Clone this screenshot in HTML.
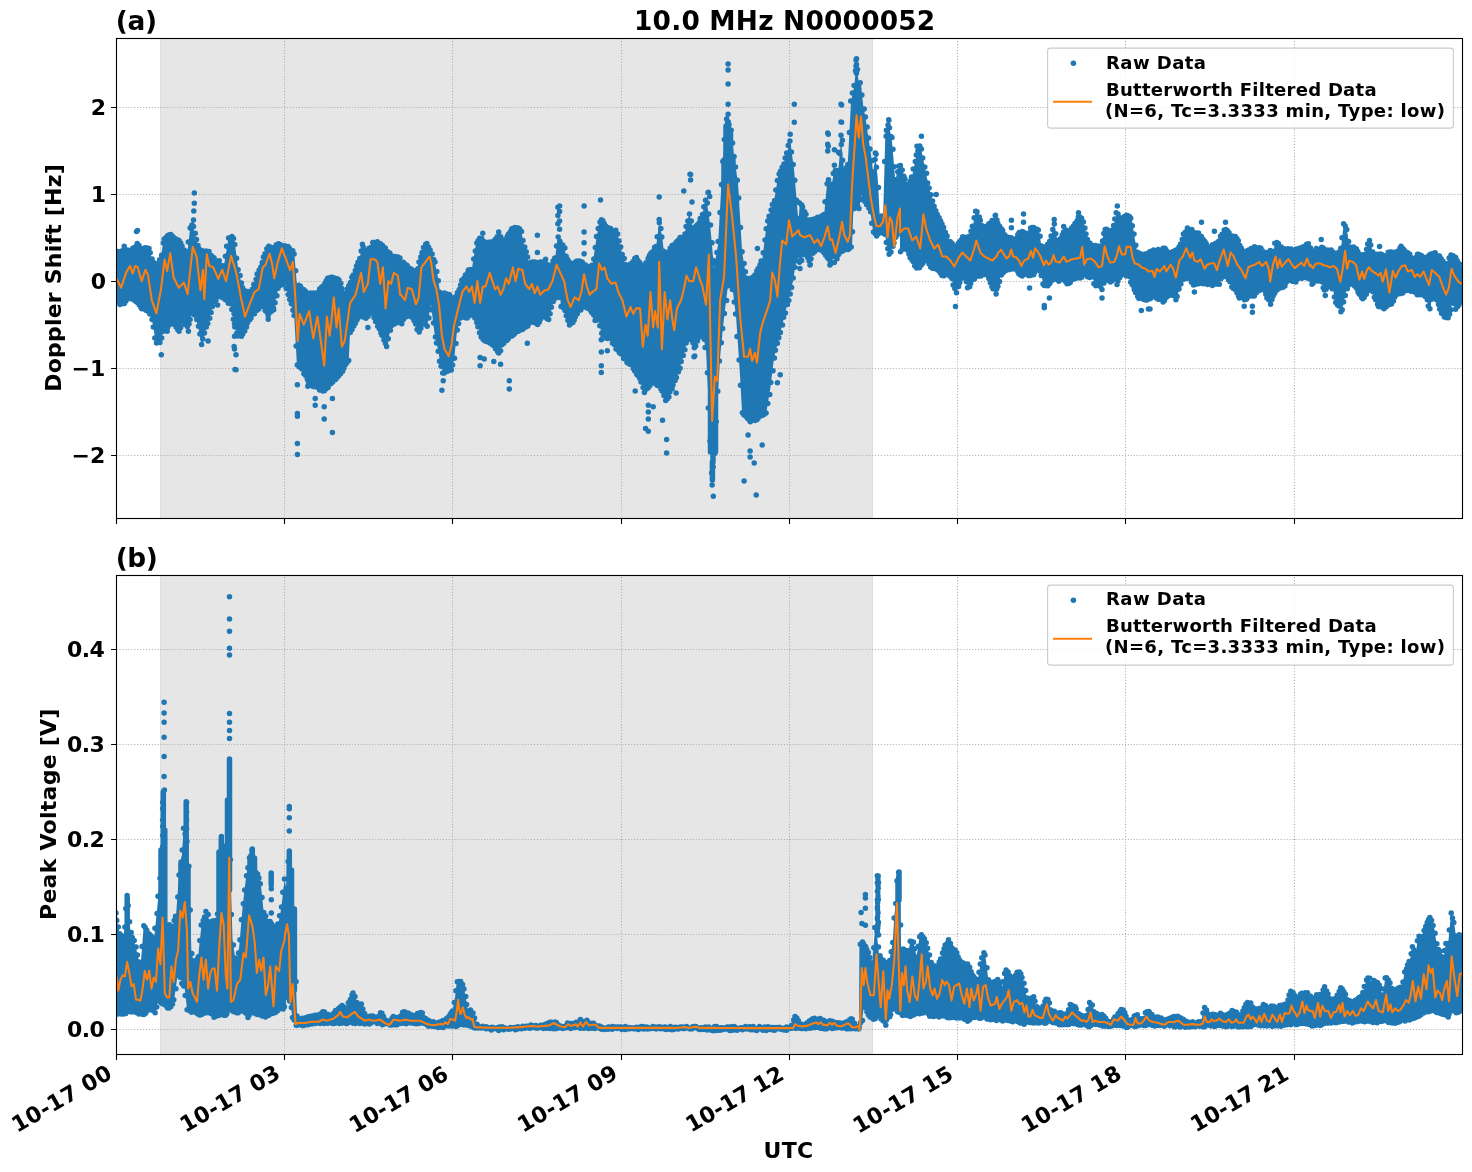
<!DOCTYPE html>
<html><head><meta charset="utf-8"><title>10.0 MHz N0000052</title>
<style>html,body{margin:0;padding:0;background:#fff;}svg{display:block;will-change:transform;}</style></head>
<body>
<svg width="1472" height="1172" viewBox="0 0 1472 1172">
<rect width="1472" height="1172" fill="#fff"/>
<defs><clipPath id="ca"><rect x="116.5" y="38.5" width="1346.0" height="480.0"/></clipPath><clipPath id="cb"><rect x="116.5" y="575.5" width="1346.0" height="479.0"/></clipPath></defs>
<rect x="160" y="38.5" width="713" height="480.0" fill="#e6e6e6"/>
<path d="M160.5 38.5V518.5M872.5 38.5V518.5" stroke="#dddddd" stroke-width="1"/>
<path d="M284.5 518.5V38.5M452.5 518.5V38.5M621.5 518.5V38.5M789.5 518.5V38.5M957.5 518.5V38.5M1125.5 518.5V38.5M1294.5 518.5V38.5M116.5 107.5H1462.5M116.5 194.5H1462.5M116.5 281.5H1462.5M116.5 368.5H1462.5M116.5 455.5H1462.5" stroke="#b0b0b0" stroke-width="1.11" stroke-dasharray="1.11 1.83" fill="none"/>
<g clip-path="url(#ca)"><polygon points="113.0,252.9 116.5,252.9 118.5,252.4 120.5,251.9 121.1,251.8 122.4,251.6 122.5,251.6 124.5,251.2 126.5,250.9 128.5,250.6 128.8,250.5 130.5,249.3 132.5,247.9 133.9,246.9 134.5,246.4 136.5,245.0 137.8,244.1 138.5,245.4 140.5,248.7 141.6,250.5 142.5,250.0 144.5,248.8 146.5,247.6 148.0,246.7 148.5,248.2 149.3,250.5 150.5,254.2 151.8,258.2 152.5,259.5 153.1,260.8 154.5,263.5 155.7,265.9 156.5,267.5 156.9,268.4 158.5,264.3 160.5,258.9 160.8,258.2 162.5,247.0 163.3,241.6 164.5,240.2 164.6,240.0 166.5,237.8 167.2,237.0 168.5,235.4 169.7,233.9 170.5,234.8 172.3,237.1 172.5,237.3 174.5,239.8 174.9,240.3 176.5,239.7 178.5,239.1 178.7,239.0 180.5,243.1 182.5,247.6 183.8,250.5 184.5,250.5 186.5,250.5 187.6,250.5 188.5,242.8 190.2,227.5 190.5,227.2 192.5,225.2 192.8,224.9 194.5,231.9 196.5,239.9 197.9,245.4 198.5,246.3 200.5,249.3 201.7,251.2 202.5,252.3 203.0,253.1 204.5,252.3 205.6,251.8 206.5,251.3 208.1,250.5 208.5,251.1 210.5,254.1 212.5,257.1 213.2,258.2 214.5,258.8 216.5,259.8 218.4,260.8 218.5,261.0 220.5,264.0 222.5,267.0 223.5,268.4 224.5,262.3 226.0,253.1 226.5,250.3 228.5,238.3 228.6,237.7 230.0,237.4 230.5,237.2 232.5,237.3 232.7,237.5 233.7,238.1 234.1,238.4 234.5,241.4 236.5,256.0 236.8,258.4 238.2,268.4 238.5,269.9 240.5,279.2 240.9,281.2 242.3,287.5 242.5,287.8 244.5,290.5 246.4,293.0 246.5,292.9 248.5,291.9 250.5,290.9 251.8,290.3 252.5,288.3 254.5,282.3 256.5,276.3 257.3,273.9 258.5,270.9 260.5,265.9 262.5,260.9 262.8,260.2 264.5,255.9 266.5,250.9 268.2,246.6 268.5,246.7 270.5,247.2 272.5,247.7 273.7,247.9 274.5,247.3 276.5,245.8 278.5,244.3 279.1,243.9 280.5,244.5 282.5,245.5 284.5,246.5 284.6,246.6 286.5,247.1 288.5,247.6 288.7,247.6 290.1,247.9 290.5,248.4 292.5,250.4 294.2,252.0 294.5,256.1 296.5,280.1 296.9,284.8 298.5,285.9 300.5,287.2 301.0,287.5 302.5,289.0 304.5,291.0 306.5,293.0 306.5,293.0 308.5,293.5 310.5,294.0 311.9,294.4 312.5,294.2 314.5,293.7 316.5,293.2 317.4,293.0 318.5,291.3 320.5,288.3 322.5,285.3 322.8,284.8 324.5,282.7 326.5,280.2 328.3,278.0 328.5,277.9 330.5,277.4 332.5,276.9 333.8,276.6 334.5,277.0 336.5,278.0 338.5,279.0 339.2,279.3 340.5,283.2 342.5,289.2 344.5,295.2 344.7,295.7 346.5,291.2 348.5,286.2 348.8,285.5 350.1,282.1 350.5,281.2 352.5,276.2 354.5,271.2 355.6,268.4 356.5,266.0 358.5,260.7 359.7,257.5 360.5,254.3 361.1,252.0 362.4,246.6 362.5,246.7 364.5,250.7 366.5,254.7 366.5,254.8 368.5,250.8 370.5,246.8 372.0,243.9 372.5,243.6 374.5,242.6 376.5,241.6 377.4,241.1 378.5,242.2 380.5,244.2 382.5,246.2 382.9,246.6 384.5,248.2 386.5,250.2 387.0,250.7 388.4,252.0 388.5,252.2 390.5,254.2 391.1,254.8 392.5,256.2 393.8,257.5 394.5,257.5 396.5,257.5 398.5,257.5 399.3,257.5 400.5,259.6 400.9,261.6 402.5,262.8 404.5,264.3 406.4,265.7 406.5,265.8 408.5,266.8 410.5,267.8 411.8,268.4 412.5,269.3 414.5,272.0 415.9,273.9 416.5,271.6 418.5,263.6 418.7,263.0 420.0,257.5 420.5,256.3 422.5,250.9 422.8,250.2 424.1,246.6 424.5,246.2 426.5,244.2 426.9,243.9 428.5,247.1 430.5,251.1 431.0,252.0 432.5,256.2 434.5,261.5 435.1,263.0 436.5,270.2 437.8,276.6 438.5,281.6 440.5,295.6 440.5,295.7 442.5,294.4 443.2,293.9 444.5,293.1 444.6,293.0 446.5,293.6 447.3,293.9 448.5,294.3 448.7,294.4 450.5,297.4 451.4,298.9 452.5,300.7 452.8,301.2 454.2,298.5 454.5,297.8 456.5,293.8 456.9,293.0 458.3,290.3 458.5,289.6 460.5,284.3 461.0,283.0 462.4,279.3 462.5,279.1 464.5,276.1 466.5,273.2 466.5,273.1 467.8,271.2 468.5,270.7 470.5,269.4 471.9,268.4 472.5,264.9 474.5,252.9 476.0,243.9 476.5,243.2 477.4,242.0 478.5,240.5 480.1,238.4 480.5,238.7 481.5,239.3 482.5,240.0 484.2,241.1 484.5,241.3 485.6,242.0 486.5,242.7 488.3,243.9 488.5,243.7 490.5,242.7 491.0,242.5 492.5,241.7 493.8,241.1 494.5,240.4 495.1,239.8 496.5,238.4 498.5,236.4 499.2,235.7 500.5,236.9 502.5,238.9 503.3,239.8 504.5,240.9 504.7,241.1 506.5,237.5 507.4,235.7 508.5,233.5 510.1,230.2 510.5,230.0 512.5,229.0 514.5,228.0 515.6,227.5 516.5,227.9 518.5,228.9 520.5,229.9 521.1,230.2 522.5,237.4 523.8,243.9 524.5,246.3 526.5,253.3 526.5,253.4 528.5,260.3 529.2,263.0 530.5,263.0 532.0,263.0 532.5,263.0 534.5,263.0 534.7,263.0 536.5,263.0 537.4,263.0 538.5,263.0 540.2,263.0 540.5,263.0 542.5,263.0 542.9,263.0 544.5,263.0 545.6,263.0 546.5,263.4 548.4,264.3 548.5,264.4 550.5,265.4 551.1,265.7 552.5,262.9 553.8,260.2 554.5,258.9 555.2,257.5 556.5,247.0 557.9,235.7 558.5,237.7 559.3,239.8 560.5,241.8 560.9,243.9 562.5,243.9 563.7,243.9 564.5,248.1 565.0,250.7 566.4,257.5 566.5,257.7 568.5,261.7 569.1,263.0 570.5,265.7 570.5,265.7 571.8,264.8 572.5,264.3 574.5,263.0 574.6,263.0 575.9,262.5 576.5,262.3 578.5,261.7 578.7,261.6 580.0,262.1 580.5,262.2 582.5,262.9 582.8,263.0 584.1,264.3 584.5,264.7 586.5,266.7 588.2,268.4 588.5,268.2 589.6,267.5 590.5,266.9 592.3,265.7 592.5,264.5 594.5,251.2 595.1,247.5 596.4,238.4 596.5,237.9 598.5,225.9 599.1,222.0 600.5,220.7 601.9,219.3 602.5,220.5 604.5,224.5 604.6,224.7 606.0,225.6 606.5,226.0 608.5,227.3 608.7,227.5 610.1,228.4 610.5,228.7 612.5,230.0 612.8,230.2 614.5,230.2 615.5,230.2 616.5,230.2 616.9,230.2 618.5,238.2 619.6,243.9 620.5,247.4 621.0,249.3 622.4,254.8 622.5,255.3 624.5,261.9 626.5,268.4 626.5,268.4 628.5,266.4 630.5,264.4 631.9,263.0 632.5,262.2 634.5,259.5 636.0,257.5 636.5,258.2 638.5,260.8 640.1,263.0 640.5,263.5 642.5,266.2 644.2,268.4 644.5,267.6 646.5,262.3 648.3,257.5 648.5,257.2 650.5,254.6 652.4,252.0 652.5,251.8 654.5,247.8 656.5,243.9 656.5,243.7 658.5,227.7 659.2,222.0 660.5,228.4 661.9,235.7 662.5,240.1 664.5,256.1 664.7,257.5 666.0,256.1 666.5,255.7 667.4,254.8 668.5,252.6 670.1,249.3 670.5,248.6 671.5,246.6 672.5,245.9 674.2,244.8 674.5,244.6 675.6,243.9 676.5,242.6 678.3,240.2 678.5,240.0 679.7,238.4 680.5,238.4 682.4,238.4 682.5,238.4 683.8,238.4 684.5,234.8 686.5,224.8 686.5,224.7 688.5,216.8 689.2,213.8 690.0,216.8 690.5,218.8 690.6,219.3 692.5,226.8 693.3,230.2 694.0,229.3 694.5,228.7 694.7,228.4 696.5,226.0 697.4,224.7 698.0,224.0 698.5,223.3 698.8,222.9 700.5,217.7 701.5,216.7 702.0,216.2 702.5,213.8 702.9,211.8 704.5,203.8 705.6,198.2 706.0,196.1 706.5,199.3 708.0,210.1 708.4,212.4 708.5,213.3 710.0,224.2 710.5,229.2 712.1,246.2 712.5,251.2 714.1,268.3 714.5,265.6 714.9,263.5 716.5,253.6 717.3,249.0 718.1,244.2 718.5,236.4 720.1,208.1 720.5,200.4 722.1,172.1 722.5,166.6 724.1,146.0 724.5,140.6 726.1,119.9 726.5,120.3 728.1,121.9 728.5,122.3 730.1,123.9 730.5,127.2 732.1,140.0 732.5,143.2 734.1,156.0 734.5,158.8 736.1,170.1 736.5,172.8 738.1,184.1 738.5,190.6 740.1,218.2 740.5,224.6 742.1,252.3 742.5,254.5 744.5,266.5 746.1,276.3 746.5,276.7 748.5,278.7 750.1,280.3 750.5,280.0 752.5,278.0 754.2,276.3 754.5,275.6 756.5,271.6 758.2,268.3 758.5,267.6 760.5,263.6 762.2,260.3 762.5,257.7 764.5,241.7 766.2,228.2 766.5,226.9 768.5,218.9 770.2,212.2 770.5,211.2 772.5,205.2 774.2,200.1 774.5,198.3 776.5,186.3 778.2,176.1 778.5,175.5 780.5,171.5 782.2,168.0 782.5,167.2 784.5,161.2 786.2,156.0 786.5,154.9 788.5,146.9 790.2,140.0 790.5,142.1 792.2,156.0 792.5,158.1 794.3,172.1 794.5,175.1 796.3,196.1 796.5,199.1 798.3,220.2 798.5,220.9 800.0,201.2 800.5,202.3 802.3,206.3 802.5,206.8 804.4,211.2 804.5,211.3 806.5,215.8 808.5,220.3 808.9,221.1 810.0,220.8 810.3,220.7 810.5,220.6 812.5,219.9 813.3,219.7 814.5,219.3 816.5,218.6 818.3,218.0 818.5,217.9 820.5,217.3 822.2,216.7 822.5,216.0 824.4,212.3 824.5,211.1 826.3,191.6 826.5,189.8 827.7,176.8 828.5,179.9 829.9,185.7 830.3,187.3 830.5,187.9 831.0,190.1 832.5,180.4 833.3,175.3 834.3,168.1 834.4,167.9 834.5,168.3 836.5,173.6 836.6,173.8 837.7,176.8 838.4,169.7 838.5,168.2 839.9,153.1 840.5,146.9 841.0,141.3 842.4,153.9 842.5,155.1 844.3,172.4 844.5,172.0 846.4,168.3 846.5,168.0 847.7,165.7 848.5,149.7 848.8,144.3 850.4,113.2 850.5,111.0 851.0,101.4 852.1,96.2 852.4,94.9 852.5,94.4 853.2,91.1 854.3,85.9 854.4,85.1 854.5,83.9 855.4,73.7 856.5,61.9 856.5,61.5 857.6,72.1 858.4,80.1 858.5,81.1 858.8,83.7 860.0,83.7 860.0,83.7 860.5,83.7 861.0,83.7 862.1,94.7 862.5,98.9 863.2,105.8 864.1,110.2 864.5,112.4 865.4,116.9 866.5,124.5 866.5,124.7 867.6,132.4 868.1,135.4 868.5,138.3 869.8,147.2 870.5,151.6 871.0,154.6 872.1,163.6 872.5,167.0 873.2,172.4 874.5,163.0 875.4,156.8 876.1,163.1 876.5,166.8 876.5,166.8 877.6,176.8 878.5,192.9 879.8,216.7 880.1,216.7 880.5,216.7 882.5,216.7 883.1,216.7 884.1,180.3 884.3,174.6 884.5,165.3 885.4,132.4 886.5,129.4 887.6,126.5 888.1,125.1 888.5,124.1 888.7,123.6 889.8,129.5 890.5,133.2 892.0,141.3 892.1,142.6 892.5,147.1 893.1,154.6 894.5,171.1 895.3,181.2 896.1,177.0 896.5,175.3 896.5,175.1 898.5,164.4 898.7,163.5 899.8,167.0 900.1,164.0 900.5,165.1 902.5,171.1 904.2,176.1 904.5,177.1 906.5,183.1 908.2,188.1 908.5,187.1 910.5,181.1 912.2,176.1 912.5,174.4 914.5,164.4 916.2,156.0 916.5,155.1 918.5,149.1 920.2,144.0 920.5,145.5 922.5,155.5 924.2,164.0 924.5,165.5 926.5,175.5 928.2,184.1 928.5,185.2 930.5,193.2 932.2,200.1 932.5,201.0 934.5,207.0 936.2,212.2 936.5,212.7 938.5,216.7 940.2,220.2 940.5,220.7 942.5,224.7 944.3,228.2 944.5,228.9 946.5,234.9 948.3,240.2 948.5,240.5 950.5,242.5 952.3,244.2 952.5,244.5 954.5,246.5 956.3,248.2 956.5,247.8 958.5,243.8 960.3,240.2 960.5,240.0 962.5,238.0 964.3,236.2 964.5,236.4 966.5,238.4 968.3,240.2 968.5,239.6 970.5,233.6 972.3,228.2 972.5,227.3 974.5,217.3 976.3,208.1 976.5,208.7 978.5,214.7 980.3,220.2 980.5,220.7 982.5,226.7 984.3,232.2 984.5,231.9 986.5,227.9 988.4,224.2 988.5,224.0 990.0,222.5 990.5,222.0 992.4,220.2 992.5,220.2 994.1,220.2 994.5,220.2 996.4,220.2 996.5,220.4 996.8,221.1 998.2,223.8 998.5,224.4 999.6,226.5 1000.4,228.2 1000.5,228.2 1002.3,228.8 1002.5,229.2 1003.7,231.5 1004.4,233.0 1004.5,233.2 1006.4,237.0 1006.5,237.0 1007.7,237.5 1008.5,237.7 1010.0,238.2 1010.5,238.4 1010.5,238.4 1011.8,239.3 1012.5,239.7 1014.5,241.0 1014.6,241.1 1015.9,238.4 1016.5,237.2 1018.5,233.2 1018.7,232.9 1020.0,232.4 1020.5,232.3 1022.5,231.6 1022.8,231.5 1024.5,233.3 1025.5,234.3 1026.5,235.3 1026.9,235.6 1028.5,232.4 1029.6,230.2 1030.5,228.4 1031.0,227.4 1032.5,228.0 1033.7,228.4 1034.5,228.6 1035.1,228.8 1036.5,229.8 1037.8,230.6 1038.5,231.1 1039.2,231.5 1040.5,240.3 1040.5,240.4 1041.9,249.3 1042.5,248.9 1043.2,248.4 1044.5,247.5 1046.0,246.6 1046.5,245.9 1047.3,244.7 1048.5,243.2 1050.1,241.1 1050.5,239.2 1051.4,235.0 1052.5,230.2 1052.8,228.8 1054.2,224.7 1054.5,226.3 1055.5,231.5 1056.5,236.3 1056.9,238.4 1058.5,240.0 1059.6,241.1 1060.5,239.4 1062.5,235.4 1063.7,232.9 1064.5,232.4 1066.5,231.1 1067.8,230.2 1068.5,229.9 1070.5,229.3 1071.9,228.8 1072.5,227.8 1074.5,224.5 1076.0,222.0 1076.5,221.0 1078.5,217.0 1078.7,216.5 1080.1,217.9 1080.5,218.3 1082.5,220.3 1082.8,220.6 1084.2,226.1 1084.5,227.2 1085.6,231.5 1086.5,234.3 1088.3,239.7 1088.5,240.2 1090.5,245.2 1091.0,246.6 1092.4,246.6 1092.5,246.6 1094.5,246.6 1095.1,246.6 1096.5,246.6 1096.5,246.6 1098.5,245.9 1099.2,245.6 1100.5,245.2 1100.6,245.2 1102.0,240.4 1102.5,238.5 1103.3,235.6 1104.5,232.7 1106.1,228.8 1106.5,229.4 1108.5,232.1 1110.2,234.3 1110.5,233.3 1112.5,228.0 1114.2,223.3 1114.5,222.2 1116.5,213.2 1117.0,211.1 1118.3,214.2 1118.5,214.6 1120.5,219.3 1121.1,220.6 1122.4,219.2 1122.5,219.2 1124.5,217.2 1125.2,216.5 1126.5,215.9 1127.9,215.2 1128.5,215.9 1129.3,217.0 1130.5,218.6 1132.0,220.6 1132.5,223.9 1133.4,229.5 1134.5,236.9 1134.7,238.4 1136.5,248.1 1137.5,253.4 1138.5,253.7 1140.5,254.4 1141.6,254.7 1142.5,254.7 1144.5,254.7 1146.5,254.7 1147.0,254.7 1148.5,253.6 1150.0,252.5 1150.5,252.1 1152.5,250.7 1152.5,250.7 1154.1,251.2 1154.5,251.3 1155.5,250.7 1156.5,250.4 1156.6,250.4 1158.2,250.0 1158.5,249.9 1160.0,249.5 1160.5,249.4 1160.9,249.3 1162.3,248.8 1162.5,248.8 1164.5,248.1 1165.0,247.9 1166.4,249.7 1166.5,249.9 1168.5,252.6 1169.1,253.4 1170.5,253.0 1170.5,253.0 1172.5,252.5 1174.5,252.0 1174.6,252.0 1176.5,250.1 1176.6,250.0 1178.5,248.1 1178.7,247.9 1179.4,246.2 1180.5,243.4 1181.4,241.1 1182.1,239.4 1182.5,238.4 1184.1,234.3 1184.5,233.5 1185.5,231.5 1186.5,229.5 1186.9,228.8 1188.5,229.4 1189.6,229.7 1190.5,230.0 1191.0,230.2 1192.5,230.7 1193.7,231.1 1194.5,231.4 1195.1,231.5 1196.5,232.5 1197.8,233.4 1198.5,233.8 1199.2,234.3 1200.5,235.6 1201.9,237.0 1202.5,237.6 1203.2,238.4 1204.5,240.9 1206.0,243.8 1206.5,244.9 1207.3,246.6 1208.5,247.7 1210.1,249.3 1210.5,248.7 1212.5,245.7 1212.8,245.2 1214.2,244.7 1214.5,244.6 1216.5,244.0 1216.9,243.8 1218.3,241.1 1218.5,240.6 1220.5,236.6 1221.0,235.6 1222.5,233.1 1224.5,229.8 1225.1,228.8 1226.5,230.7 1228.5,233.3 1229.2,234.3 1230.5,234.7 1231.9,235.2 1232.5,235.4 1233.3,235.6 1234.5,236.8 1234.7,237.0 1236.5,238.8 1237.4,239.7 1238.5,242.3 1240.5,247.0 1241.5,249.3 1242.5,250.3 1244.5,252.3 1245.6,253.4 1246.5,252.5 1248.5,250.5 1249.7,249.3 1250.5,249.0 1252.5,248.3 1253.8,247.9 1254.5,247.7 1256.5,247.0 1257.9,246.6 1258.5,247.2 1260.5,249.2 1262.0,250.7 1262.5,251.0 1264.5,252.3 1266.1,253.4 1266.5,253.1 1268.5,251.8 1270.2,250.7 1270.5,251.0 1272.5,253.0 1272.9,253.4 1274.2,247.2 1274.5,246.1 1275.6,241.1 1276.5,242.0 1278.3,243.8 1278.5,244.1 1280.5,247.1 1281.1,247.9 1282.4,247.9 1282.5,247.9 1284.5,247.9 1285.2,247.9 1286.5,248.4 1286.5,248.4 1288.5,249.0 1289.3,249.3 1290.5,249.7 1290.6,249.7 1292.5,250.4 1293.4,250.7 1294.5,250.3 1294.7,250.2 1296.5,249.6 1297.5,249.3 1298.5,248.9 1298.8,248.8 1300.0,248.4 1300.5,248.3 1301.6,247.9 1302.5,247.6 1302.9,247.5 1304.1,247.1 1304.5,246.9 1305.7,246.6 1306.5,245.7 1307.0,245.2 1308.2,244.0 1308.4,243.8 1308.5,244.2 1310.5,249.2 1311.1,250.6 1312.3,253.4 1312.5,253.2 1312.5,253.2 1314.5,251.2 1315.2,250.5 1316.4,249.3 1316.5,249.2 1316.6,249.2 1318.5,248.6 1320.0,248.1 1320.5,247.9 1320.5,247.9 1322.5,248.6 1324.5,249.3 1324.6,249.3 1326.5,249.3 1328.5,249.3 1328.7,249.3 1330.5,250.5 1332.5,251.8 1332.8,252.0 1334.5,253.2 1335.5,253.8 1336.5,254.5 1336.9,254.7 1338.2,252.5 1338.5,252.0 1340.5,248.7 1341.0,247.9 1342.5,234.8 1343.7,224.7 1344.5,225.1 1346.4,226.1 1346.5,226.6 1348.5,240.6 1349.2,245.2 1350.5,246.5 1350.5,246.6 1351.9,247.9 1352.5,247.9 1354.5,247.9 1354.6,247.9 1356.0,247.9 1356.5,249.0 1358.5,253.0 1358.7,253.4 1360.1,256.1 1360.5,256.0 1362.5,255.3 1362.8,255.2 1364.2,254.7 1364.5,253.9 1366.5,248.9 1366.9,247.9 1368.5,241.5 1369.0,239.7 1370.5,243.9 1371.0,245.2 1372.5,251.2 1373.7,256.1 1374.5,255.9 1376.5,255.2 1377.8,254.7 1378.5,254.7 1380.5,254.7 1381.9,254.7 1382.5,255.1 1384.5,256.5 1384.7,256.6 1386.0,257.5 1386.5,256.7 1388.5,253.3 1388.7,252.9 1390.1,250.7 1390.5,251.0 1392.5,253.0 1392.8,253.4 1394.2,254.7 1394.5,254.5 1395.6,253.4 1396.5,252.5 1398.3,250.7 1398.5,250.4 1399.7,248.6 1400.5,247.4 1401.0,246.6 1402.5,248.0 1403.8,249.3 1404.5,250.0 1405.1,250.7 1406.5,252.0 1407.9,253.4 1408.5,254.0 1409.2,254.7 1410.5,256.4 1412.0,258.4 1412.5,259.1 1413.3,260.2 1414.5,258.6 1416.1,256.6 1416.5,256.0 1417.4,254.7 1418.5,254.7 1420.2,254.7 1420.5,254.7 1421.5,254.7 1422.5,255.7 1424.2,257.5 1424.5,257.7 1425.6,258.8 1426.5,258.0 1428.3,256.1 1428.5,256.0 1429.7,254.7 1430.5,254.0 1432.4,252.0 1432.5,252.1 1434.5,253.4 1436.5,254.7 1436.5,254.7 1438.5,256.1 1440.5,257.4 1440.6,257.5 1442.5,259.3 1443.4,260.2 1444.5,264.8 1444.7,265.7 1446.1,271.1 1446.5,269.3 1447.5,265.0 1448.5,260.3 1448.8,258.8 1450.2,256.8 1450.5,256.3 1451.6,254.7 1452.5,255.4 1452.9,255.7 1454.5,256.7 1455.7,257.5 1456.5,259.2 1458.4,262.9 1458.5,263.2 1460.5,268.0 1461.8,271.1 1462.5,271.1 1466.0,271.1 1466.0,301.9 1462.5,301.9 1461.8,301.9 1460.5,302.9 1458.5,304.5 1458.4,304.6 1456.5,307.4 1455.7,308.7 1454.5,304.7 1452.9,299.1 1452.5,301.5 1451.6,306.6 1450.5,312.5 1450.2,314.2 1448.8,316.2 1448.5,316.7 1447.5,318.2 1446.5,317.8 1446.1,317.6 1444.7,316.9 1444.5,316.6 1443.4,315.1 1442.5,313.9 1440.6,311.4 1440.5,311.0 1438.5,305.0 1436.5,299.1 1436.5,299.1 1434.5,296.4 1432.5,293.8 1432.4,293.7 1430.5,307.3 1429.7,312.8 1428.5,305.5 1428.3,304.6 1426.5,299.1 1425.6,296.4 1424.5,293.1 1424.2,292.3 1422.5,294.1 1421.5,295.0 1420.5,296.1 1420.2,296.4 1418.5,295.3 1417.4,294.6 1416.5,294.0 1416.1,293.7 1414.5,292.6 1413.3,291.9 1412.5,291.3 1412.0,290.9 1410.5,290.0 1409.2,289.1 1408.5,288.6 1407.9,288.2 1406.5,289.6 1405.1,290.9 1404.5,291.6 1403.8,292.3 1402.5,292.7 1401.0,293.2 1400.5,293.4 1399.7,293.7 1398.5,294.5 1398.3,294.6 1396.5,295.8 1395.6,296.4 1394.5,299.1 1394.2,299.8 1392.8,303.2 1392.5,303.2 1390.5,303.2 1390.1,303.2 1388.7,303.2 1388.5,303.6 1386.5,306.2 1386.0,306.9 1384.7,308.7 1384.5,308.5 1382.5,306.5 1381.9,306.0 1380.5,306.0 1378.5,306.0 1377.8,306.0 1376.5,302.4 1374.5,297.1 1373.7,295.0 1372.5,290.7 1371.0,285.5 1370.5,286.5 1369.0,289.6 1368.5,290.5 1366.9,293.7 1366.5,294.2 1364.5,296.9 1364.2,297.3 1362.8,299.1 1362.5,298.6 1360.5,295.3 1360.1,294.6 1358.7,292.3 1358.5,292.0 1356.5,288.6 1356.0,287.8 1354.6,285.5 1354.5,285.3 1352.5,282.7 1351.9,281.8 1350.5,280.0 1350.5,280.1 1349.2,283.2 1348.5,284.7 1346.5,289.4 1346.4,289.6 1344.5,299.2 1343.7,303.2 1342.5,308.0 1341.0,314.2 1340.5,312.5 1338.5,305.5 1338.2,304.6 1336.9,303.9 1336.5,303.7 1335.5,303.2 1334.5,297.7 1332.8,288.2 1332.5,288.0 1330.5,286.7 1328.7,285.5 1328.5,285.7 1326.5,288.4 1324.6,290.9 1324.5,290.7 1322.5,285.4 1320.5,280.1 1320.5,280.0 1320.0,280.0 1318.5,280.0 1316.6,280.0 1316.5,280.0 1316.4,280.0 1315.2,281.2 1314.5,281.9 1312.5,283.9 1312.5,283.9 1312.3,284.1 1311.1,282.2 1310.5,281.1 1308.5,279.1 1308.4,279.0 1308.2,278.8 1307.0,277.3 1306.5,277.3 1305.7,277.3 1304.5,277.3 1304.1,277.3 1302.9,277.3 1302.5,277.3 1301.6,277.3 1300.5,277.3 1300.0,277.3 1298.8,277.3 1298.5,277.7 1297.5,279.1 1296.5,280.4 1294.7,282.7 1294.5,282.5 1293.4,281.4 1292.5,280.5 1290.6,278.7 1290.5,278.8 1289.3,280.0 1288.5,280.8 1286.5,282.7 1286.5,282.8 1285.2,285.0 1284.5,286.1 1282.5,289.5 1282.4,289.6 1281.1,288.2 1280.5,287.6 1278.5,285.6 1278.3,285.5 1276.5,289.2 1275.6,290.9 1274.5,293.2 1274.2,293.7 1272.9,297.3 1272.5,298.3 1270.5,303.7 1270.2,304.6 1268.5,300.7 1266.5,296.1 1266.1,295.0 1264.5,292.4 1262.5,289.1 1262.0,288.2 1260.5,289.2 1258.5,290.5 1257.9,290.9 1256.5,292.8 1254.5,295.4 1253.8,296.4 1252.5,296.4 1250.5,296.4 1249.7,296.4 1248.5,297.2 1246.5,298.5 1245.6,299.1 1244.5,298.8 1242.5,298.1 1241.5,297.8 1240.5,297.4 1238.5,296.8 1237.4,296.4 1236.5,293.8 1234.7,288.2 1234.5,288.1 1233.3,287.5 1232.5,287.1 1231.9,286.8 1230.5,283.3 1229.2,280.0 1228.5,279.3 1226.5,277.3 1225.1,275.9 1224.5,276.1 1222.5,276.8 1221.0,277.3 1220.5,278.8 1218.5,284.8 1218.3,285.5 1216.9,285.0 1216.5,284.9 1214.5,284.2 1214.2,284.1 1212.8,284.6 1212.5,284.7 1210.5,285.3 1210.1,285.5 1208.5,285.0 1207.3,284.6 1206.5,284.3 1206.0,284.1 1204.5,283.6 1203.2,283.2 1202.5,283.0 1201.9,282.7 1200.5,282.7 1199.2,282.7 1198.5,282.7 1197.8,282.7 1196.5,284.0 1195.1,285.5 1194.5,286.0 1193.7,286.8 1192.5,284.1 1191.0,280.5 1190.5,279.4 1189.6,277.3 1188.5,277.3 1186.9,277.3 1186.5,277.3 1185.5,277.3 1184.5,278.1 1184.1,278.4 1182.5,279.7 1182.1,280.0 1181.4,282.1 1180.5,284.8 1179.4,288.2 1178.7,291.3 1178.5,292.1 1176.6,300.5 1176.5,300.2 1174.6,296.4 1174.5,296.4 1172.5,295.7 1170.5,295.0 1170.5,295.0 1169.1,295.9 1168.5,296.4 1166.5,297.7 1166.4,297.8 1165.0,299.1 1164.5,299.7 1162.5,301.7 1162.3,301.9 1160.9,301.0 1160.5,300.7 1160.0,300.3 1158.5,299.3 1158.2,299.1 1156.6,299.1 1156.5,299.1 1155.5,299.1 1154.5,296.4 1154.1,296.4 1152.5,296.4 1152.5,296.4 1150.5,297.4 1150.0,297.6 1148.5,298.4 1147.0,299.1 1146.5,299.1 1144.5,299.1 1142.5,299.1 1141.6,299.1 1140.5,298.4 1138.5,297.1 1137.5,296.4 1136.5,294.2 1134.7,290.0 1134.5,289.5 1133.4,286.8 1132.5,284.8 1132.0,283.7 1130.5,280.2 1129.3,277.3 1128.5,277.0 1127.9,276.8 1126.5,276.4 1125.2,275.9 1124.5,274.9 1122.5,271.9 1122.4,271.8 1121.1,274.6 1120.5,275.7 1118.5,279.7 1118.3,280.0 1117.0,279.6 1116.5,279.4 1114.5,278.7 1114.2,278.7 1112.5,279.8 1110.5,281.2 1110.2,281.4 1108.5,279.7 1106.5,277.7 1106.1,277.3 1104.5,282.0 1103.3,285.5 1102.5,288.0 1102.0,289.6 1100.6,286.8 1100.5,286.7 1099.2,284.1 1098.5,284.4 1096.5,285.0 1096.5,285.0 1095.1,285.5 1094.5,283.6 1092.5,277.6 1092.4,277.3 1091.0,277.3 1090.5,277.3 1088.5,277.3 1088.3,277.3 1086.5,276.1 1085.6,275.5 1084.5,274.7 1084.2,274.6 1082.8,275.5 1082.5,275.7 1080.5,277.0 1080.1,277.3 1078.7,277.3 1078.5,277.3 1076.5,277.3 1076.0,277.3 1074.5,278.3 1072.5,279.6 1071.9,280.0 1070.5,281.9 1068.5,284.6 1067.8,285.5 1066.5,283.7 1064.5,281.0 1063.7,280.0 1062.5,280.4 1060.5,281.1 1059.6,281.4 1058.5,280.2 1056.9,278.7 1056.5,278.2 1055.5,277.3 1054.5,278.0 1054.2,278.2 1052.8,279.1 1052.5,279.3 1051.4,280.0 1050.5,281.3 1050.1,281.8 1048.5,283.9 1047.3,285.5 1046.5,285.2 1046.0,285.0 1044.5,284.5 1043.2,284.1 1042.5,280.7 1041.9,278.0 1040.5,271.8 1040.5,271.8 1039.2,269.8 1038.5,268.8 1037.8,267.7 1036.5,269.9 1035.1,272.3 1034.5,273.2 1033.7,274.6 1032.5,275.4 1031.0,276.4 1030.5,276.7 1029.6,277.3 1028.5,275.5 1026.9,272.7 1026.5,272.1 1025.5,270.5 1024.5,273.0 1022.8,277.3 1022.5,277.0 1020.5,275.0 1020.0,274.6 1018.7,272.7 1018.5,272.5 1016.5,269.8 1015.9,269.1 1014.6,268.6 1014.5,268.6 1012.5,267.9 1011.8,267.7 1010.5,268.2 1010.5,268.2 1010.0,268.3 1008.5,268.8 1007.7,269.1 1006.5,269.9 1006.4,270.0 1004.5,271.3 1004.4,271.3 1003.7,271.8 1002.5,273.4 1002.3,273.6 1000.5,276.0 1000.4,276.2 999.6,282.5 998.5,284.6 998.2,285.2 996.8,288.0 996.5,288.6 996.4,288.9 994.5,288.9 994.1,288.9 992.5,288.9 992.4,288.9 990.5,283.3 990.0,281.8 988.5,277.3 988.4,276.8 986.5,275.0 984.5,273.0 984.3,272.8 982.5,274.7 980.5,276.7 980.3,276.8 978.5,276.8 976.5,276.8 976.3,276.8 974.5,278.7 972.5,280.7 972.3,280.8 970.5,284.5 968.5,288.5 968.3,288.9 966.5,283.4 964.5,277.4 964.3,276.8 962.5,278.6 960.5,280.6 960.3,280.8 958.5,286.2 956.5,292.2 956.3,292.9 954.5,287.5 952.5,281.5 952.3,280.8 950.5,277.3 948.5,273.3 948.3,272.8 946.5,274.6 944.5,276.6 944.3,276.8 942.5,275.1 940.5,273.1 940.2,272.8 938.5,271.1 936.5,269.1 936.2,268.8 934.5,268.8 932.5,268.8 932.2,268.8 930.5,265.4 928.5,261.4 928.2,260.8 926.5,260.8 924.5,260.8 924.2,260.8 922.5,264.2 920.5,268.2 920.2,268.8 918.5,268.8 916.5,268.8 916.2,268.8 914.5,265.4 912.5,261.4 912.2,260.8 910.5,257.4 908.5,253.4 908.2,252.8 906.5,249.4 904.5,245.4 904.2,244.8 902.5,248.1 900.5,252.1 900.1,252.8 899.8,229.2 898.7,231.4 898.5,231.7 896.5,235.7 896.5,235.8 896.1,236.7 895.3,238.8 894.5,241.0 893.1,244.7 892.5,246.6 892.1,247.7 892.0,248.0 890.5,252.6 889.8,254.7 888.7,251.9 888.5,251.4 888.1,250.4 887.6,249.1 886.5,243.3 885.4,237.3 884.5,232.7 884.3,231.4 884.1,231.4 883.1,231.4 882.5,231.4 880.5,231.4 880.1,231.4 879.8,231.4 878.5,233.1 877.6,234.3 876.5,235.8 876.5,235.8 876.1,235.3 875.4,234.3 874.5,233.1 873.2,231.4 872.5,226.9 872.1,224.1 871.0,216.6 870.5,213.6 869.8,209.2 868.5,207.4 868.1,206.8 867.6,206.2 866.5,204.8 866.5,204.7 865.4,201.4 864.5,198.7 864.1,197.4 863.2,194.8 862.5,192.7 862.1,191.5 861.0,197.4 860.5,199.9 860.0,202.3 860.0,202.5 858.8,209.2 858.5,208.7 858.4,208.5 857.6,206.9 856.5,204.8 856.5,204.7 855.4,202.5 854.5,207.2 854.4,207.7 854.3,208.1 853.2,213.6 852.5,233.7 852.4,236.7 852.1,244.7 851.0,246.2 850.5,246.8 850.4,247.0 848.8,249.1 848.5,249.1 847.7,249.1 846.5,249.1 846.4,249.1 844.5,249.1 844.3,249.1 842.5,250.0 842.4,250.1 841.0,250.8 840.5,251.0 839.9,251.3 838.5,254.2 838.4,254.4 837.7,255.8 836.6,258.0 836.5,257.9 834.5,256.6 834.4,256.5 834.3,256.5 833.3,255.8 832.5,257.0 831.0,259.5 830.5,260.4 830.3,260.6 829.9,261.3 828.5,259.1 827.7,257.8 826.5,255.9 826.3,255.6 824.5,252.8 824.4,252.6 822.5,249.6 822.2,249.1 820.5,249.5 818.5,250.0 818.3,250.1 816.5,250.5 814.5,251.0 813.3,251.3 812.5,253.7 810.5,259.7 810.3,260.4 810.0,261.3 808.9,258.9 808.5,258.1 806.5,253.7 804.5,249.3 804.4,249.1 802.5,255.9 802.3,256.7 800.5,262.9 800.0,264.6 798.5,254.8 798.3,255.4 796.5,260.1 796.3,260.8 794.5,271.3 794.3,272.8 792.5,283.3 792.2,284.8 790.5,291.8 790.2,292.9 788.5,299.8 786.5,307.8 786.2,308.9 784.5,315.8 782.5,323.8 782.2,324.9 780.5,331.8 778.5,339.8 778.2,341.0 776.5,347.8 774.5,355.8 774.2,357.0 772.5,370.6 770.5,386.6 770.2,389.1 768.5,399.3 766.5,411.3 766.2,413.2 764.5,414.8 762.5,416.8 762.2,417.2 760.5,417.2 758.5,417.2 758.2,417.2 756.5,418.8 754.5,420.8 754.2,421.2 752.5,421.2 750.5,421.2 750.1,421.2 748.5,419.5 746.5,417.5 746.1,417.2 744.5,415.5 742.5,413.5 742.1,413.2 740.5,383.9 740.1,377.1 738.5,352.8 738.1,347.0 736.5,322.8 736.1,316.9 734.5,304.0 734.1,300.9 732.5,288.0 732.1,284.8 730.5,284.8 730.1,284.8 728.5,284.8 728.1,284.8 726.5,297.6 726.1,300.9 724.5,313.6 724.1,316.9 722.5,332.7 722.1,337.0 720.5,352.7 720.1,357.0 718.5,386.2 718.1,394.3 717.3,409.1 716.5,424.5 714.9,457.3 714.5,459.8 714.1,463.0 712.5,474.1 712.1,477.3 710.5,446.2 710.0,437.2 708.5,406.2 708.4,403.5 708.0,397.1 706.5,360.1 706.0,349.0 705.6,347.4 704.5,342.8 702.9,336.5 702.5,334.8 702.0,333.0 701.5,333.5 700.5,334.5 698.8,337.4 698.5,338.2 698.0,339.5 697.4,341.0 696.5,343.5 694.7,348.3 694.5,347.7 694.0,346.4 693.3,344.7 692.5,342.4 690.6,337.4 690.5,337.5 690.0,338.2 689.2,339.2 688.5,340.2 686.5,342.8 686.5,342.9 684.5,350.9 683.8,353.8 682.5,358.9 682.4,359.2 680.5,365.6 679.7,368.3 678.5,372.3 678.3,372.9 676.5,377.7 675.6,380.2 674.5,383.1 674.2,383.8 672.5,387.3 671.5,389.3 670.5,391.3 670.1,392.0 668.5,396.3 667.4,399.3 666.5,401.7 666.0,402.9 664.7,398.4 664.5,397.8 662.5,391.1 661.9,389.3 660.5,387.8 659.2,386.5 658.5,385.8 656.5,383.8 656.5,383.8 654.5,382.5 652.5,381.1 652.4,381.1 650.5,383.6 648.5,386.2 648.3,386.5 646.5,388.9 644.5,391.6 644.2,392.0 642.5,386.3 640.5,379.7 640.1,378.3 638.5,376.2 636.5,373.5 636.0,372.9 634.5,369.9 632.5,365.9 631.9,364.7 630.5,364.0 628.5,363.0 626.5,362.0 626.5,361.9 624.5,359.0 622.5,356.0 622.4,355.8 621.0,353.8 620.5,353.3 619.6,352.4 618.5,351.3 616.9,349.7 616.5,349.3 615.5,348.3 614.5,346.2 612.8,342.8 612.5,342.2 610.5,338.2 610.1,337.4 608.7,337.4 608.5,337.4 606.5,337.4 606.0,337.4 604.6,337.4 604.5,337.4 602.5,337.4 601.9,337.4 600.5,329.1 599.1,321.0 598.5,320.1 596.5,317.5 596.4,317.4 595.1,315.5 594.5,315.0 592.5,313.0 592.3,312.8 590.5,311.0 589.6,310.1 588.5,309.0 588.2,308.7 586.5,307.0 584.5,305.0 584.1,304.6 582.8,306.4 582.5,306.8 580.5,309.5 580.0,310.1 578.7,311.9 578.5,312.1 576.5,314.8 575.9,315.5 574.6,318.3 574.5,318.4 572.5,322.4 571.8,323.7 570.5,325.1 570.5,325.1 569.1,326.5 568.5,324.0 566.5,316.0 566.4,315.5 565.0,310.1 564.5,309.7 563.7,309.2 562.5,308.4 560.9,307.3 560.5,300.5 559.3,293.7 558.5,294.5 557.9,295.1 556.5,296.5 555.2,297.8 554.5,298.5 553.8,299.2 552.5,304.4 551.1,310.1 550.5,312.4 548.5,320.4 548.4,321.0 546.5,319.1 545.6,318.3 544.5,317.1 542.9,315.5 542.5,316.1 540.5,319.1 540.2,319.6 538.5,322.1 537.4,323.7 536.5,323.3 534.7,322.4 534.5,322.3 532.5,321.3 532.0,321.0 530.5,322.5 529.2,323.7 528.5,324.5 526.5,326.5 526.5,326.5 524.5,327.5 523.8,327.8 522.5,328.5 521.1,329.2 520.5,329.5 518.5,330.5 516.5,331.5 515.6,331.9 514.5,333.0 512.5,335.0 510.5,337.0 510.1,337.4 508.5,339.0 507.4,340.1 506.5,340.7 504.7,341.9 504.5,342.0 503.3,342.8 502.5,345.0 500.5,350.3 499.2,353.8 498.5,352.8 496.5,350.1 495.1,348.3 494.5,347.5 493.8,346.5 492.5,344.8 491.0,342.8 490.5,342.8 488.5,342.8 488.3,342.8 486.5,342.8 485.6,342.8 484.5,341.4 484.2,341.0 482.5,338.8 481.5,337.4 480.5,334.2 480.1,332.8 478.5,327.5 477.4,323.7 476.5,322.0 476.0,321.0 474.5,318.0 472.5,314.0 471.9,312.8 470.5,314.2 468.5,316.2 467.8,316.9 466.5,318.2 466.5,318.3 464.5,317.3 462.5,316.3 462.4,316.2 461.0,315.5 460.5,317.5 458.5,325.5 458.3,326.5 456.9,331.9 456.5,335.9 454.5,355.9 454.2,359.2 452.8,364.7 452.5,365.9 451.4,370.1 450.5,370.1 448.7,370.1 448.5,370.1 447.3,370.1 446.5,370.7 444.6,372.0 444.5,372.0 443.2,372.9 442.5,370.6 440.5,364.7 440.5,364.6 438.5,352.6 437.8,348.3 436.5,343.2 435.1,337.4 434.5,333.0 432.5,317.0 431.0,304.6 430.5,307.0 428.5,317.7 426.9,326.5 426.5,326.0 424.5,323.3 424.1,322.8 422.8,321.0 422.5,321.9 420.5,328.5 420.0,330.1 418.7,334.6 418.5,334.0 416.5,326.0 415.9,323.7 414.5,320.8 412.5,316.8 411.8,315.5 410.5,315.5 408.5,315.5 406.5,315.5 406.4,315.5 404.5,318.4 402.5,321.4 400.9,323.7 400.5,322.4 399.3,321.0 398.5,321.5 396.5,322.8 394.5,324.2 393.8,324.6 392.5,325.5 391.1,326.5 390.5,329.2 388.5,338.6 388.4,339.2 387.0,345.6 386.5,344.6 384.5,340.6 382.9,337.4 382.5,336.6 380.5,332.6 378.5,328.6 377.4,326.5 376.5,323.6 374.5,317.6 372.5,311.6 372.0,310.1 370.5,312.3 368.5,315.3 366.5,318.3 366.5,318.3 364.5,317.3 362.5,316.3 362.4,316.2 361.1,315.5 360.5,316.1 359.7,316.9 358.5,318.1 356.5,320.1 355.6,321.0 354.5,323.2 352.5,327.2 350.5,331.2 350.1,331.9 348.8,359.2 348.5,359.8 346.5,363.8 344.7,367.4 344.5,367.7 342.5,370.7 340.5,373.7 339.2,375.6 338.5,376.3 336.5,378.3 334.5,380.3 333.8,381.1 332.5,382.3 330.5,384.3 328.5,386.3 328.3,386.5 326.5,388.3 324.5,390.3 322.8,392.0 322.5,391.7 320.5,389.7 318.5,387.7 317.4,386.5 316.5,386.5 314.5,386.5 312.5,386.5 311.9,386.5 310.5,384.4 308.5,381.4 306.5,378.4 306.5,378.3 304.5,374.4 302.5,370.4 301.0,367.4 300.5,367.1 298.5,365.8 296.9,364.7 296.5,357.6 294.5,321.6 294.2,315.5 292.5,309.7 290.5,302.7 290.1,301.2 288.7,296.4 288.5,295.7 286.5,289.1 284.6,282.8 284.5,282.8 282.5,283.8 280.5,284.8 279.1,285.5 278.5,288.1 276.5,296.1 274.5,304.1 273.7,307.3 272.5,309.1 270.5,312.1 268.5,315.1 268.2,315.5 266.5,312.1 264.5,308.1 262.8,304.6 262.5,304.9 260.5,306.9 258.5,308.9 257.3,310.1 256.5,310.9 254.5,312.9 252.5,314.9 251.8,315.5 250.5,318.2 248.5,322.2 246.5,326.2 246.4,326.5 244.5,330.2 242.5,334.2 242.3,334.6 240.9,337.4 240.5,337.1 238.5,335.8 238.2,335.6 236.8,334.6 236.5,333.1 234.5,323.8 234.1,321.9 233.7,320.1 232.7,315.5 232.5,313.9 230.5,305.3 230.0,304.6 228.6,302.7 228.5,302.6 226.5,299.9 226.0,299.3 224.5,298.3 223.5,297.6 222.5,297.0 220.5,295.6 218.5,294.3 218.4,294.2 216.5,297.9 214.5,301.9 213.2,304.4 212.5,306.9 210.5,313.5 208.5,320.2 208.1,321.5 206.5,326.9 205.6,330.0 204.5,334.3 203.0,340.3 202.5,342.3 201.7,345.4 200.5,338.9 198.5,328.2 197.9,324.9 196.5,320.7 194.5,314.7 192.8,309.5 192.5,310.5 190.5,318.0 190.2,319.1 188.5,325.5 187.6,328.7 186.5,326.1 184.5,321.4 183.8,319.8 182.5,322.7 180.5,327.2 178.7,331.3 178.5,331.0 176.5,327.4 174.9,324.4 174.5,323.8 172.5,320.2 172.3,319.8 170.5,322.5 169.7,323.6 168.5,325.5 167.2,327.5 166.5,326.8 164.6,324.9 164.5,325.4 163.3,330.4 162.5,334.1 160.8,341.5 160.5,341.6 158.5,342.1 156.9,342.5 156.5,342.6 155.7,342.8 154.5,334.7 153.1,324.9 152.5,322.9 151.8,320.6 150.5,316.2 149.3,312.1 148.5,311.7 148.0,311.5 146.5,310.7 144.5,309.7 142.5,308.7 141.6,308.3 140.5,307.0 138.5,304.7 137.8,303.8 136.5,302.3 134.5,300.0 133.9,299.3 132.5,298.6 130.5,297.6 128.8,296.8 128.5,297.2 126.5,300.0 124.5,302.8 122.5,305.6 122.4,305.7 121.1,304.9 120.5,304.6 118.5,303.4 116.5,302.2 113.0,302.2" fill="#1f77b4"/>
<path d="M115.3 252.1h0M114.8 301.5h0M116.6 252.8h0M116.8 301.9h0M117.8 251.6h0M118.1 302.3h0M119.4 252.8h0M120.0 304.4h0M121.8 251.0h0M121.0 304.0h0M123.0 250.5h0M122.9 303.6h0M124.5 250.5h0M124.4 303.6h0M126.2 250.7h0M126.0 301.1h0M127.8 249.9h0M127.4 298.8h0M129.4 251.0h0M129.1 296.8h0M131.3 250.4h0M130.9 298.7h0M132.8 248.3h0M132.5 297.4h0M134.3 247.5h0M134.3 300.2h0M136.1 246.6h0M135.9 301.6h0M137.2 243.4h0M137.3 302.6h0M139.0 245.4h0M139.1 304.8h0M140.6 248.4h0M140.8 307.2h0M142.1 250.1h0M141.8 308.7h0M144.0 248.2h0M143.9 307.9h0M145.1 247.8h0M145.8 310.3h0M147.0 248.0h0M146.8 310.0h0M149.0 248.4h0M148.6 311.7h0M150.2 252.7h0M149.8 313.9h0M152.1 258.9h0M152.0 319.5h0M153.4 262.2h0M153.3 326.9h0M155.3 263.6h0M154.8 338.1h0M156.6 267.6h0M156.5 343.0h0M158.3 265.1h0M158.2 342.0h0M159.6 259.8h0M159.9 342.6h0M161.6 255.2h0M161.7 338.1h0M163.3 243.1h0M162.7 331.5h0M164.2 239.1h0M164.4 324.3h0M166.3 237.2h0M165.9 327.0h0M167.8 235.4h0M167.6 327.4h0M169.4 234.8h0M169.4 324.7h0M170.9 234.5h0M170.8 322.0h0M172.9 236.6h0M172.4 320.4h0M174.5 239.6h0M173.8 324.2h0M176.0 239.1h0M176.0 326.9h0M177.4 239.8h0M177.8 329.7h0M179.0 240.5h0M179.1 331.3h0M180.7 242.9h0M180.7 327.5h0M182.0 245.9h0M182.5 322.0h0M184.1 249.9h0M184.2 320.4h0M185.3 251.1h0M185.0 324.2h0M186.6 251.6h0M187.4 326.4h0M188.3 242.0h0M189.0 324.1h0M190.2 228.0h0M190.1 319.6h0M191.9 225.1h0M191.6 313.5h0M193.5 226.5h0M193.4 312.0h0M195.3 233.3h0M194.6 315.1h0M196.5 239.5h0M196.8 319.6h0M198.0 245.4h0M198.5 326.2h0M199.7 249.5h0M199.9 334.0h0M201.8 250.5h0M201.6 344.4h0M202.7 252.1h0M202.8 339.1h0M204.7 252.9h0M204.5 332.9h0M206.0 251.0h0M206.3 326.9h0M208.1 252.0h0M207.8 323.4h0M209.0 251.5h0M209.7 318.2h0M211.3 255.6h0M211.1 312.4h0M212.5 258.0h0M212.4 306.5h0M214.0 257.7h0M214.3 301.4h0M215.8 260.7h0M216.0 299.9h0M217.0 261.2h0M217.1 295.7h0M219.3 260.8h0M218.8 295.6h0M220.5 265.6h0M220.3 296.6h0M222.4 265.8h0M222.5 297.7h0M224.2 266.0h0M223.6 296.7h0M225.4 256.2h0M225.5 299.8h0M226.6 246.3h0M226.8 299.2h0M228.6 237.9h0M228.3 303.3h0M230.6 238.5h0M229.9 303.5h0M231.9 236.5h0M231.8 309.5h0M233.5 238.4h0M233.4 319.3h0M234.8 244.5h0M234.8 327.1h0M236.6 258.2h0M236.7 333.3h0M238.1 269.7h0M238.1 336.1h0M240.1 275.4h0M239.6 335.5h0M241.4 282.9h0M241.5 336.3h0M242.6 287.8h0M242.7 333.9h0M244.3 290.6h0M244.7 331.0h0M246.4 292.1h0M246.5 327.0h0M247.8 291.4h0M247.5 322.8h0M249.1 292.8h0M249.8 319.7h0M250.9 291.6h0M251.0 318.1h0M252.4 289.2h0M252.3 313.7h0M253.8 284.4h0M254.5 313.7h0M256.1 279.2h0M256.0 310.6h0M257.1 274.1h0M257.1 310.3h0M259.1 270.2h0M258.7 309.1h0M260.8 267.0h0M260.6 306.8h0M262.2 262.6h0M262.1 305.6h0M263.4 257.0h0M263.7 306.4h0M265.0 253.7h0M265.1 310.4h0M266.8 248.8h0M266.9 312.2h0M268.7 246.3h0M268.2 315.7h0M270.2 247.0h0M270.2 312.3h0M272.0 247.9h0M271.8 310.9h0M273.2 247.7h0M273.4 308.1h0M275.3 248.1h0M275.1 302.7h0M276.3 244.8h0M276.9 295.8h0M278.4 243.7h0M278.0 288.2h0M280.1 244.6h0M280.0 285.6h0M281.5 245.6h0M281.7 283.4h0M283.1 247.1h0M282.8 284.4h0M284.7 245.8h0M284.2 282.1h0M286.4 247.4h0M286.2 288.6h0M288.0 246.5h0M288.2 294.4h0M289.5 248.6h0M289.7 299.5h0M290.7 250.2h0M291.3 303.8h0M292.8 250.8h0M292.9 310.3h0M294.1 253.9h0M294.1 315.4h0M295.7 270.8h0M296.1 345.9h0M297.1 286.5h0M297.3 364.9h0M298.8 285.3h0M299.2 366.8h0M300.4 286.3h0M300.2 367.4h0M302.3 289.0h0M302.0 368.9h0M303.8 289.7h0M303.9 373.7h0M305.5 291.3h0M305.6 375.5h0M307.0 294.5h0M307.3 379.3h0M308.7 294.2h0M308.4 382.0h0M310.4 293.0h0M310.4 384.9h0M312.2 294.3h0M312.2 385.7h0M313.4 293.1h0M313.2 386.4h0M314.9 293.5h0M314.6 386.6h0M316.6 292.9h0M316.5 387.1h0M318.3 292.5h0M318.3 387.5h0M319.6 288.9h0M319.6 390.0h0M321.7 287.1h0M321.4 389.7h0M323.0 286.1h0M322.9 390.9h0M325.0 283.2h0M324.3 390.8h0M326.2 280.8h0M325.8 389.1h0M327.7 278.2h0M328.1 387.4h0M329.6 277.8h0M329.6 384.3h0M331.2 277.2h0M331.1 383.5h0M332.5 277.2h0M332.7 382.0h0M334.4 278.1h0M334.4 379.7h0M335.9 278.5h0M335.6 379.5h0M337.7 278.9h0M337.1 377.4h0M339.0 280.1h0M338.6 376.0h0M340.8 283.4h0M340.5 373.8h0M341.8 288.6h0M342.6 371.2h0M343.7 293.5h0M343.9 368.3h0M345.2 293.2h0M345.2 364.9h0M347.3 289.0h0M346.9 362.8h0M348.8 285.8h0M348.7 360.4h0M350.5 282.4h0M350.3 332.4h0M351.8 277.2h0M352.0 329.4h0M353.3 274.9h0M353.8 326.1h0M355.3 270.4h0M355.3 323.2h0M356.5 266.0h0M356.8 320.3h0M358.0 262.2h0M357.9 318.2h0M359.8 258.5h0M360.0 315.6h0M361.2 250.9h0M361.1 315.7h0M363.2 246.9h0M363.2 317.0h0M364.8 250.2h0M364.4 316.8h0M366.1 253.2h0M365.9 318.2h0M367.4 251.4h0M368.1 316.2h0M369.0 248.3h0M369.7 313.5h0M371.1 247.2h0M371.3 312.0h0M372.8 242.6h0M372.5 312.9h0M374.1 242.6h0M374.0 317.6h0M375.8 242.8h0M375.6 321.4h0M377.3 241.7h0M377.7 326.2h0M378.6 244.2h0M379.3 328.8h0M380.5 243.7h0M380.9 332.7h0M382.5 245.5h0M381.9 335.3h0M383.4 248.7h0M383.9 340.0h0M385.3 248.1h0M385.4 343.3h0M387.3 251.6h0M386.6 346.5h0M388.2 253.2h0M388.3 338.7h0M389.8 253.0h0M390.4 330.3h0M392.1 255.9h0M391.7 325.6h0M393.8 257.3h0M393.2 324.6h0M395.3 256.5h0M394.9 323.7h0M396.6 257.7h0M396.2 322.8h0M398.1 257.0h0M398.5 322.5h0M399.9 258.1h0M400.0 321.1h0M401.6 262.5h0M401.8 323.7h0M403.3 262.3h0M403.3 319.6h0M404.3 263.4h0M404.6 317.4h0M406.6 265.1h0M406.2 316.8h0M407.5 266.1h0M408.0 315.9h0M409.0 268.3h0M409.1 315.6h0M410.7 268.8h0M410.9 316.5h0M412.5 270.0h0M412.8 317.9h0M414.5 272.4h0M414.1 320.8h0M415.8 273.0h0M415.7 324.0h0M417.8 268.8h0M417.1 329.5h0M419.0 262.0h0M419.2 332.1h0M420.8 256.9h0M420.9 328.2h0M422.0 252.6h0M422.1 323.7h0M423.5 247.4h0M423.9 322.9h0M425.7 244.3h0M425.3 324.2h0M426.9 243.5h0M427.2 326.2h0M428.6 247.2h0M428.9 318.0h0M430.1 250.0h0M430.6 309.6h0M432.1 254.1h0M432.2 310.1h0M433.7 259.4h0M433.6 323.0h0M435.0 262.0h0M435.4 336.9h0M436.8 271.4h0M436.5 343.0h0M438.3 280.8h0M438.2 351.2h0M439.8 292.2h0M439.5 361.2h0M441.5 295.6h0M441.1 366.2h0M443.2 293.7h0M442.7 373.1h0M444.4 293.0h0M444.4 372.9h0M446.2 293.8h0M445.9 371.8h0M447.9 295.0h0M448.1 371.0h0M449.3 294.5h0M449.6 369.2h0M451.3 297.6h0M451.3 370.0h0M452.5 302.0h0M452.6 365.1h0M454.4 299.7h0M454.5 358.3h0M455.6 296.7h0M456.0 343.6h0M457.4 292.7h0M457.3 330.0h0M459.2 289.4h0M458.6 323.4h0M460.6 285.0h0M460.4 317.9h0M461.8 280.2h0M462.0 317.0h0M464.0 278.3h0M463.8 315.5h0M465.4 274.9h0M465.4 317.8h0M467.4 273.2h0M467.1 318.1h0M468.4 270.1h0M468.7 316.2h0M470.6 269.6h0M470.3 315.3h0M472.0 270.0h0M471.7 312.8h0M473.7 259.1h0M473.5 314.7h0M475.3 251.0h0M474.9 318.0h0M476.8 242.9h0M476.8 322.6h0M478.1 240.8h0M477.9 326.7h0M479.7 238.3h0M479.5 332.8h0M481.7 238.6h0M481.2 337.0h0M482.8 241.8h0M483.2 339.5h0M484.5 241.8h0M484.6 340.8h0M486.2 243.0h0M486.4 341.4h0M487.5 242.6h0M487.6 341.5h0M489.2 242.3h0M489.8 343.0h0M491.2 242.1h0M490.7 341.9h0M493.0 241.9h0M492.6 344.9h0M494.6 240.2h0M493.9 345.7h0M495.7 239.1h0M495.5 348.8h0M497.2 236.8h0M497.6 351.5h0M499.2 236.9h0M498.7 353.1h0M500.7 236.7h0M500.6 350.7h0M501.9 239.8h0M501.9 344.8h0M504.1 239.8h0M503.8 343.3h0M505.7 239.3h0M505.2 340.0h0M507.3 236.3h0M506.8 340.4h0M508.5 233.9h0M508.2 339.1h0M510.3 231.6h0M510.6 336.1h0M511.8 228.7h0M512.0 336.0h0M513.2 229.5h0M513.6 334.8h0M514.7 227.4h0M515.0 333.3h0M517.0 228.1h0M516.7 331.4h0M518.1 227.9h0M518.4 331.2h0M519.6 228.9h0M519.8 330.3h0M521.5 231.4h0M521.7 329.8h0M523.0 240.4h0M522.9 329.2h0M524.7 247.1h0M524.9 326.6h0M526.2 251.7h0M525.9 327.1h0M527.6 257.0h0M527.8 326.1h0M529.5 263.4h0M529.2 323.2h0M531.1 262.2h0M530.9 320.9h0M532.2 262.0h0M532.7 321.9h0M534.0 262.0h0M534.6 321.7h0M535.9 262.5h0M535.4 323.0h0M537.1 262.4h0M537.6 324.4h0M538.6 263.4h0M539.2 322.3h0M540.5 262.0h0M540.2 319.6h0M541.9 262.0h0M542.5 317.0h0M543.6 263.2h0M543.6 316.0h0M545.3 262.9h0M545.3 316.7h0M547.1 264.5h0M547.1 318.7h0M548.5 265.5h0M548.7 319.6h0M550.3 265.2h0M550.1 313.7h0M551.9 265.4h0M551.4 307.2h0M553.1 261.0h0M553.3 301.6h0M554.8 257.9h0M555.0 298.6h0M556.5 246.0h0M556.5 297.3h0M558.2 237.0h0M558.5 294.8h0M559.9 241.2h0M559.6 297.6h0M561.1 244.3h0M561.1 306.5h0M562.8 244.9h0M563.3 307.8h0M564.9 248.1h0M564.9 310.6h0M566.2 256.2h0M566.3 315.7h0M567.9 259.7h0M567.9 320.4h0M569.8 262.5h0M569.5 325.0h0M571.0 264.9h0M571.0 323.5h0M572.7 265.0h0M572.9 322.5h0M574.3 262.9h0M574.2 320.0h0M576.0 261.6h0M575.4 316.8h0M577.1 261.1h0M577.3 313.7h0M579.4 261.1h0M579.1 310.3h0M580.9 263.0h0M580.8 310.0h0M582.2 262.1h0M581.9 307.6h0M584.1 264.7h0M584.1 305.6h0M585.5 265.1h0M585.6 304.4h0M586.9 266.2h0M586.8 307.9h0M588.6 269.0h0M588.7 308.6h0M589.8 267.0h0M590.5 310.3h0M591.9 265.2h0M591.7 312.4h0M593.8 259.0h0M593.7 314.9h0M595.3 247.4h0M595.2 316.3h0M596.5 236.4h0M596.7 316.2h0M598.2 228.4h0M598.2 319.9h0M600.0 222.1h0M599.8 325.7h0M601.5 219.8h0M601.7 333.3h0M602.9 220.7h0M602.6 338.3h0M604.3 223.8h0M604.7 336.7h0M606.0 226.6h0M606.6 338.2h0M608.2 227.7h0M607.7 338.4h0M609.6 228.2h0M609.4 336.2h0M610.6 228.6h0M611.4 338.4h0M612.7 231.2h0M612.4 342.9h0M614.5 230.9h0M613.9 344.3h0M615.8 230.3h0M616.0 348.9h0M617.6 234.0h0M617.6 349.7h0M619.0 241.1h0M619.2 352.5h0M620.7 246.9h0M620.6 353.8h0M622.2 254.4h0M622.0 354.2h0M624.2 258.6h0M623.6 358.5h0M625.5 264.6h0M625.6 358.9h0M627.0 267.3h0M627.0 362.5h0M628.3 266.0h0M628.5 363.4h0M630.5 263.9h0M629.9 364.3h0M632.1 263.1h0M631.9 363.9h0M633.3 261.5h0M633.2 368.5h0M634.8 258.4h0M634.7 371.1h0M636.4 257.4h0M636.8 374.4h0M638.0 260.4h0M638.5 376.1h0M639.8 262.7h0M639.6 378.3h0M641.1 264.9h0M641.0 381.9h0M642.9 267.4h0M643.1 387.6h0M644.6 266.5h0M644.4 392.4h0M646.0 262.7h0M646.6 389.0h0M648.1 258.4h0M648.0 387.9h0M649.4 255.5h0M649.7 386.0h0M651.0 253.1h0M651.2 383.5h0M652.7 251.8h0M652.4 380.6h0M654.5 247.5h0M654.4 382.8h0M655.9 246.6h0M656.1 384.3h0M657.2 236.8h0M657.4 385.5h0M659.3 222.8h0M659.3 385.8h0M660.9 228.5h0M660.8 388.8h0M661.8 237.0h0M662.0 391.0h0M663.7 251.2h0M663.9 395.6h0M665.5 256.1h0M665.7 400.4h0M667.3 255.1h0M667.2 399.0h0M668.4 252.1h0M668.9 397.0h0M670.2 248.3h0M669.8 392.1h0M672.1 245.6h0M672.1 388.7h0M673.1 246.5h0M673.0 385.1h0M675.0 243.9h0M675.1 380.4h0M676.6 241.7h0M676.4 377.5h0M678.5 239.9h0M678.4 371.8h0M680.1 237.4h0M680.1 368.2h0M681.1 237.6h0M681.2 361.5h0M683.0 237.4h0M683.3 355.4h0M685.0 234.0h0M684.9 349.7h0M686.1 226.6h0M686.2 343.0h0M687.8 220.9h0M687.8 340.0h0M689.5 214.1h0M689.1 339.5h0M691.3 221.0h0M691.3 339.0h0M692.8 228.0h0M693.0 343.0h0M694.3 229.8h0M694.3 347.8h0M696.1 225.9h0M695.7 345.9h0M697.5 224.8h0M697.4 341.0h0M699.3 222.6h0M699.0 337.3h0M700.2 218.4h0M700.5 335.2h0M702.5 214.6h0M701.9 334.5h0M703.8 206.8h0M704.2 339.2h0M705.5 200.3h0M705.1 347.4h0M707.3 203.1h0M707.4 372.7h0M708.7 214.1h0M708.3 408.0h0M710.5 225.0h0M709.9 440.9h0M712.0 242.8h0M711.6 472.9h0M713.4 260.4h0M713.2 467.1h0M715.4 263.7h0M714.7 453.6h0M716.9 252.5h0M716.3 421.5h0M718.1 241.6h0M717.8 391.2h0M720.0 212.5h0M719.4 361.0h0M721.5 184.4h0M721.3 342.7h0M722.8 161.5h0M722.7 328.6h0M724.3 139.4h0M724.4 313.4h0M726.6 119.1h0M726.6 300.5h0M727.6 122.2h0M727.4 285.9h0M729.0 124.7h0M729.4 285.5h0M731.2 130.2h0M731.3 285.8h0M732.6 143.0h0M732.4 289.6h0M734.1 156.5h0M734.3 302.0h0M735.5 167.1h0M735.6 314.0h0M737.3 180.3h0M737.0 336.4h0M738.7 198.1h0M739.1 360.0h0M740.5 227.6h0M740.5 385.2h0M742.1 251.8h0M742.4 412.8h0M744.1 263.6h0M743.8 414.8h0M745.4 271.8h0M745.5 416.0h0M747.0 278.2h0M747.3 418.2h0M748.6 279.2h0M748.8 419.6h0M750.0 280.4h0M750.3 421.7h0M751.8 277.7h0M751.6 420.1h0M753.6 276.8h0M753.6 419.9h0M754.9 274.9h0M755.1 420.6h0M756.8 270.9h0M756.8 419.7h0M758.0 268.8h0M758.1 418.2h0M760.0 265.1h0M759.6 416.1h0M761.1 260.9h0M761.5 415.7h0M763.2 252.8h0M763.1 415.0h0M765.0 240.1h0M764.3 414.3h0M766.2 228.8h0M766.1 413.0h0M767.7 221.1h0M767.8 403.5h0M769.1 216.3h0M769.8 394.6h0M771.1 209.9h0M770.8 382.4h0M772.4 204.6h0M773.0 370.7h0M774.5 200.7h0M774.4 358.0h0M775.8 190.0h0M775.4 350.2h0M777.4 180.5h0M777.4 343.2h0M779.1 173.9h0M778.8 337.7h0M780.4 171.3h0M780.4 332.4h0M782.2 167.2h0M782.5 325.1h0M784.0 163.9h0M783.6 317.2h0M785.2 158.1h0M785.4 313.1h0M786.7 152.9h0M787.4 304.6h0M788.2 145.6h0M788.8 300.4h0M789.9 141.1h0M790.2 294.0h0M791.4 151.9h0M791.6 287.6h0M793.2 164.5h0M793.2 277.9h0M794.8 180.3h0M794.8 267.2h0M796.6 200.3h0M796.5 260.4h0M797.9 218.5h0M798.4 255.3h0M799.5 203.1h0M799.5 262.2h0M801.7 205.1h0M801.7 260.6h0M802.6 207.1h0M802.9 254.7h0M804.6 211.7h0M804.7 248.7h0M806.0 214.2h0M805.9 252.4h0M808.0 220.1h0M807.6 257.3h0M809.3 220.3h0M809.0 260.7h0M810.8 219.7h0M811.0 258.7h0M812.7 220.9h0M812.9 253.2h0M814.1 219.0h0M814.5 251.8h0M816.1 219.9h0M815.5 250.5h0M817.6 217.3h0M817.4 249.2h0M819.3 219.0h0M818.9 249.3h0M820.5 217.0h0M820.6 249.9h0M821.9 215.7h0M822.3 250.0h0M824.0 214.5h0M823.8 252.5h0M825.1 201.7h0M825.5 255.1h0M827.1 183.7h0M827.3 257.5h0M828.5 179.8h0M828.9 259.2h0M830.5 187.9h0M829.9 260.4h0M831.8 184.2h0M832.0 256.8h0M833.3 173.6h0M833.4 254.5h0M835.3 170.6h0M835.1 256.2h0M836.5 174.2h0M837.0 258.8h0M838.0 170.4h0M838.6 254.5h0M839.6 153.6h0M839.7 250.6h0M841.3 144.5h0M841.8 251.6h0M842.6 160.2h0M842.7 250.7h0M844.9 171.4h0M844.4 250.0h0M846.2 168.1h0M846.2 248.0h0M847.8 164.4h0M848.1 249.4h0M849.4 132.4h0M849.3 248.4h0M850.7 101.1h0M851.2 246.9h0M852.4 93.0h0M852.5 231.7h0M854.1 85.5h0M854.3 208.5h0M855.5 70.7h0M855.6 203.0h0M857.5 69.6h0M857.5 205.6h0M858.6 85.1h0M859.0 208.5h0M860.2 82.7h0M860.6 199.8h0M861.9 95.0h0M862.4 192.4h0M864.2 108.9h0M864.1 196.4h0M865.4 117.0h0M865.1 201.7h0M867.1 127.1h0M866.6 204.4h0M868.5 138.1h0M868.9 208.1h0M870.0 148.9h0M870.6 211.7h0M871.9 160.8h0M871.7 223.2h0M873.2 172.0h0M873.5 232.1h0M875.1 159.6h0M875.1 233.6h0M876.5 167.2h0M876.6 236.0h0M878.5 187.6h0M878.2 233.9h0M880.2 217.2h0M880.0 232.1h0M881.6 216.0h0M881.4 232.4h0M883.2 216.8h0M883.2 230.2h0M884.6 161.6h0M884.6 234.2h0M886.4 130.3h0M886.3 242.6h0M888.0 125.0h0M887.8 248.8h0M889.5 127.8h0M889.1 254.2h0M890.9 136.5h0M891.0 251.9h0M893.0 149.2h0M893.0 246.2h0M894.2 166.7h0M894.0 242.8h0M895.4 179.8h0M895.8 237.2h0M897.8 171.7h0M897.2 234.8h0M898.9 166.0h0M899.3 231.5h0M900.4 165.6h0M900.5 251.8h0M902.2 170.0h0M902.3 249.5h0M903.9 176.3h0M903.6 244.7h0M905.0 179.0h0M905.1 245.8h0M907.1 184.2h0M907.1 249.9h0M908.9 186.5h0M908.9 253.9h0M910.4 181.0h0M910.1 257.8h0M911.5 176.9h0M912.1 260.3h0M913.2 169.0h0M913.4 261.8h0M915.3 161.5h0M914.7 265.7h0M916.3 154.9h0M916.6 268.1h0M917.9 150.8h0M918.0 267.6h0M919.8 146.1h0M919.5 267.7h0M921.4 149.1h0M921.4 265.1h0M922.7 157.9h0M922.9 263.2h0M924.8 167.1h0M924.3 261.0h0M926.6 173.2h0M926.0 260.6h0M927.6 182.9h0M928.1 261.0h0M929.1 187.9h0M929.1 264.1h0M930.9 194.8h0M930.6 267.0h0M932.6 201.1h0M932.4 268.2h0M934.1 206.2h0M933.9 268.2h0M935.8 210.7h0M935.8 269.0h0M937.3 214.5h0M937.8 269.1h0M939.1 217.7h0M938.9 271.0h0M940.6 221.0h0M940.5 273.3h0M942.0 224.1h0M942.0 275.5h0M943.6 227.4h0M944.1 275.7h0M945.3 232.3h0M945.3 274.4h0M947.1 236.0h0M946.9 273.7h0M948.9 241.3h0M948.4 274.1h0M950.4 241.8h0M949.9 276.3h0M952.1 243.4h0M951.9 278.5h0M953.7 246.1h0M953.1 285.0h0M954.9 247.2h0M954.8 288.5h0M956.8 247.3h0M956.5 292.8h0M958.2 243.5h0M958.6 286.5h0M959.5 241.8h0M959.8 282.6h0M961.6 239.4h0M961.8 278.3h0M962.7 236.7h0M962.7 276.7h0M964.3 237.9h0M964.3 277.6h0M966.1 237.2h0M966.4 281.8h0M967.5 239.2h0M967.5 287.8h0M969.4 236.2h0M969.7 286.8h0M971.0 231.2h0M970.7 283.4h0M972.3 226.3h0M972.5 279.4h0M974.2 217.8h0M974.5 279.0h0M975.6 211.3h0M975.4 276.2h0M977.0 211.8h0M977.2 276.0h0M979.3 216.9h0M978.7 276.1h0M980.3 220.6h0M981.0 276.0h0M982.3 225.7h0M981.9 274.6h0M983.7 230.1h0M983.7 272.7h0M985.4 229.7h0M985.1 274.6h0M986.6 226.2h0M987.0 275.1h0M988.7 224.1h0M988.9 278.5h0M989.8 223.2h0M990.4 282.7h0M992.1 220.4h0M991.9 286.7h0M993.6 221.3h0M993.0 288.7h0M995.2 219.9h0M995.1 288.9h0M996.9 220.1h0M996.7 289.1h0M997.9 223.5h0M997.9 286.2h0M999.8 226.4h0M999.5 281.6h0M1001.8 229.3h0M1001.4 275.1h0M1002.7 230.4h0M1003.1 272.7h0M1004.7 234.7h0M1004.5 271.2h0M1006.2 237.8h0M1006.4 270.3h0M1007.5 237.2h0M1008.1 268.9h0M1009.1 237.6h0M1009.7 269.5h0M1011.1 237.8h0M1011.0 268.9h0M1012.4 241.0h0M1012.7 268.6h0M1014.2 240.9h0M1013.8 268.9h0M1015.6 238.8h0M1015.8 268.8h0M1017.8 234.8h0M1017.8 271.6h0M1019.0 232.6h0M1018.7 273.8h0M1020.6 232.7h0M1020.3 275.0h0M1022.3 231.6h0M1022.3 276.1h0M1023.9 232.2h0M1023.8 274.6h0M1025.2 234.4h0M1025.1 271.7h0M1027.3 236.8h0M1026.8 272.1h0M1028.8 233.1h0M1028.4 275.6h0M1030.6 228.1h0M1030.5 275.4h0M1032.0 227.5h0M1031.8 274.6h0M1033.8 227.4h0M1033.6 274.8h0M1034.7 229.0h0M1034.6 272.6h0M1037.0 229.2h0M1036.7 269.3h0M1038.3 230.0h0M1038.3 268.2h0M1040.1 236.2h0M1039.9 271.0h0M1041.5 246.1h0M1041.2 275.4h0M1042.7 247.6h0M1043.0 284.0h0M1044.8 246.9h0M1044.3 285.4h0M1045.9 247.3h0M1046.4 285.6h0M1047.6 244.2h0M1047.9 285.8h0M1049.7 241.3h0M1049.7 283.4h0M1051.1 235.9h0M1051.0 281.2h0M1052.8 229.5h0M1052.8 280.0h0M1054.3 223.9h0M1054.1 277.3h0M1055.7 233.8h0M1056.1 278.0h0M1057.6 240.3h0M1057.8 279.9h0M1059.3 240.0h0M1058.8 281.3h0M1060.8 238.5h0M1060.6 279.6h0M1062.3 235.1h0M1062.4 279.4h0M1063.6 231.9h0M1064.0 279.4h0M1065.7 233.3h0M1065.6 281.5h0M1066.6 230.3h0M1067.0 283.7h0M1068.3 230.9h0M1068.7 283.5h0M1070.4 230.5h0M1070.2 282.6h0M1071.6 227.9h0M1071.5 280.1h0M1073.5 225.9h0M1073.7 278.9h0M1075.0 223.4h0M1075.2 278.3h0M1077.0 221.1h0M1076.3 278.2h0M1078.3 217.0h0M1078.0 277.0h0M1079.9 216.9h0M1080.1 277.9h0M1081.6 218.3h0M1081.6 277.3h0M1083.4 222.0h0M1082.6 274.2h0M1084.9 228.0h0M1084.6 274.1h0M1086.0 234.0h0M1086.1 275.1h0M1087.4 239.6h0M1087.5 276.8h0M1089.8 243.1h0M1089.7 277.4h0M1090.6 245.7h0M1090.9 276.5h0M1092.7 245.6h0M1092.3 276.7h0M1094.1 246.8h0M1093.9 283.7h0M1095.6 245.6h0M1095.8 285.8h0M1097.7 246.5h0M1097.1 283.7h0M1099.3 246.0h0M1099.1 284.9h0M1100.7 246.6h0M1100.4 286.4h0M1102.5 241.0h0M1102.0 289.4h0M1103.8 233.5h0M1104.0 283.0h0M1105.2 229.6h0M1105.2 280.1h0M1106.7 229.3h0M1107.3 278.2h0M1108.7 233.2h0M1108.9 280.4h0M1109.8 233.4h0M1110.4 282.1h0M1111.6 230.3h0M1111.9 281.0h0M1113.6 225.5h0M1113.1 279.5h0M1114.8 219.0h0M1115.2 279.0h0M1116.2 212.8h0M1116.6 278.1h0M1118.0 213.9h0M1118.0 280.7h0M1120.1 217.8h0M1119.7 277.8h0M1121.0 219.7h0M1121.6 274.9h0M1122.6 220.1h0M1123.0 273.6h0M1124.4 216.5h0M1124.4 274.0h0M1126.5 215.2h0M1126.3 276.0h0M1127.4 215.6h0M1127.4 275.4h0M1129.4 216.4h0M1129.8 276.7h0M1130.7 218.3h0M1130.7 282.3h0M1132.3 225.7h0M1132.4 285.1h0M1134.0 233.9h0M1134.2 289.5h0M1135.8 245.3h0M1135.6 292.6h0M1137.4 252.2h0M1137.7 296.6h0M1138.6 253.1h0M1138.9 298.4h0M1140.5 253.7h0M1140.8 297.4h0M1142.5 254.9h0M1141.9 298.1h0M1143.5 255.2h0M1143.7 299.5h0M1145.0 254.1h0M1145.6 299.9h0M1147.3 256.1h0M1147.1 300.1h0M1148.6 252.8h0M1148.3 298.4h0M1150.2 251.4h0M1150.5 298.5h0M1151.4 252.3h0M1152.1 296.0h0M1153.5 250.0h0M1153.1 296.6h0M1155.1 251.8h0M1155.3 297.0h0M1156.7 251.8h0M1156.3 298.1h0M1158.2 249.5h0M1158.1 299.2h0M1159.9 250.4h0M1159.8 299.3h0M1161.3 250.4h0M1161.5 299.8h0M1163.1 248.2h0M1163.1 302.1h0M1164.8 248.2h0M1164.5 300.5h0M1165.8 249.6h0M1166.5 297.3h0M1168.0 251.9h0M1167.8 295.5h0M1169.7 253.2h0M1169.2 295.4h0M1171.2 253.0h0M1170.7 294.3h0M1172.7 251.7h0M1172.8 295.2h0M1174.1 252.0h0M1174.0 294.9h0M1175.4 250.2h0M1175.9 299.8h0M1177.2 249.5h0M1177.1 296.4h0M1179.1 246.7h0M1179.0 289.1h0M1180.6 243.9h0M1180.9 284.1h0M1182.3 239.2h0M1181.8 278.7h0M1183.4 234.1h0M1183.8 279.2h0M1185.5 232.0h0M1185.7 278.4h0M1187.4 228.1h0M1187.3 277.8h0M1188.2 229.9h0M1188.5 277.4h0M1190.0 231.4h0M1189.9 279.1h0M1191.8 229.5h0M1191.5 282.2h0M1193.2 231.9h0M1193.5 284.9h0M1195.0 232.9h0M1195.1 284.6h0M1196.5 233.1h0M1196.4 284.0h0M1198.5 233.1h0M1198.5 283.7h0M1199.5 235.5h0M1200.1 283.0h0M1201.4 236.4h0M1201.1 282.9h0M1203.2 239.6h0M1202.9 283.7h0M1204.9 241.6h0M1204.4 283.6h0M1206.2 243.8h0M1206.4 283.1h0M1207.4 246.3h0M1207.6 284.4h0M1209.1 249.7h0M1209.6 283.8h0M1210.6 247.2h0M1210.7 284.3h0M1212.5 244.7h0M1212.3 285.5h0M1214.3 244.7h0M1213.8 283.4h0M1215.8 243.2h0M1215.6 284.1h0M1217.1 243.0h0M1217.7 284.1h0M1218.9 240.9h0M1219.3 284.2h0M1220.5 236.2h0M1220.8 278.8h0M1222.1 234.2h0M1221.9 277.5h0M1224.2 230.0h0M1223.5 275.0h0M1225.8 229.4h0M1225.8 276.1h0M1227.2 230.5h0M1226.7 276.9h0M1229.0 232.7h0M1228.7 280.1h0M1230.4 235.8h0M1230.0 281.8h0M1231.5 236.1h0M1231.8 286.9h0M1233.0 236.2h0M1233.3 288.5h0M1235.3 236.5h0M1235.1 289.5h0M1236.9 238.6h0M1236.9 292.8h0M1238.3 240.7h0M1238.5 296.0h0M1239.8 245.4h0M1239.4 298.0h0M1241.2 248.1h0M1241.3 297.2h0M1242.8 250.8h0M1243.3 296.9h0M1244.5 251.7h0M1244.5 299.7h0M1246.4 252.1h0M1246.3 299.3h0M1248.0 250.2h0M1247.6 297.4h0M1249.7 250.3h0M1249.6 295.4h0M1251.1 248.6h0M1250.9 295.7h0M1252.8 249.4h0M1252.8 296.0h0M1254.5 246.8h0M1254.3 296.1h0M1255.7 247.6h0M1256.1 293.1h0M1257.0 248.2h0M1257.6 290.4h0M1259.2 247.8h0M1258.9 290.7h0M1260.9 248.3h0M1260.6 288.3h0M1262.5 251.0h0M1262.3 289.4h0M1263.9 252.4h0M1263.6 289.9h0M1265.6 253.3h0M1265.8 294.3h0M1266.7 252.4h0M1266.9 298.1h0M1268.9 253.1h0M1268.7 299.8h0M1270.3 250.6h0M1270.6 304.3h0M1271.7 251.9h0M1272.0 299.6h0M1273.1 251.6h0M1273.2 295.7h0M1274.8 243.2h0M1274.7 293.2h0M1276.8 242.5h0M1277.0 289.9h0M1278.4 243.5h0M1277.9 286.7h0M1279.5 246.8h0M1279.9 287.9h0M1281.3 246.9h0M1281.1 287.7h0M1283.3 248.9h0M1283.1 287.2h0M1284.3 248.8h0M1284.9 285.9h0M1285.9 249.3h0M1286.1 282.4h0M1288.0 248.7h0M1287.7 281.1h0M1289.7 250.3h0M1289.0 279.1h0M1291.1 248.9h0M1290.7 279.9h0M1292.2 251.4h0M1292.4 281.2h0M1294.6 251.6h0M1294.2 281.5h0M1296.2 248.9h0M1295.9 282.1h0M1297.4 250.0h0M1297.8 278.1h0M1299.2 248.3h0M1298.9 278.2h0M1300.4 248.6h0M1300.8 277.7h0M1302.5 247.0h0M1302.0 278.2h0M1303.6 247.4h0M1303.7 276.4h0M1305.5 245.8h0M1305.5 277.6h0M1306.6 244.3h0M1307.0 277.9h0M1308.4 243.7h0M1308.4 278.3h0M1310.5 248.0h0M1310.4 279.3h0M1312.0 251.4h0M1312.0 284.2h0M1313.2 251.6h0M1313.1 283.3h0M1315.3 251.0h0M1315.2 281.0h0M1316.4 248.4h0M1316.5 279.1h0M1318.3 249.3h0M1318.0 280.9h0M1320.1 249.4h0M1319.4 279.9h0M1321.8 247.2h0M1321.6 281.7h0M1323.3 248.1h0M1323.2 287.7h0M1324.5 249.7h0M1324.4 290.1h0M1326.5 250.6h0M1326.1 289.3h0M1327.7 250.1h0M1328.0 286.5h0M1329.6 251.1h0M1329.3 286.6h0M1331.2 249.9h0M1330.8 286.1h0M1332.5 251.7h0M1332.2 288.7h0M1334.6 253.1h0M1334.4 296.9h0M1335.8 254.7h0M1335.7 302.4h0M1337.1 254.1h0M1337.5 305.0h0M1339.0 252.1h0M1339.0 306.0h0M1340.8 248.2h0M1340.9 311.7h0M1342.0 237.7h0M1342.2 309.8h0M1343.6 223.8h0M1343.6 301.9h0M1345.2 225.9h0M1345.3 295.6h0M1346.8 229.6h0M1347.3 288.8h0M1348.6 241.4h0M1348.4 285.2h0M1350.1 247.0h0M1350.1 281.6h0M1352.2 248.2h0M1351.8 280.8h0M1353.7 247.1h0M1353.5 284.8h0M1354.9 249.3h0M1354.8 286.2h0M1356.3 248.8h0M1356.8 288.6h0M1357.8 251.5h0M1358.1 292.2h0M1360.0 255.3h0M1359.4 294.2h0M1361.4 254.7h0M1361.6 297.6h0M1363.2 255.8h0M1362.8 298.7h0M1364.4 254.4h0M1364.2 297.6h0M1366.6 249.3h0M1366.3 294.2h0M1367.7 243.9h0M1368.2 290.7h0M1369.5 240.4h0M1369.2 288.8h0M1370.7 245.1h0M1370.9 284.7h0M1372.8 251.9h0M1373.0 291.8h0M1374.2 257.4h0M1374.3 297.2h0M1375.6 255.8h0M1375.6 299.8h0M1377.1 254.2h0M1377.6 304.6h0M1378.8 255.2h0M1378.6 306.6h0M1380.4 253.9h0M1380.2 306.7h0M1381.8 254.6h0M1381.8 306.3h0M1383.5 255.6h0M1384.0 308.7h0M1385.6 256.1h0M1385.5 307.3h0M1387.2 255.8h0M1386.9 306.3h0M1388.2 252.2h0M1388.7 303.8h0M1390.5 252.1h0M1390.5 304.2h0M1391.7 252.0h0M1391.5 304.1h0M1393.4 253.7h0M1393.5 300.9h0M1395.1 253.2h0M1394.8 297.0h0M1396.4 251.8h0M1396.3 294.3h0M1398.1 251.0h0M1398.2 294.1h0M1400.1 247.7h0M1399.4 293.6h0M1401.1 246.2h0M1401.1 293.6h0M1403.1 248.8h0M1402.8 293.0h0M1404.5 250.4h0M1404.9 290.8h0M1406.6 252.2h0M1406.5 290.5h0M1408.1 253.0h0M1407.6 288.1h0M1409.7 254.3h0M1409.1 289.4h0M1410.7 257.2h0M1410.8 291.3h0M1412.4 259.9h0M1412.2 290.4h0M1413.8 258.5h0M1414.3 292.0h0M1416.1 257.6h0M1415.7 292.3h0M1417.5 254.3h0M1417.2 294.7h0M1418.9 254.5h0M1418.7 294.5h0M1420.8 255.3h0M1420.7 294.8h0M1421.9 255.9h0M1421.8 293.3h0M1423.5 257.2h0M1424.0 293.5h0M1425.5 258.2h0M1425.1 296.5h0M1427.0 257.0h0M1427.3 299.7h0M1429.0 255.4h0M1428.3 306.1h0M1430.3 254.2h0M1429.9 308.7h0M1431.8 254.1h0M1431.6 299.2h0M1433.0 253.6h0M1433.5 295.5h0M1435.2 252.8h0M1434.8 297.0h0M1436.3 255.6h0M1436.8 300.1h0M1438.0 256.0h0M1438.5 304.5h0M1439.5 256.1h0M1439.6 309.0h0M1441.2 258.7h0M1441.5 313.2h0M1443.0 261.2h0M1443.4 313.2h0M1444.7 265.8h0M1444.3 317.1h0M1445.9 270.6h0M1446.1 317.6h0M1447.9 263.5h0M1448.1 317.7h0M1449.1 258.0h0M1449.6 314.3h0M1451.0 255.1h0M1450.9 309.7h0M1453.0 255.8h0M1452.9 301.9h0M1454.5 258.0h0M1454.3 303.8h0M1455.7 257.6h0M1455.6 309.3h0M1457.2 260.8h0M1457.5 306.8h0M1459.3 263.8h0M1458.8 305.0h0M1460.4 268.0h0M1460.6 301.9h0M1462.0 270.2h0M1462.0 301.4h0M1463.6 270.5h0M1464.0 302.9h0M124.2 246.3h0M136.5 231.4h0M137.5 230.4h0M194.3 193.0h0M194.3 203.3h0M193.8 210.9h0M193.5 219.9h0M161.3 354.7h0M208.1 340.9h0M217.6 305.1h0M234.5 313.3h0M234.5 323.5h0M234.5 336.3h0M234.5 349.1h0M235.0 369.6h0M167.2 331.2h0M188.4 331.2h0M234.1 313.8h0M234.1 346.6h0M236.0 354.8h0M236.0 369.8h0M268.2 311.1h0M268.2 319.3h0M273.7 309.7h0M297.4 384.8h0M297.4 413.5h0M297.4 416.2h0M297.4 443.5h0M297.4 454.4h0M307.8 386.2h0M315.2 398.5h0M315.2 405.3h0M324.2 406.7h0M324.2 418.9h0M332.4 432.6h0M332.4 398.5h0M367.9 327.5h0M362.4 244.2h0M441.9 390.3h0M443.2 380.7h0M480.1 357.5h0M480.1 365.7h0M484.2 358.9h0M493.8 361.6h0M500.6 364.3h0M509.3 380.7h0M509.3 388.9h0M527.3 343.3h0M537.4 235.2h0M537.4 252.4h0M545.6 259.2h0M557.9 207.3h0M557.9 215.5h0M557.9 223.7h0M482.8 233.3h0M498.7 231.9h0M559.6 206.0h0M559.6 211.4h0M559.6 221.0h0M559.6 229.2h0M584.1 206.0h0M584.1 231.9h0M584.1 242.8h0M584.1 253.8h0M600.5 200.0h0M601.3 339.8h0M601.3 352.0h0M601.3 365.7h0M601.3 372.5h0M595.1 320.6h0M607.3 350.7h0M635.2 391.1h0M648.3 405.3h0M648.3 412.1h0M648.3 418.9h0M645.6 428.5h0M648.3 431.2h0M653.2 406.7h0M662.5 420.3h0M666.6 439.4h0M666.6 453.1h0M659.2 197.0h0M659.2 219.6h0M690.6 174.6h0M690.6 180.0h0M683.8 191.0h0M692.0 201.9h0M708.4 192.3h0M709.7 196.4h0M694.7 356.1h0M676.1 393.0h0M728.1 64.1h0M728.1 70.1h0M728.1 84.1h0M728.1 104.2h0M728.1 114.2h0M713.3 496.3h0M712.1 485.1h0M744.1 481.1h0M756.2 495.1h0M750.1 457.0h0M754.2 463.0h0M750.1 451.0h0M762.2 445.0h0M748.1 434.9h0M777.4 382.8h0M780.2 374.8h0M810.3 264.5h0M830.3 264.5h0M834.3 262.5h0M794.3 104.2h0M794.3 122.2h0M790.2 134.2h0M828.3 134.2h0M841.6 105.0h0M841.6 122.2h0M842.4 140.2h0M828.3 146.3h0M838.4 152.3h0M708.0 192.4h0M690.0 174.3h0M757.4 248.5h0M694.0 356.8h0M856.0 60.0h0M856.0 66.1h0M856.0 72.1h0M888.9 120.2h0M886.1 136.2h0M921.4 136.2h0M917.0 146.3h0M955.5 306.6h0M876.1 154.3h0M995.2 215.6h0M936.2 194.4h0M827.7 133.1h0M827.7 144.2h0M827.7 150.9h0M841.0 104.3h0M841.0 122.0h0M841.0 135.3h0M856.5 58.8h0M856.5 64.4h0M856.5 73.3h0M875.4 153.1h0M834.4 149.8h0M834.4 165.3h0M888.7 119.8h0M892.0 137.6h0M810.0 265.1h0M829.9 265.1h0M800.0 268.4h0M995.5 215.2h0M995.5 221.0h0M1011.4 220.3h0M1011.4 227.8h0M1023.5 214.1h0M1023.5 222.3h0M1054.2 219.6h0M1063.7 226.4h0M1078.5 212.8h0M1117.3 205.9h0M996.1 294.0h0M1029.6 287.9h0M1044.3 307.7h0M1044.3 305.6h0M1049.4 298.1h0M1102.0 298.1h0M1141.3 310.4h0M1148.4 309.0h0M1117.0 284.5h0M1201.5 222.3h0M1214.4 231.2h0M1225.5 222.3h0M1194.4 292.0h0M1244.2 306.3h0M1252.4 306.3h0M1252.4 312.2h0M1150.0 309.0h0M1321.2 239.4h0M1379.6 246.6h0M1325.3 295.4h0M713.0 395.0V462.0M710.5 395.0V452.0M715.5 388.0V452.0M712.4 462.0V480.0M728.3 122.0V172.0M726.0 126.0V175.0M730.5 130.0V175.0M724.0 160.0V190.0M733.0 160.0V190.0" stroke="#1f77b4" stroke-width="5.5" stroke-linecap="round" fill="none"/>
<polyline points="113.0,278.5 116.5,278.5 118.5,282.5 120.5,286.5 121.1,287.7 122.5,283.6 124.5,277.6 126.2,272.4 126.5,271.9 128.5,268.6 130.1,266.0 130.5,267.2 132.5,273.2 132.6,273.6 134.5,268.0 135.2,266.0 136.5,266.6 137.8,267.2 138.5,270.0 140.5,277.3 141.6,281.3 142.5,278.6 144.5,272.6 145.4,269.8 146.5,271.9 148.0,274.9 148.5,278.3 150.5,291.7 151.8,300.5 152.5,302.4 154.5,307.9 156.4,313.3 156.5,312.9 158.5,302.3 160.5,291.7 160.8,290.3 162.5,276.5 164.5,260.5 164.6,259.6 166.5,268.0 167.2,271.1 168.5,263.4 170.2,253.2 170.5,255.0 172.5,269.6 173.6,277.5 174.5,279.3 176.5,283.3 178.5,287.3 178.7,287.7 180.5,285.9 182.5,283.9 183.8,282.6 184.5,284.7 186.5,290.7 187.6,294.1 188.5,286.2 190.5,267.7 192.5,249.2 192.8,246.8 194.5,251.4 196.5,256.7 196.6,257.0 198.5,273.4 200.4,290.3 200.5,289.8 202.5,273.8 203.0,269.8 204.3,299.2 204.5,295.4 206.5,260.4 206.8,254.4 208.5,261.9 209.4,266.0 210.5,266.3 212.5,267.0 213.2,267.2 214.5,270.1 216.5,274.6 218.4,278.8 218.5,278.4 220.5,273.7 222.2,269.8 222.5,270.7 224.5,276.7 226.0,281.3 226.5,279.0 228.5,269.0 230.0,261.5 230.5,259.0 231.1,255.7 232.5,260.3 232.7,261.1 234.5,266.3 236.0,272.3 236.5,274.3 236.8,275.6 238.5,284.5 240.5,295.2 240.9,297.4 242.5,304.8 244.5,314.1 245.0,316.6 246.5,312.6 248.5,307.3 249.1,305.6 250.5,302.2 252.5,297.2 254.5,292.2 254.6,292.0 256.5,290.7 258.5,289.4 258.7,289.2 260.5,279.5 262.5,268.8 262.8,267.4 264.5,265.7 265.5,264.7 266.5,262.0 268.5,256.7 269.6,253.8 270.5,257.4 272.3,264.7 272.5,266.0 274.2,278.3 274.5,277.1 276.5,267.9 277.8,261.9 278.5,259.6 280.5,252.9 281.9,248.3 282.5,250.0 284.5,255.3 286.0,259.2 286.5,260.6 288.5,266.0 290.1,270.1 290.5,268.8 292.5,262.8 292.8,261.9 294.5,285.3 295.0,292.0 296.5,319.3 297.7,341.1 298.5,329.9 299.6,313.8 300.5,316.2 302.5,321.5 303.7,324.7 304.5,322.8 306.5,317.8 308.5,312.8 309.2,311.1 310.5,319.9 312.5,333.2 313.3,338.4 314.5,331.9 316.5,321.2 317.4,316.6 318.5,324.4 320.1,335.7 320.5,338.6 322.5,353.2 324.2,365.7 324.5,360.3 326.5,324.3 326.9,316.6 328.5,327.6 329.7,335.7 330.5,328.5 331.6,319.3 332.5,310.0 333.8,297.4 334.5,305.6 336.5,327.5 336.5,327.3 338.5,309.8 338.7,308.4 340.5,329.7 341.9,346.6 342.5,345.5 344.5,341.5 344.7,341.1 346.5,328.4 348.5,314.4 350.1,302.9 350.5,302.4 352.5,299.4 354.5,296.4 355.6,294.7 356.5,291.1 358.5,283.1 360.5,275.1 361.1,272.9 362.5,283.0 363.8,292.0 364.5,290.6 366.5,286.6 367.9,283.8 368.5,278.2 370.5,260.2 370.6,259.2 372.5,259.2 374.5,259.2 374.7,259.2 376.5,261.0 377.4,261.9 378.5,270.4 380.2,283.8 380.5,281.8 382.5,269.8 382.9,267.4 384.5,291.4 385.6,308.4 386.5,299.7 388.4,281.1 388.5,281.2 390.5,283.2 391.1,283.8 392.5,278.2 393.8,272.9 394.5,273.3 396.5,274.7 397.9,275.6 398.5,280.7 400.1,294.7 400.5,294.7 400.9,294.7 402.5,296.8 404.5,299.5 405.0,300.2 406.5,293.5 407.7,287.9 408.5,288.1 410.5,288.8 411.8,289.2 412.5,291.7 414.5,299.0 415.9,304.3 416.5,302.9 418.5,297.9 418.7,297.4 420.5,277.3 421.4,267.4 422.5,265.9 424.5,263.3 425.5,261.9 426.5,260.6 428.5,257.9 429.6,256.5 430.5,260.1 431.0,261.9 432.5,272.8 433.7,281.1 434.5,283.5 436.4,289.2 436.5,289.8 438.5,301.8 439.1,305.6 440.5,320.5 441.9,335.7 442.5,338.8 444.5,348.8 444.6,349.3 446.5,352.5 448.5,355.8 448.7,356.1 450.5,349.0 451.4,345.2 452.5,337.2 454.2,324.7 454.5,323.4 456.5,315.4 456.9,313.8 458.5,307.4 459.6,302.9 460.5,299.4 462.4,292.0 462.5,291.8 464.5,289.1 466.5,286.5 466.5,286.6 468.5,290.6 469.2,292.0 470.5,289.3 471.9,286.5 472.5,290.1 474.5,302.1 474.6,302.9 476.5,288.0 477.4,281.1 478.5,290.1 480.1,302.9 480.5,300.5 482.5,288.5 482.8,286.5 484.5,286.5 485.6,286.5 486.5,283.4 488.5,276.7 489.7,272.9 490.5,275.4 492.4,281.1 492.5,281.4 494.5,287.4 495.1,289.2 496.5,287.9 497.8,286.5 498.5,288.5 500.5,294.5 500.6,294.7 502.5,290.9 503.3,289.2 504.5,284.5 506.0,278.3 506.5,279.2 508.5,283.2 508.8,283.8 510.5,276.9 512.5,268.9 512.9,267.4 514.5,275.6 515.6,281.1 516.5,277.0 518.3,268.8 518.5,268.8 520.5,269.5 522.4,270.1 522.5,270.5 524.5,280.5 525.2,283.8 526.5,285.6 528.5,288.3 529.2,289.2 530.5,286.7 532.0,283.8 532.5,285.6 534.5,292.6 534.7,293.3 536.5,288.9 537.4,286.5 538.5,289.7 540.2,294.7 540.5,294.4 542.5,292.4 544.3,290.6 544.5,290.5 546.5,289.9 548.4,289.2 548.5,289.0 550.5,285.0 552.5,281.1 552.5,280.9 554.5,272.9 556.5,264.9 556.6,264.7 558.5,269.0 560.5,273.4 562.5,277.8 564.5,282.2 565.0,286.5 566.5,293.9 567.7,300.2 568.5,302.1 570.5,307.0 570.5,306.9 572.5,302.3 574.5,297.6 574.6,297.4 576.5,298.7 578.5,300.1 578.7,300.2 580.5,294.7 581.4,292.0 582.5,284.8 584.1,274.2 584.5,275.9 586.5,284.9 586.9,286.5 588.5,291.4 589.6,294.7 590.5,293.8 592.3,292.0 592.5,291.9 594.5,290.5 596.4,289.2 596.5,288.5 598.5,269.5 599.1,263.3 600.5,266.7 601.9,270.1 602.5,269.5 604.5,267.5 604.6,267.4 606.5,275.0 607.3,278.3 608.5,279.9 610.5,282.5 611.4,283.8 612.5,283.4 614.5,282.8 615.5,282.4 616.5,285.8 618.3,292.0 618.5,292.5 620.5,296.5 622.4,300.2 622.5,300.8 624.5,308.8 626.5,316.6 626.5,316.4 628.5,311.8 630.5,307.1 630.5,307.0 632.5,311.9 633.3,313.8 634.5,311.4 636.0,308.4 636.5,308.4 638.5,308.4 640.1,308.4 640.5,313.9 642.5,341.9 642.8,346.6 644.5,333.2 645.6,324.7 646.5,329.4 647.7,335.7 648.5,323.6 650.5,292.0 650.5,292.3 652.5,318.3 653.2,327.5 654.5,316.4 655.1,311.1 656.5,319.4 657.8,327.5 658.5,296.3 659.2,261.9 660.5,303.1 661.9,349.3 662.5,337.7 664.5,295.7 664.7,292.0 666.5,310.2 667.4,319.3 668.5,311.6 670.1,300.2 670.5,303.4 672.3,319.3 672.5,320.3 674.2,330.2 674.5,328.1 676.5,312.1 677.0,308.4 678.5,305.3 680.5,301.3 681.1,300.2 682.5,294.4 683.8,289.2 684.5,285.7 686.5,275.7 686.5,275.6 688.5,279.6 689.2,281.1 690.0,281.1 690.5,281.1 692.5,281.1 693.3,281.1 694.0,277.7 694.5,275.3 696.1,267.4 696.5,268.7 698.0,273.2 698.5,274.7 698.8,275.6 700.5,281.5 701.5,283.6 702.0,284.6 702.5,286.9 704.3,295.8 704.5,296.9 706.0,304.6 706.5,296.4 707.0,287.5 708.5,260.7 708.8,254.5 708.9,257.8 710.5,340.4 712.1,420.9 712.5,413.9 714.5,382.5 714.9,376.8 716.5,379.5 717.3,380.8 718.5,345.5 720.1,300.6 720.5,298.1 722.5,286.1 724.1,276.6 724.5,266.9 726.5,220.9 728.1,184.3 728.5,187.6 730.5,203.6 732.1,216.4 732.5,220.4 734.5,240.4 736.1,256.5 736.5,262.4 738.5,292.4 740.1,316.7 740.5,320.5 742.5,340.5 744.1,356.8 744.5,356.8 746.5,356.8 748.1,356.8 748.5,355.3 750.1,348.7 750.5,350.9 752.1,360.8 752.5,359.8 754.5,354.1 755.0,352.8 756.5,360.5 757.0,362.8 758.5,348.3 760.2,332.7 760.5,331.4 762.2,324.7 762.5,323.7 764.5,317.7 766.2,312.7 766.5,311.7 768.5,305.7 770.2,300.6 770.5,296.3 772.2,272.6 772.5,273.4 774.5,279.1 775.0,280.6 776.5,290.6 777.4,296.6 778.5,282.6 780.2,260.5 780.5,257.7 782.2,240.5 782.5,240.8 784.5,242.8 786.2,244.5 786.5,242.2 788.5,225.0 789.0,220.4 790.5,227.7 792.2,236.5 792.5,236.2 794.5,234.2 796.3,232.5 796.5,232.2 798.5,230.2 800.0,235.1 800.3,235.3 800.5,235.4 802.5,236.4 804.3,237.3 804.4,237.3 804.5,237.3 806.5,236.5 808.5,235.7 810.0,235.1 810.3,235.7 810.5,236.0 812.5,239.5 814.4,242.9 814.5,242.8 816.3,241.0 816.5,240.8 817.7,239.6 818.5,241.1 820.5,245.1 821.1,246.2 822.3,242.9 822.5,242.4 824.4,237.3 824.5,237.0 826.5,230.3 827.7,226.3 828.3,229.9 828.5,231.0 829.9,239.6 830.5,239.6 832.2,239.6 832.3,240.3 832.5,241.0 834.5,249.0 835.5,252.9 836.4,249.4 836.5,248.8 838.5,240.8 838.8,239.6 840.4,231.2 840.5,230.5 842.1,221.8 842.4,223.2 842.5,224.0 844.3,235.1 844.5,235.4 846.4,239.2 846.5,239.4 847.7,241.8 848.5,239.3 849.9,235.1 850.4,223.7 850.5,221.1 852.1,184.1 852.4,179.9 852.5,178.2 854.3,150.9 854.4,149.7 854.5,148.0 856.5,116.0 856.5,115.4 856.8,118.0 858.5,135.0 858.8,137.6 860.0,125.7 860.5,121.0 861.0,116.5 862.1,130.0 862.5,135.6 863.2,144.2 864.1,148.5 864.5,150.7 865.4,155.3 866.1,160.5 866.5,164.0 867.6,173.0 868.1,176.6 868.5,180.0 870.1,192.6 870.5,196.0 871.0,199.6 872.5,207.9 874.1,216.3 874.3,217.4 874.5,218.3 876.5,226.3 876.5,226.3 878.1,226.3 878.5,226.3 879.8,226.3 880.5,225.3 882.1,223.2 882.5,222.7 883.1,221.8 884.5,211.7 884.9,208.6 885.4,205.2 886.5,221.6 887.3,233.4 887.6,237.3 888.5,229.1 889.8,217.4 890.1,218.0 890.5,218.8 892.0,221.8 892.1,223.0 892.5,227.1 894.1,245.1 894.2,246.2 894.5,243.9 896.5,226.6 897.6,217.4 898.1,215.3 898.5,214.0 900.0,208.5 900.1,232.5 900.5,232.1 902.5,230.1 904.2,228.5 904.5,228.5 906.5,228.5 908.2,228.5 908.5,229.5 910.5,235.5 912.2,240.5 912.5,240.2 914.5,238.2 916.2,236.5 916.5,237.4 918.5,243.4 920.2,248.5 920.5,245.2 922.5,224.0 923.4,214.4 924.5,219.9 926.2,228.5 926.5,229.3 928.5,235.3 930.2,240.5 930.5,241.0 932.5,245.0 934.2,248.5 934.5,248.2 936.5,246.2 938.2,244.5 938.5,245.3 940.5,251.3 942.2,256.5 942.5,256.5 944.5,256.5 946.3,256.5 946.5,256.8 948.5,258.8 950.3,260.5 950.5,260.9 952.5,263.9 954.3,266.5 954.5,266.1 956.5,262.1 958.3,258.5 958.5,258.2 960.5,255.2 962.3,252.5 962.5,252.7 964.5,254.7 966.3,256.5 966.5,256.7 968.5,258.7 970.3,260.5 970.5,260.0 972.5,254.0 974.3,248.5 974.5,247.8 976.3,240.5 976.5,241.0 978.5,247.0 980.3,252.5 980.5,252.7 982.5,254.7 984.3,256.5 984.5,256.6 986.5,257.6 988.4,258.5 988.5,258.6 990.0,259.3 990.5,259.6 992.4,260.5 992.5,260.4 994.1,258.8 994.5,258.4 996.4,256.5 996.5,256.3 997.5,254.3 998.5,252.3 1000.4,250.7 1000.5,250.5 1000.9,249.6 1002.5,252.0 1003.7,253.7 1004.4,255.0 1004.5,255.2 1006.4,258.5 1006.5,258.4 1008.5,256.9 1009.1,256.5 1010.0,253.5 1010.5,251.8 1011.2,249.6 1012.5,254.1 1013.2,256.5 1014.5,256.8 1015.9,257.1 1016.5,257.7 1018.5,259.7 1018.7,259.9 1020.5,264.0 1021.4,266.0 1022.5,263.8 1024.1,260.6 1024.5,260.4 1026.5,259.4 1028.2,258.5 1028.5,257.8 1030.5,252.3 1031.0,251.0 1032.5,256.1 1033.0,257.8 1034.5,250.9 1035.1,248.3 1036.5,250.1 1037.8,251.7 1038.5,252.9 1040.5,256.4 1040.5,256.5 1042.5,261.6 1043.9,265.3 1044.5,264.0 1046.0,260.6 1046.5,261.3 1048.5,264.3 1048.7,264.7 1050.5,262.9 1051.4,261.9 1052.5,258.4 1053.5,255.1 1054.5,258.1 1055.5,261.2 1056.5,261.6 1058.5,262.2 1059.6,262.6 1060.5,261.3 1062.5,258.3 1063.7,256.5 1064.5,258.0 1066.5,261.9 1066.5,261.9 1068.5,260.9 1069.2,260.6 1070.5,259.9 1071.9,259.2 1072.5,259.1 1074.5,258.8 1076.0,258.5 1076.5,258.4 1078.5,258.1 1080.1,257.8 1080.5,255.8 1082.2,246.9 1082.5,249.8 1084.2,264.7 1084.5,264.1 1086.5,260.1 1086.9,259.2 1088.5,258.9 1090.5,258.6 1091.0,258.5 1092.5,259.7 1094.5,261.4 1095.1,261.9 1096.5,264.1 1098.5,267.3 1098.5,267.4 1100.5,266.6 1102.0,266.0 1102.5,262.1 1104.5,247.6 1104.7,246.2 1106.5,253.0 1107.4,256.5 1108.5,258.9 1110.2,262.6 1110.5,262.5 1112.5,262.2 1114.2,261.9 1114.5,261.3 1116.5,256.3 1117.0,255.1 1118.5,248.5 1119.0,246.2 1120.5,250.6 1121.8,254.4 1122.5,254.4 1124.5,254.4 1125.2,254.4 1126.5,247.1 1126.5,246.9 1128.5,246.9 1130.5,246.9 1130.6,246.9 1132.5,256.9 1132.7,257.8 1134.5,262.7 1134.7,263.3 1136.5,263.9 1138.5,264.5 1138.8,264.7 1140.5,266.3 1141.6,267.4 1142.5,267.7 1144.5,268.4 1145.7,268.7 1146.5,269.6 1148.4,271.5 1148.5,271.5 1150.0,271.2 1150.5,271.1 1152.5,270.8 1152.5,270.9 1154.1,275.6 1154.5,276.9 1154.5,276.9 1156.5,269.7 1156.6,269.5 1156.8,268.7 1158.5,270.4 1159.6,271.5 1160.0,271.0 1160.5,270.5 1162.3,268.7 1162.5,268.5 1164.3,266.0 1164.5,266.5 1166.4,271.5 1166.5,271.3 1168.5,268.0 1170.5,264.7 1170.5,264.7 1172.5,267.7 1173.2,268.7 1174.5,272.9 1175.9,277.6 1176.5,274.8 1178.5,264.8 1179.4,260.6 1180.5,259.2 1182.5,256.8 1182.8,256.5 1184.5,252.3 1186.2,248.3 1186.5,249.0 1188.5,253.7 1190.3,257.8 1190.5,257.2 1192.3,252.4 1192.5,253.1 1194.4,260.6 1194.5,260.6 1196.5,261.4 1197.8,261.9 1198.5,261.2 1200.5,259.2 1200.5,259.2 1202.5,263.8 1204.5,268.5 1204.6,268.7 1206.5,265.9 1207.3,264.7 1208.5,264.3 1210.5,263.6 1211.4,263.3 1212.5,263.3 1214.2,263.3 1214.5,264.1 1216.5,269.1 1216.9,270.1 1218.5,264.5 1219.6,260.6 1220.5,258.2 1222.5,252.9 1223.7,249.6 1224.5,252.7 1226.5,260.7 1227.8,266.0 1228.5,262.7 1230.5,252.7 1230.6,252.4 1232.5,254.8 1233.3,255.8 1234.5,258.4 1236.5,262.7 1237.4,264.7 1238.5,266.1 1240.5,268.8 1241.5,270.1 1242.5,272.2 1244.5,276.2 1245.6,278.3 1246.5,274.6 1248.3,267.4 1248.5,267.3 1250.5,266.3 1251.0,266.0 1252.5,265.5 1254.5,264.9 1255.1,264.7 1256.5,263.7 1258.5,262.4 1259.2,261.9 1260.5,263.8 1262.0,266.0 1262.5,265.5 1264.5,263.5 1266.1,261.9 1266.5,263.0 1268.5,268.0 1268.8,268.7 1270.2,281.7 1270.5,279.6 1272.5,267.1 1272.9,264.7 1274.5,259.8 1275.6,256.5 1276.5,261.5 1277.7,268.1 1278.5,264.4 1279.7,259.2 1280.5,262.1 1281.8,266.7 1282.5,265.8 1284.5,263.4 1285.2,262.6 1286.5,261.3 1288.5,259.3 1288.6,259.2 1290.5,262.3 1292.0,264.7 1292.5,265.3 1294.5,267.8 1294.7,268.1 1296.5,266.6 1298.5,264.9 1298.8,264.7 1300.0,263.8 1300.5,263.4 1301.6,262.6 1302.5,263.8 1304.1,265.8 1304.3,266.0 1304.5,265.4 1306.5,259.9 1307.0,258.5 1307.5,259.9 1308.5,262.6 1309.7,266.0 1310.2,264.7 1310.5,265.0 1312.5,267.5 1313.0,268.1 1313.2,267.8 1314.5,265.8 1315.7,264.0 1316.5,263.8 1316.6,263.8 1318.5,263.5 1319.8,263.3 1320.0,263.4 1320.5,263.6 1322.5,264.6 1323.9,265.3 1324.5,265.5 1326.5,265.9 1327.3,266.0 1328.5,266.6 1330.0,267.4 1330.5,267.2 1332.5,266.4 1333.5,266.0 1334.5,266.9 1336.5,268.5 1336.9,268.7 1338.5,275.0 1340.3,281.7 1340.5,280.6 1342.5,270.1 1343.0,267.4 1344.5,255.5 1345.1,251.0 1346.5,263.5 1347.1,268.7 1348.5,263.2 1349.2,260.6 1350.5,261.1 1352.5,261.9 1352.6,261.9 1354.5,263.5 1356.0,264.7 1356.5,266.9 1358.5,275.7 1359.4,279.7 1360.5,276.4 1362.1,271.5 1362.5,272.9 1364.2,279.0 1364.5,277.9 1366.5,271.4 1366.9,270.1 1368.5,268.0 1369.0,267.4 1370.5,269.3 1371.7,270.8 1372.5,271.3 1374.5,272.5 1375.1,272.8 1376.5,274.0 1378.5,275.6 1378.5,275.6 1380.5,272.9 1380.6,272.8 1382.5,281.3 1382.6,281.7 1384.5,274.9 1386.0,269.4 1386.5,272.7 1388.5,286.3 1389.4,292.6 1390.5,285.8 1392.5,273.0 1392.8,270.8 1394.5,274.9 1395.6,277.6 1396.5,275.5 1398.3,271.5 1398.5,271.2 1400.5,268.0 1401.7,266.0 1402.5,265.9 1404.5,265.5 1405.1,265.3 1406.5,268.4 1407.9,271.5 1408.5,271.3 1410.5,270.6 1412.0,270.1 1412.5,271.5 1414.5,276.5 1414.7,276.9 1416.5,275.1 1417.4,274.2 1418.5,275.3 1420.2,276.9 1420.5,276.4 1422.5,273.2 1423.6,271.5 1424.5,273.8 1426.3,278.3 1426.5,278.8 1428.5,283.8 1429.0,285.1 1430.5,277.0 1431.8,270.1 1432.5,270.7 1434.5,272.3 1435.2,272.8 1436.5,274.2 1438.5,276.2 1439.3,276.9 1440.5,280.4 1442.5,286.0 1442.7,286.5 1444.5,290.9 1446.1,294.7 1446.5,293.7 1448.5,288.7 1448.8,287.9 1450.5,276.1 1451.6,268.7 1452.5,271.1 1454.3,275.6 1454.5,275.9 1456.5,278.9 1458.4,281.7 1458.5,281.8 1460.5,283.0 1461.8,283.8 1462.5,283.8 1466.0,283.8" fill="none" stroke="#ff7f0e" stroke-width="2.08" stroke-linejoin="round" stroke-linecap="square"/></g>
<rect x="116.5" y="38.5" width="1346.0" height="480.0" fill="none" stroke="#000" stroke-width="1.11"/>
<path d="M116.5 519.05v4.31M284.5 519.05v4.31M452.5 519.05v4.31M621.5 519.05v4.31M789.5 519.05v4.31M957.5 519.05v4.31M1125.5 519.05v4.31M1294.5 519.05v4.31M115.95 107.5h-4.31M115.95 194.5h-4.31M115.95 281.5h-4.31M115.95 368.5h-4.31M115.95 455.5h-4.31" stroke="#000" stroke-width="1.11" stroke-linecap="square" fill="none"/>
<text x="90.75" y="114.80" style="font-family:'DejaVu Sans',sans-serif;font-weight:bold;font-size:22px">2</text>
<text x="90.75" y="201.80" style="font-family:'DejaVu Sans',sans-serif;font-weight:bold;font-size:22px">1</text>
<text x="90.75" y="288.80" style="font-family:'DejaVu Sans',sans-serif;font-weight:bold;font-size:22px">0</text>
<text x="71.50" y="375.80" textLength="33.90" lengthAdjust="spacing" style="font-family:'DejaVu Sans',sans-serif;font-weight:bold;font-size:22px">−1</text>
<text x="71.50" y="462.80" textLength="33.90" lengthAdjust="spacing" style="font-family:'DejaVu Sans',sans-serif;font-weight:bold;font-size:22px">−2</text>
<rect x="1047.6" y="48.1" width="405.8" height="80" rx="2.8" fill="#fff" fill-opacity="0.8" stroke="#cccccc" stroke-width="1.11"/>
<circle cx="1073.4" cy="63.2" r="2.78" fill="#1f77b4"/>
<path d="M1053 101.7H1092" stroke="#ff7f0e" stroke-width="2.08"/>
<text x="115.75" y="29.50" textLength="41.24" lengthAdjust="spacing" style="font-family:'DejaVu Sans',sans-serif;font-weight:bold;font-size:26.4px">(a)</text>
<text transform="translate(61.20,278.00) rotate(-90)" text-anchor="middle" textLength="227.57" lengthAdjust="spacing" style="font-family:'DejaVu Sans',sans-serif;font-weight:bold;font-size:22px">Doppler Shift [Hz]</text>
<text x="1106.00" y="68.50" textLength="100.00" lengthAdjust="spacing" style="font-family:'DejaVu Sans',sans-serif;font-weight:bold;font-size:18.06px">Raw Data</text>
<text x="1106.00" y="95.50" textLength="270.61" lengthAdjust="spacing" style="font-family:'DejaVu Sans',sans-serif;font-weight:bold;font-size:18.06px">Butterworth Filtered Data</text>
<text x="1105.00" y="116.70" textLength="339.91" lengthAdjust="spacing" style="font-family:'DejaVu Sans',sans-serif;font-weight:bold;font-size:18.06px">(N=6, Tc=3.3333 min, Type: low)</text>
<rect x="160" y="575.5" width="713" height="479.0" fill="#e6e6e6"/>
<path d="M160.5 575.5V1054.5M872.5 575.5V1054.5" stroke="#dddddd" stroke-width="1"/>
<path d="M284.5 1054.5V575.5M452.5 1054.5V575.5M621.5 1054.5V575.5M789.5 1054.5V575.5M957.5 1054.5V575.5M1125.5 1054.5V575.5M1294.5 1054.5V575.5M116.5 649.5H1462.5M116.5 744.5H1462.5M116.5 839.5H1462.5M116.5 934.5H1462.5M116.5 1029.5H1462.5" stroke="#b0b0b0" stroke-width="1.11" stroke-dasharray="1.11 1.83" fill="none"/>
<g clip-path="url(#cb)"><polygon points="113.0,919.1 116.5,919.1 118.5,928.1 120.4,936.8 120.5,936.8 122.5,936.8 123.8,936.8 124.5,928.5 124.9,924.3 126.5,905.9 127.1,899.1 128.5,912.3 129.3,919.8 130.4,930.2 130.5,930.4 132.5,935.7 133.8,939.1 134.5,942.1 136.5,950.1 137.1,952.4 138.2,957.6 138.5,959.0 140.4,967.9 140.5,966.7 142.5,941.4 142.6,939.8 143.7,925.8 144.5,926.8 146.5,929.4 147.1,930.2 148.5,932.1 150.4,934.6 150.5,934.8 151.5,936.8 152.5,938.8 153.7,941.3 154.5,934.0 154.8,930.9 156.5,915.3 157.0,910.2 158.2,897.6 158.5,893.8 160.4,872.5 160.5,873.0 162.5,881.0 162.6,881.4 163.7,885.8 164.5,900.1 165.9,925.8 166.5,925.8 168.5,925.8 169.3,925.8 170.5,925.8 172.5,925.8 172.6,925.8 173.7,922.8 174.5,920.6 175.9,916.9 176.5,909.0 178.1,887.3 178.5,882.3 179.2,872.5 180.5,866.2 181.5,861.4 182.5,845.7 183.7,828.1 184.5,831.4 184.8,832.6 186.5,839.4 187.0,841.4 188.5,865.4 189.2,876.9 190.5,920.5 191.4,952.4 192.5,956.6 194.5,964.6 194.8,965.7 195.9,962.7 196.5,961.1 198.1,956.8 198.5,953.0 200.3,936.1 200.5,934.4 201.4,925.8 202.5,922.9 204.5,917.5 204.8,916.9 206.5,911.6 207.0,910.2 208.5,917.4 209.2,920.6 210.3,925.8 210.5,925.3 212.5,921.3 213.6,919.1 214.5,919.7 216.5,921.0 217.0,921.3 218.1,900.2 218.5,891.9 219.2,879.2 220.5,855.3 221.4,839.2 222.5,848.8 222.5,848.8 224.5,866.2 224.7,868.1 225.8,888.0 226.5,900.1 226.9,908.0 228.5,866.4 229.2,848.8 229.6,837.0 230.5,868.8 232.5,939.1 232.5,939.2 233.6,947.2 234.5,953.8 235.8,963.5 236.5,960.3 236.9,958.3 238.5,950.9 239.1,947.9 240.3,934.6 240.5,931.6 242.5,908.0 242.5,907.7 244.5,890.4 244.7,888.8 245.8,879.2 246.5,874.9 248.0,865.8 248.5,862.9 249.1,859.2 250.5,856.4 251.3,854.8 252.5,852.5 252.5,852.8 254.5,864.8 255.8,872.5 256.5,873.6 258.5,876.6 260.2,879.2 260.5,881.8 262.5,900.4 263.5,910.2 264.5,913.4 266.5,920.1 266.9,921.3 268.5,921.3 270.2,921.3 270.5,921.8 271.3,923.0 272.5,924.8 274.5,927.8 274.6,928.0 275.8,927.2 276.5,926.7 278.0,925.8 278.5,922.9 280.2,913.9 280.5,912.3 281.3,908.0 282.5,897.6 284.5,880.3 284.6,879.2 286.0,886.9 286.0,894.7 286.5,878.2 287.1,859.2 288.2,863.6 288.5,864.8 289.3,868.1 290.4,888.0 290.5,889.4 291.5,908.0 292.5,931.2 292.6,934.6 293.8,961.3 294.5,968.8 296.0,983.4 296.5,999.4 297.1,1016.7 298.5,1017.7 300.4,1018.9 300.5,1018.9 302.5,1018.9 302.6,1018.9 304.5,1018.9 304.8,1018.9 306.5,1018.1 308.5,1017.1 309.3,1016.7 310.5,1016.4 312.5,1015.9 313.7,1015.6 314.5,1015.5 316.5,1015.1 318.5,1014.8 320.4,1014.5 320.5,1014.4 322.5,1013.1 323.7,1012.3 324.5,1012.9 326.5,1014.5 328.5,1016.1 329.3,1016.7 330.5,1016.1 331.5,1015.6 332.5,1015.1 333.7,1014.5 334.5,1013.3 336.5,1010.3 338.1,1007.8 338.5,1007.7 340.5,1006.7 342.5,1005.7 342.6,1005.6 344.5,1006.6 346.5,1007.6 347.0,1007.8 348.5,1003.8 350.3,999.0 350.5,998.6 352.5,994.6 353.7,992.3 354.5,994.8 356.5,1000.8 358.1,1005.6 358.5,1005.4 360.5,1004.0 361.4,1003.4 362.5,1007.0 364.5,1013.7 364.8,1014.5 366.5,1015.4 368.5,1016.4 369.2,1016.7 370.5,1016.7 372.5,1016.7 373.6,1016.7 374.5,1017.2 375.8,1017.8 376.5,1018.2 378.1,1018.9 378.5,1017.9 380.5,1013.3 381.4,1011.2 382.5,1013.8 384.5,1018.4 384.7,1018.9 386.5,1020.7 386.9,1021.2 388.5,1022.7 389.2,1023.4 390.5,1021.4 392.5,1018.4 393.6,1016.7 394.5,1017.2 396.5,1018.2 398.0,1018.9 398.5,1018.4 400.5,1016.0 402.5,1013.6 403.6,1012.3 404.5,1012.7 406.5,1013.5 408.5,1014.3 409.1,1014.5 410.5,1015.2 412.5,1016.2 413.6,1016.7 414.5,1016.2 416.5,1015.0 418.5,1013.9 420.2,1012.9 420.5,1012.8 421.3,1012.3 422.5,1014.6 424.5,1018.6 424.7,1018.9 426.5,1019.9 428.5,1020.9 430.5,1021.9 431.3,1022.3 432.5,1022.5 434.5,1022.8 436.0,1023.0 436.5,1023.1 438.0,1023.4 438.5,1023.2 440.2,1022.8 440.5,1022.7 440.8,1022.6 442.0,1021.4 442.5,1021.2 444.5,1020.2 445.6,1019.6 446.0,1019.2 446.5,1018.7 447.9,1017.2 448.5,1016.7 449.1,1016.0 450.5,1013.8 452.5,1010.4 452.7,1010.1 454.5,1000.3 455.1,996.9 456.5,984.0 456.9,980.2 458.5,980.8 459.9,981.4 460.5,982.2 462.5,984.9 463.5,986.2 464.5,991.3 465.9,998.1 466.5,1001.9 467.7,1008.9 468.5,1009.5 470.5,1011.1 470.6,1011.3 471.8,1012.5 472.5,1013.1 474.2,1014.8 474.5,1015.8 475.4,1019.0 476.5,1022.8 476.6,1023.2 477.8,1027.8 478.5,1027.9 480.5,1028.0 482.5,1028.1 483.8,1028.1 484.5,1028.1 486.5,1028.1 488.5,1028.1 489.8,1028.1 490.5,1028.2 492.5,1028.3 494.5,1028.4 495.7,1028.4 496.5,1028.4 498.5,1028.4 500.5,1028.4 501.7,1028.4 502.5,1028.4 504.5,1028.3 506.5,1028.2 507.7,1028.1 508.5,1028.1 510.5,1028.1 512.5,1028.1 513.6,1028.1 514.5,1028.0 516.5,1027.8 518.5,1027.6 519.6,1027.4 520.5,1027.4 522.5,1027.4 524.5,1027.4 525.6,1027.4 526.5,1027.1 528.5,1026.3 530.4,1025.6 530.5,1025.6 531.6,1025.8 532.5,1026.0 534.5,1026.3 536.5,1026.6 537.5,1026.8 538.5,1026.6 540.5,1026.1 542.5,1025.6 543.5,1025.3 544.5,1025.1 544.7,1025.0 546.5,1024.3 548.5,1023.6 549.5,1023.2 550.5,1023.0 552.5,1022.5 554.3,1022.0 554.5,1022.1 555.5,1022.6 556.5,1023.1 558.5,1024.1 559.0,1024.4 560.5,1025.4 562.5,1026.7 562.6,1026.8 564.5,1025.6 566.5,1024.4 567.4,1023.8 568.5,1023.7 570.5,1023.5 572.5,1023.3 573.4,1023.2 574.5,1022.7 576.5,1021.9 578.5,1021.1 579.4,1020.7 580.5,1020.2 580.5,1020.2 582.5,1021.2 584.1,1022.0 584.5,1021.8 586.5,1020.8 586.5,1020.8 588.5,1022.3 590.5,1023.8 591.3,1024.4 592.5,1024.3 594.5,1024.0 596.0,1023.8 596.1,1023.8 596.5,1024.2 598.5,1025.9 599.5,1026.8 600.5,1027.7 600.9,1027.8 601.8,1028.1 602.5,1028.1 604.5,1028.1 606.0,1028.0 606.5,1028.0 607.5,1028.0 608.5,1028.0 610.5,1028.0 612.5,1027.9 614.5,1027.9 616.5,1027.9 618.5,1027.8 619.1,1027.8 620.5,1027.9 622.5,1027.9 624.5,1028.0 626.5,1028.0 628.5,1028.1 630.5,1028.1 630.6,1028.1 632.5,1028.1 634.5,1028.1 636.5,1028.1 638.5,1028.1 640.5,1028.0 642.2,1028.0 642.5,1028.0 644.5,1028.0 646.5,1028.0 648.5,1028.0 650.5,1028.0 652.5,1028.0 653.7,1028.0 654.5,1028.0 656.5,1028.1 658.5,1028.2 660.5,1028.3 662.5,1028.3 664.5,1028.4 665.3,1028.4 666.5,1028.4 668.5,1028.3 670.5,1028.3 672.5,1028.2 674.5,1028.2 676.5,1028.1 676.8,1028.1 678.5,1028.0 680.5,1027.9 682.5,1027.7 684.5,1027.4 685.5,1027.3 686.5,1027.9 688.4,1028.4 688.5,1028.4 690.5,1028.1 692.5,1027.6 694.5,1027.0 695.3,1026.7 696.5,1027.1 698.5,1027.9 699.9,1028.1 700.5,1028.2 702.5,1028.3 704.5,1028.5 705.7,1028.6 706.5,1028.6 708.5,1028.6 710.5,1028.6 711.5,1028.6 712.5,1028.6 714.5,1028.6 716.5,1028.6 718.5,1028.6 720.5,1028.6 722.5,1028.6 724.5,1028.6 726.5,1028.6 728.5,1028.6 730.5,1028.6 732.5,1028.6 734.5,1028.6 736.5,1028.6 738.5,1028.6 740.5,1028.6 742.5,1028.6 744.5,1028.6 746.5,1028.6 748.5,1028.6 750.5,1028.6 752.5,1028.6 754.5,1028.6 756.0,1028.6 756.5,1028.6 758.5,1028.6 760.5,1028.6 762.5,1028.6 764.5,1028.6 766.0,1028.6 766.5,1028.6 768.5,1028.6 770.5,1028.6 772.5,1028.6 774.5,1028.6 776.5,1028.6 778.5,1028.6 780.5,1028.6 782.5,1028.6 784.5,1028.6 786.5,1028.6 788.5,1028.6 790.5,1028.6 790.6,1028.6 792.5,1022.1 793.0,1020.3 794.5,1018.0 795.3,1016.9 796.5,1018.7 797.6,1020.3 798.5,1022.2 799.9,1025.0 800.5,1025.0 802.5,1025.0 804.5,1025.0 804.5,1025.0 806.5,1023.5 808.5,1022.0 809.1,1021.5 810.5,1020.1 812.5,1018.1 812.6,1018.0 814.5,1018.7 816.0,1019.2 816.5,1019.2 818.5,1019.2 820.5,1019.2 820.7,1019.2 822.5,1020.4 824.1,1021.5 824.5,1021.6 826.5,1022.3 827.6,1022.6 828.5,1022.2 830.5,1021.2 831.1,1020.9 832.5,1021.6 834.5,1022.6 834.5,1022.6 836.5,1023.1 838.5,1023.6 839.1,1023.8 840.5,1023.8 842.5,1023.8 843.8,1023.8 844.5,1023.4 846.5,1022.4 848.4,1021.5 848.5,1021.4 850.5,1019.4 850.7,1019.2 852.5,1020.1 853.0,1020.3 854.5,1025.3 854.7,1026.1 856.5,1027.5 857.6,1028.1 858.5,1028.1 859.0,1028.1 859.4,944.4 860.5,943.7 861.9,942.7 862.5,943.3 863.7,944.4 864.5,945.3 865.4,946.1 866.5,948.4 867.1,949.6 868.5,952.4 868.8,953.0 870.5,958.1 870.5,958.2 872.2,963.2 872.5,959.3 873.9,941.9 874.5,934.3 875.6,920.5 876.5,929.6 877.3,937.6 878.5,949.6 879.0,954.7 880.5,956.9 880.7,957.2 882.4,959.8 882.5,959.9 884.1,961.5 884.5,961.9 885.8,963.2 886.5,962.9 887.5,962.4 888.5,961.9 889.2,961.5 890.5,954.6 891.0,952.1 892.5,943.6 892.7,942.7 894.4,915.4 894.5,914.2 896.1,900.1 896.5,894.1 897.8,876.2 898.5,876.9 899.5,877.9 900.5,920.4 901.2,949.6 902.5,949.6 904.5,949.6 904.6,949.6 906.5,952.4 908.0,954.7 908.5,951.8 910.5,939.8 910.6,939.3 911.4,939.9 912.5,940.6 913.1,941.0 914.5,947.1 914.8,948.7 916.5,956.1 916.6,956.4 918.3,945.3 918.5,943.7 920.0,934.2 920.5,934.5 921.7,935.0 922.5,935.5 923.4,935.9 924.5,938.1 925.1,939.3 926.5,942.1 926.8,942.7 928.5,951.3 928.5,951.3 930.2,959.8 930.5,960.4 931.9,963.2 932.5,964.4 933.6,966.6 934.5,966.6 935.3,966.6 936.5,966.6 937.0,966.6 938.5,963.7 938.7,963.2 940.4,959.8 940.5,959.6 942.2,953.8 942.5,952.6 943.9,947.8 944.5,946.9 945.6,945.3 946.5,943.9 947.3,942.7 948.5,940.3 949.0,939.3 950.5,943.9 952.4,949.6 952.5,949.6 954.5,950.6 955.8,951.3 956.5,953.0 958.5,958.0 959.2,959.8 960.5,961.1 962.5,963.1 962.6,963.2 964.5,965.1 966.0,966.6 966.5,966.0 967.7,964.3 968.5,963.3 968.6,963.2 970.5,969.5 971.2,971.7 972.5,974.4 974.5,978.4 974.6,978.6 976.3,978.6 976.5,978.6 978.0,978.6 978.5,975.7 979.7,969.2 980.5,964.7 981.4,959.8 982.5,957.0 983.1,955.5 984.5,952.0 984.8,951.3 986.5,964.8 986.5,964.9 988.2,978.6 988.5,979.1 989.9,982.0 990.5,983.1 991.6,985.4 992.5,984.5 993.3,983.7 994.5,982.5 995.1,982.0 996.5,981.3 996.8,981.1 998.5,980.3 998.5,980.4 1000.2,984.5 1000.5,985.4 1001.9,988.8 1002.5,985.4 1003.6,979.4 1004.5,974.4 1005.3,970.0 1006.5,971.2 1007.0,971.7 1008.5,973.2 1008.7,973.4 1010.4,976.9 1010.5,977.0 1012.1,980.3 1012.5,979.9 1012.7,979.7 1013.8,978.6 1014.5,977.9 1015.5,976.9 1015.5,976.9 1016.5,974.5 1016.8,973.9 1018.1,971.3 1018.2,971.1 1018.5,971.6 1020.0,973.8 1020.5,974.6 1020.9,975.2 1022.5,979.2 1023.7,982.1 1024.5,986.3 1026.4,995.7 1026.5,995.9 1027.7,998.4 1028.5,999.9 1029.1,1001.2 1030.5,999.1 1031.8,997.1 1032.5,996.6 1033.9,995.7 1034.5,998.9 1035.9,1006.6 1036.5,1007.2 1037.3,1008.0 1038.5,1009.2 1038.7,1009.4 1040.5,1008.1 1042.5,1006.8 1042.8,1006.6 1044.1,1003.2 1044.5,1002.3 1045.5,999.8 1046.5,999.8 1048.2,999.8 1048.5,1000.8 1050.5,1007.8 1051.0,1009.4 1052.5,1010.9 1053.7,1012.1 1054.5,1012.4 1056.5,1013.0 1057.8,1013.5 1058.5,1013.5 1060.5,1013.5 1061.9,1013.5 1062.5,1013.7 1064.5,1014.3 1066.0,1014.8 1066.5,1013.6 1067.3,1011.6 1068.5,1008.9 1070.1,1005.3 1070.5,1005.1 1072.5,1004.1 1072.8,1003.9 1074.5,1005.6 1075.5,1006.6 1076.5,1008.6 1078.3,1012.1 1078.5,1012.3 1080.5,1014.3 1081.0,1014.8 1082.5,1016.3 1083.7,1017.6 1084.5,1016.8 1085.1,1016.2 1086.5,1014.8 1086.5,1014.7 1088.5,1005.7 1089.2,1002.5 1090.5,1003.2 1091.9,1003.9 1092.5,1005.6 1094.5,1011.6 1094.7,1012.1 1096.5,1013.3 1098.5,1014.7 1098.7,1014.8 1100.5,1014.8 1101.5,1014.8 1102.5,1015.8 1102.8,1016.2 1104.5,1017.8 1105.6,1018.9 1106.5,1019.5 1108.3,1020.7 1108.5,1020.9 1109.7,1021.7 1110.5,1021.1 1112.5,1019.8 1113.8,1018.9 1114.5,1018.2 1116.5,1016.2 1117.9,1014.8 1118.5,1013.6 1119.2,1012.1 1120.5,1009.6 1120.6,1009.4 1122.5,1010.3 1123.3,1010.7 1124.5,1013.1 1126.1,1016.2 1126.5,1017.3 1128.5,1022.3 1128.8,1023.0 1130.5,1021.3 1131.5,1020.3 1132.5,1018.8 1132.9,1018.2 1134.2,1016.2 1134.5,1016.1 1136.5,1015.1 1137.0,1014.8 1138.5,1017.9 1139.7,1020.3 1140.5,1019.8 1142.5,1018.4 1143.8,1017.6 1144.5,1015.8 1146.5,1010.8 1146.5,1010.7 1148.5,1011.7 1149.3,1012.1 1150.5,1013.7 1152.5,1016.4 1153.4,1017.6 1154.5,1017.6 1156.5,1017.6 1157.5,1017.6 1158.5,1017.9 1160.2,1018.5 1160.5,1018.6 1161.6,1018.9 1162.5,1019.9 1164.3,1021.7 1164.5,1021.5 1166.5,1020.2 1167.0,1019.8 1168.4,1018.9 1168.5,1018.9 1170.0,1018.5 1170.5,1018.4 1172.5,1017.9 1173.8,1017.6 1174.1,1017.5 1174.5,1017.3 1176.5,1016.8 1176.8,1016.6 1177.9,1016.3 1178.2,1016.2 1178.5,1016.3 1180.0,1017.1 1180.5,1017.3 1180.9,1017.6 1182.5,1019.1 1183.7,1020.3 1184.5,1020.9 1186.5,1022.2 1187.7,1023.0 1188.5,1023.0 1190.5,1023.0 1191.8,1023.0 1192.5,1023.0 1194.5,1023.0 1196.5,1023.0 1197.3,1023.0 1198.5,1022.2 1200.5,1020.9 1201.4,1020.3 1202.5,1015.4 1204.1,1008.0 1204.5,1008.4 1206.5,1010.4 1206.9,1010.7 1208.5,1014.8 1209.6,1017.6 1210.5,1016.7 1211.0,1016.2 1212.3,1014.8 1212.5,1014.9 1214.5,1015.6 1216.4,1016.2 1216.5,1016.1 1218.5,1014.8 1220.5,1013.5 1220.5,1013.5 1222.5,1015.4 1224.5,1017.4 1224.6,1017.6 1226.5,1014.7 1227.3,1013.5 1228.5,1012.9 1230.5,1011.9 1231.4,1011.4 1232.5,1011.6 1234.5,1011.9 1235.5,1012.1 1236.5,1013.1 1238.3,1014.8 1238.5,1015.1 1239.6,1016.2 1240.5,1015.0 1242.5,1012.4 1243.7,1010.7 1244.5,1008.9 1246.5,1004.3 1247.8,1001.2 1248.5,1001.5 1250.5,1002.5 1250.6,1002.5 1251.9,1006.0 1252.5,1007.4 1253.3,1009.4 1254.5,1009.4 1256.5,1009.4 1257.4,1009.4 1258.5,1009.4 1260.5,1009.4 1261.5,1009.4 1262.5,1007.3 1264.2,1003.9 1264.5,1004.3 1265.6,1006.0 1266.5,1007.3 1266.9,1008.0 1268.5,1008.8 1269.7,1009.4 1270.5,1008.3 1272.4,1006.0 1272.5,1006.1 1274.5,1008.6 1275.1,1009.4 1276.5,1008.5 1278.5,1007.1 1279.2,1006.6 1280.5,1006.2 1282.5,1005.5 1283.3,1005.3 1284.5,1004.5 1286.1,1003.4 1286.5,1003.2 1287.4,1002.5 1288.5,998.2 1290.2,991.6 1290.5,991.8 1292.5,993.2 1292.9,993.4 1294.2,994.3 1294.5,994.8 1296.5,998.8 1297.0,999.8 1298.5,997.8 1299.7,996.2 1300.5,995.1 1301.1,994.3 1302.5,993.9 1303.8,993.4 1304.5,993.2 1305.2,993.0 1306.5,993.4 1306.5,993.4 1308.5,994.1 1309.3,994.3 1310.5,996.0 1312.5,998.7 1313.4,999.8 1314.5,998.3 1316.5,995.6 1317.5,994.3 1318.5,994.7 1320.0,995.2 1320.2,995.3 1320.5,995.4 1321.6,995.7 1322.5,992.4 1324.1,986.8 1324.3,986.2 1324.5,986.7 1326.5,991.7 1326.8,992.5 1327.0,993.0 1328.2,994.9 1328.5,995.4 1330.5,998.7 1331.1,999.6 1332.3,1001.1 1332.5,1001.0 1333.6,1000.2 1333.8,1000.1 1334.5,999.6 1335.2,999.2 1336.4,998.4 1336.5,998.1 1337.9,994.2 1338.5,992.7 1340.0,988.8 1340.5,987.5 1340.5,987.5 1342.5,990.2 1344.5,992.8 1344.6,992.9 1346.5,998.7 1347.3,1001.1 1348.5,1001.1 1350.5,1001.1 1351.4,1001.1 1352.5,1001.1 1354.1,1001.1 1354.5,1001.1 1355.5,1001.1 1356.5,1000.4 1358.5,999.1 1359.6,998.4 1360.5,997.5 1360.9,997.0 1362.3,995.7 1362.5,994.9 1364.5,986.9 1366.4,979.3 1366.5,979.2 1367.8,978.6 1368.5,978.2 1369.1,977.9 1370.5,982.7 1371.9,987.5 1372.5,985.6 1374.5,979.6 1374.6,979.3 1376.5,981.2 1377.3,982.0 1378.5,984.4 1380.1,987.5 1380.5,988.8 1381.4,991.6 1382.5,994.8 1382.8,995.7 1384.5,983.6 1385.5,976.6 1386.5,977.5 1388.2,979.3 1388.5,979.8 1390.5,983.8 1391.0,984.7 1392.5,990.1 1393.7,994.3 1394.5,993.2 1395.1,992.5 1396.5,990.6 1397.8,988.8 1398.5,988.6 1400.5,987.9 1401.9,987.5 1402.5,984.1 1404.5,973.1 1404.6,972.5 1406.5,967.8 1407.3,965.6 1408.5,962.8 1408.7,962.2 1410.1,958.8 1410.5,956.9 1412.5,947.9 1412.8,946.5 1414.5,951.6 1415.5,954.7 1416.5,948.0 1418.3,935.6 1418.5,935.8 1420.5,937.8 1421.0,938.3 1422.4,934.9 1422.5,934.6 1423.7,931.5 1424.5,929.6 1426.5,924.7 1426.5,924.6 1428.5,919.6 1429.2,917.9 1430.5,918.5 1431.9,919.2 1432.5,921.6 1434.5,929.6 1434.6,930.2 1436.0,939.7 1436.5,943.1 1437.4,949.3 1438.5,950.4 1440.1,952.0 1440.5,953.6 1442.5,961.6 1442.8,962.9 1444.5,952.1 1445.6,945.2 1446.5,944.2 1448.3,942.4 1448.5,940.3 1450.5,919.3 1451.0,913.8 1452.5,916.7 1453.8,919.2 1454.5,925.2 1456.5,941.1 1456.5,941.0 1458.5,936.0 1459.2,934.2 1460.5,934.8 1462.5,935.6 1466.0,935.6 1466.0,1010.0 1462.5,1010.0 1460.5,1010.4 1459.2,1010.7 1458.5,1011.0 1456.5,1012.0 1456.5,1012.0 1454.5,1011.6 1453.8,1011.4 1452.5,1009.5 1451.0,1007.3 1450.5,1009.1 1448.5,1016.1 1448.3,1016.8 1446.5,1014.1 1445.6,1012.7 1444.5,1013.8 1442.8,1015.5 1442.5,1015.3 1440.5,1014.3 1440.1,1014.1 1438.5,1013.6 1437.4,1013.2 1436.5,1012.9 1436.0,1012.7 1434.6,1011.4 1434.5,1011.2 1432.5,1009.2 1431.9,1008.6 1430.5,1010.1 1429.2,1011.4 1428.5,1011.0 1426.5,1010.0 1426.5,1010.0 1424.5,1012.0 1423.7,1012.7 1422.5,1014.0 1422.4,1014.1 1421.0,1014.6 1420.5,1014.8 1418.5,1015.6 1418.3,1015.7 1416.5,1016.4 1415.5,1016.8 1414.5,1017.2 1412.8,1017.9 1412.5,1018.0 1410.5,1018.8 1410.1,1019.0 1408.7,1019.6 1408.5,1019.6 1407.3,1019.7 1406.5,1019.8 1404.6,1020.0 1404.5,1020.0 1402.5,1020.2 1401.9,1020.2 1400.5,1020.7 1398.5,1021.3 1397.8,1021.5 1396.5,1021.9 1395.1,1022.3 1394.5,1022.2 1393.7,1022.1 1392.5,1022.0 1391.0,1021.9 1390.5,1021.8 1388.5,1021.6 1388.2,1021.6 1386.5,1021.4 1385.5,1021.3 1384.5,1021.2 1382.8,1021.1 1382.5,1021.0 1381.4,1020.9 1380.5,1021.1 1380.1,1021.2 1378.5,1021.5 1377.3,1021.7 1376.5,1021.9 1374.6,1022.3 1374.5,1022.3 1372.5,1021.9 1371.9,1021.7 1370.5,1021.5 1369.1,1021.2 1368.5,1021.1 1367.8,1020.9 1366.5,1020.9 1366.4,1020.9 1364.5,1020.9 1362.5,1020.9 1362.3,1020.9 1360.9,1020.9 1360.5,1021.0 1359.6,1021.2 1358.5,1021.4 1356.5,1021.8 1355.5,1022.0 1354.5,1022.2 1354.1,1022.3 1352.5,1022.1 1351.4,1022.0 1350.5,1021.9 1348.5,1021.7 1347.3,1021.6 1346.5,1021.5 1344.6,1021.3 1344.5,1021.3 1342.5,1021.1 1340.5,1020.9 1340.5,1020.9 1340.0,1021.0 1338.5,1021.3 1337.9,1021.4 1336.5,1021.7 1336.4,1021.7 1335.2,1022.0 1334.5,1022.1 1333.8,1022.2 1333.6,1022.3 1332.5,1022.3 1332.3,1022.3 1331.1,1022.3 1330.5,1022.3 1328.5,1022.6 1328.2,1022.6 1327.0,1022.3 1326.8,1022.4 1326.5,1022.5 1324.5,1023.1 1324.3,1023.2 1324.1,1023.2 1322.5,1023.7 1321.6,1024.0 1320.5,1024.3 1320.2,1024.4 1320.0,1024.4 1318.5,1024.6 1317.5,1024.7 1316.5,1024.8 1314.5,1025.0 1313.4,1025.1 1312.5,1025.0 1310.5,1024.8 1309.3,1024.7 1308.5,1024.6 1306.5,1024.4 1306.5,1024.4 1305.2,1023.4 1304.5,1022.9 1303.8,1022.3 1302.5,1023.0 1301.1,1023.7 1300.5,1024.0 1299.7,1024.4 1298.5,1024.3 1297.0,1024.1 1296.5,1024.1 1294.5,1023.9 1294.2,1023.8 1292.9,1023.7 1292.5,1023.7 1290.5,1023.9 1290.2,1024.0 1288.5,1024.1 1287.4,1024.3 1286.5,1024.3 1286.1,1024.4 1284.5,1024.7 1283.3,1024.9 1282.5,1025.1 1280.5,1025.5 1279.2,1025.8 1278.5,1025.7 1276.5,1025.6 1275.1,1025.6 1274.5,1025.5 1272.5,1025.4 1272.4,1025.4 1270.5,1025.3 1269.7,1025.3 1268.5,1025.2 1266.9,1025.1 1266.5,1025.1 1265.6,1025.1 1264.5,1025.1 1264.2,1025.1 1262.5,1025.2 1261.5,1025.3 1260.5,1025.3 1258.5,1025.4 1257.4,1025.5 1256.5,1025.5 1254.5,1025.6 1253.3,1025.7 1252.5,1025.7 1251.9,1025.8 1250.6,1025.8 1250.5,1025.8 1248.5,1025.8 1247.8,1025.8 1246.5,1025.8 1244.5,1025.8 1243.7,1025.8 1242.5,1025.8 1240.5,1025.8 1239.6,1025.8 1238.5,1025.8 1238.3,1025.8 1236.5,1025.8 1235.5,1025.8 1234.5,1025.8 1232.5,1025.8 1231.4,1025.8 1230.5,1025.8 1228.5,1025.8 1227.3,1025.8 1226.5,1025.8 1224.6,1025.8 1224.5,1025.8 1222.5,1025.8 1220.5,1025.8 1220.5,1025.8 1218.5,1025.8 1216.5,1025.8 1216.4,1025.8 1214.5,1025.8 1212.5,1025.8 1212.3,1025.8 1211.0,1025.8 1210.5,1025.8 1209.6,1025.8 1208.5,1025.8 1206.9,1025.8 1206.5,1025.8 1204.5,1025.8 1204.1,1025.8 1202.5,1025.8 1201.4,1025.8 1200.5,1025.8 1198.5,1025.8 1197.3,1025.8 1196.5,1025.8 1194.5,1025.9 1192.5,1026.0 1191.8,1026.0 1190.5,1026.1 1188.5,1026.2 1187.7,1026.2 1186.5,1026.3 1184.5,1026.4 1183.7,1026.4 1182.5,1026.3 1180.9,1026.2 1180.5,1026.1 1180.0,1026.1 1178.5,1025.9 1178.2,1025.9 1177.9,1025.9 1176.8,1025.8 1176.5,1025.7 1174.5,1025.7 1174.1,1025.7 1173.8,1025.8 1172.5,1025.6 1170.5,1025.4 1170.0,1025.4 1168.5,1025.2 1168.4,1025.2 1167.0,1025.1 1166.5,1025.1 1164.5,1025.3 1164.3,1025.3 1162.5,1025.5 1161.6,1025.6 1160.5,1025.7 1160.2,1025.8 1158.5,1025.6 1157.5,1025.5 1156.5,1025.4 1154.5,1025.2 1153.4,1025.1 1152.5,1025.0 1150.5,1024.8 1149.3,1024.7 1148.5,1024.6 1146.5,1024.4 1146.5,1024.4 1144.5,1024.6 1143.8,1024.7 1142.5,1024.8 1140.5,1025.0 1139.7,1025.1 1138.5,1025.2 1137.0,1025.3 1136.5,1025.4 1134.5,1025.6 1134.2,1025.6 1132.9,1025.8 1132.5,1025.8 1131.5,1025.9 1130.5,1026.0 1128.8,1026.2 1128.5,1026.2 1126.5,1026.4 1126.1,1026.4 1124.5,1026.0 1123.3,1025.6 1122.5,1025.4 1120.6,1024.8 1120.5,1024.8 1119.2,1024.4 1118.5,1024.5 1117.9,1024.6 1116.5,1024.7 1114.5,1025.0 1113.8,1025.1 1112.5,1025.2 1110.5,1025.5 1109.7,1025.6 1108.5,1025.7 1108.3,1025.8 1106.5,1025.5 1105.6,1025.4 1104.5,1025.3 1102.8,1025.1 1102.5,1025.0 1101.5,1025.0 1100.5,1024.9 1098.7,1024.7 1098.5,1024.7 1096.5,1024.5 1094.7,1024.4 1094.5,1024.4 1092.5,1024.9 1091.9,1025.1 1090.5,1025.4 1089.2,1025.8 1088.5,1025.6 1086.5,1025.3 1086.5,1025.3 1085.1,1025.1 1084.5,1025.1 1083.7,1025.1 1082.5,1025.1 1081.0,1025.1 1080.5,1025.1 1078.5,1025.1 1078.3,1025.1 1076.5,1024.2 1075.5,1023.7 1074.5,1023.2 1072.8,1022.3 1072.5,1022.4 1070.5,1022.9 1070.1,1023.0 1068.5,1023.4 1067.3,1023.7 1066.5,1023.9 1066.0,1024.1 1064.5,1024.4 1062.5,1024.9 1061.9,1025.1 1060.5,1024.6 1058.5,1023.9 1057.8,1023.7 1056.5,1023.2 1054.5,1022.4 1053.7,1022.1 1052.5,1021.6 1051.0,1021.0 1050.5,1021.1 1048.5,1021.5 1048.2,1021.5 1046.5,1021.9 1045.5,1022.1 1044.5,1022.3 1044.1,1022.3 1042.8,1022.5 1042.5,1022.5 1040.5,1022.7 1038.7,1022.9 1038.5,1022.9 1037.3,1023.0 1036.5,1022.9 1035.9,1022.9 1034.5,1022.7 1033.9,1022.6 1032.5,1022.4 1031.8,1022.3 1030.5,1021.9 1029.1,1021.4 1028.5,1021.2 1027.7,1021.0 1026.5,1021.8 1026.4,1021.9 1024.5,1023.1 1023.7,1023.7 1022.5,1023.6 1020.9,1023.4 1020.5,1023.4 1020.0,1023.3 1018.5,1023.2 1018.2,1023.2 1018.1,1023.2 1016.8,1023.0 1016.5,1023.0 1015.5,1020.6 1015.5,1020.6 1014.5,1020.6 1013.8,1020.6 1012.7,1020.8 1012.5,1020.9 1012.1,1021.0 1010.5,1021.4 1010.4,1021.4 1008.7,1020.1 1008.5,1020.0 1007.0,1018.8 1006.5,1019.1 1005.3,1019.7 1004.5,1020.1 1003.6,1020.6 1002.5,1020.0 1001.9,1019.7 1000.5,1019.0 1000.2,1018.8 998.5,1019.3 998.5,1019.3 996.8,1019.7 996.5,1019.6 995.1,1019.3 994.5,1019.1 993.3,1018.8 992.5,1018.8 991.6,1018.8 990.5,1018.8 989.9,1018.8 988.5,1018.5 988.2,1018.4 986.5,1018.0 986.5,1018.0 984.8,1017.6 984.5,1017.5 983.1,1017.1 982.5,1017.3 981.4,1017.6 980.5,1017.8 979.7,1018.0 978.5,1017.7 978.0,1017.6 976.5,1017.2 976.3,1017.1 974.6,1017.1 974.5,1017.1 972.5,1017.1 971.2,1017.1 970.5,1017.8 968.6,1019.7 968.5,1019.8 967.7,1020.6 966.5,1019.7 966.0,1019.4 964.5,1018.4 962.6,1017.1 962.5,1017.1 960.5,1017.1 959.2,1017.1 958.5,1017.1 956.5,1017.1 955.8,1017.1 954.5,1017.1 952.5,1017.1 952.4,1017.1 950.5,1017.1 949.0,1017.1 948.5,1017.0 947.3,1016.7 946.5,1016.5 945.6,1016.3 944.5,1016.0 943.9,1015.9 942.5,1015.5 942.2,1015.4 940.5,1016.3 940.4,1016.3 938.7,1017.1 938.5,1017.0 937.0,1016.3 936.5,1016.0 935.3,1015.4 934.5,1015.4 933.6,1015.4 932.5,1015.4 931.9,1015.4 930.5,1015.4 930.2,1015.4 928.5,1015.4 928.5,1015.4 926.8,1013.7 926.5,1013.4 925.1,1012.0 924.5,1012.0 923.4,1012.0 922.5,1012.0 921.7,1012.0 920.5,1012.6 920.0,1012.9 918.5,1013.6 918.3,1013.7 916.6,1014.6 916.5,1014.6 914.8,1015.4 914.5,1015.4 913.1,1015.4 912.5,1015.4 911.4,1015.4 910.6,1015.4 910.5,1015.4 908.5,1015.4 908.0,1015.4 906.5,1015.4 904.6,1015.4 904.5,1015.4 902.5,1014.9 901.2,1014.6 900.5,1014.1 899.5,1013.3 898.5,1012.6 897.8,1012.0 896.5,1010.1 896.1,1009.5 894.5,1007.1 894.4,1006.9 892.7,1010.3 892.5,1010.6 891.0,1013.7 890.5,1014.4 889.2,1016.3 888.5,1017.4 887.5,1018.8 886.5,1019.6 885.8,1020.1 884.5,1021.1 884.1,1021.4 882.5,1019.4 882.4,1019.3 880.7,1017.1 880.5,1017.0 879.0,1016.3 878.5,1016.0 877.3,1015.4 876.5,1016.2 875.6,1017.1 874.5,1018.2 873.9,1018.8 872.5,1018.1 872.2,1018.0 870.5,1017.1 870.5,1017.1 868.8,1014.6 868.5,1014.2 867.1,1012.0 866.5,1010.3 865.4,1006.9 864.5,1006.9 863.7,1006.9 862.5,1017.3 861.9,1022.3 860.5,1024.2 859.4,1025.7 859.0,1028.1 858.5,1028.1 857.6,1028.1 856.5,1027.8 854.7,1027.8 854.5,1027.8 853.0,1027.8 852.5,1027.8 850.7,1027.8 850.5,1027.8 848.5,1027.8 848.4,1027.8 846.5,1027.8 844.5,1027.8 843.8,1027.8 842.5,1027.8 840.5,1027.8 839.1,1027.8 838.5,1027.8 836.5,1027.8 834.5,1027.8 834.5,1027.8 832.5,1027.8 831.1,1027.8 830.5,1027.8 828.5,1027.8 827.6,1027.8 826.5,1027.8 824.5,1027.8 824.1,1027.8 822.5,1027.8 820.7,1027.8 820.5,1027.8 818.5,1027.8 816.5,1027.8 816.0,1027.8 814.5,1027.8 812.6,1027.8 812.5,1027.8 810.5,1027.8 809.1,1027.8 808.5,1027.8 806.5,1027.8 804.5,1027.8 804.5,1027.8 802.5,1027.8 800.5,1027.8 799.9,1027.8 798.5,1027.8 797.6,1027.8 796.5,1027.8 795.3,1027.8 794.5,1027.8 793.0,1027.8 792.5,1027.8 790.6,1028.6 790.5,1028.6 788.5,1028.6 786.5,1028.6 784.5,1028.6 782.5,1028.6 780.5,1028.6 778.5,1028.6 776.5,1028.6 774.5,1028.6 772.5,1028.6 770.5,1028.6 768.5,1028.6 766.5,1028.6 766.0,1028.6 764.5,1028.6 762.5,1028.6 760.5,1028.6 758.5,1028.6 756.5,1028.6 756.0,1028.6 754.5,1028.6 752.5,1028.6 750.5,1028.6 748.5,1028.6 746.5,1028.6 744.5,1028.6 742.5,1028.6 740.5,1028.6 738.5,1028.6 736.5,1028.6 734.5,1028.6 732.5,1028.6 730.5,1028.6 728.5,1028.6 726.5,1028.6 724.5,1028.6 722.5,1028.6 720.5,1028.6 718.5,1028.6 716.5,1028.6 714.5,1028.6 712.5,1028.6 711.5,1028.6 710.5,1028.6 708.5,1028.6 706.5,1028.6 705.7,1028.6 704.5,1028.5 702.5,1028.3 700.5,1028.2 699.9,1028.1 698.5,1027.9 696.5,1027.8 695.3,1027.8 694.5,1027.8 692.5,1027.8 690.5,1028.1 688.5,1028.4 688.4,1028.4 686.5,1027.9 685.5,1027.8 684.5,1027.8 682.5,1027.8 680.5,1027.9 678.5,1028.0 676.8,1028.1 676.5,1028.1 674.5,1028.2 672.5,1028.2 670.5,1028.3 668.5,1028.3 666.5,1028.4 665.3,1028.4 664.5,1028.4 662.5,1028.3 660.5,1028.3 658.5,1028.2 656.5,1028.1 654.5,1028.0 653.7,1028.0 652.5,1028.0 650.5,1028.0 648.5,1028.0 646.5,1028.0 644.5,1028.0 642.5,1028.0 642.2,1028.0 640.5,1028.0 638.5,1028.1 636.5,1028.1 634.5,1028.1 632.5,1028.1 630.6,1028.1 630.5,1028.1 628.5,1028.1 626.5,1028.0 624.5,1028.0 622.5,1027.9 620.5,1027.9 619.1,1027.8 618.5,1027.8 616.5,1027.9 614.5,1027.9 612.5,1027.9 610.5,1028.0 608.5,1028.0 607.5,1028.0 606.5,1028.0 606.0,1028.0 604.5,1028.1 602.5,1028.1 601.8,1028.1 600.9,1027.8 600.5,1027.7 599.5,1027.7 598.5,1027.7 596.5,1027.7 596.1,1027.7 596.0,1027.7 594.5,1027.7 592.5,1027.7 591.3,1027.7 590.5,1027.7 588.5,1027.7 586.5,1027.7 586.5,1027.7 584.5,1027.7 584.1,1027.7 582.5,1027.7 580.5,1027.7 580.5,1027.7 579.4,1027.7 578.5,1027.7 576.5,1027.7 574.5,1027.7 573.4,1027.7 572.5,1027.7 570.5,1027.7 568.5,1027.7 567.4,1027.7 566.5,1027.7 564.5,1027.7 562.6,1027.7 562.5,1027.7 560.5,1027.7 559.0,1027.7 558.5,1027.7 556.5,1027.7 555.5,1027.7 554.5,1027.7 554.3,1027.7 552.5,1027.7 550.5,1027.7 549.5,1027.7 548.5,1027.7 546.5,1027.7 544.7,1027.7 544.5,1027.7 543.5,1027.7 542.5,1027.7 540.5,1027.7 538.5,1027.7 537.5,1027.7 536.5,1027.7 534.5,1027.7 532.5,1027.7 531.6,1027.7 530.5,1027.7 530.4,1027.7 528.5,1027.7 526.5,1027.7 525.6,1027.7 524.5,1027.7 522.5,1027.7 520.5,1027.7 519.6,1027.7 518.5,1027.7 516.5,1027.8 514.5,1028.0 513.6,1028.1 512.5,1028.1 510.5,1028.1 508.5,1028.1 507.7,1028.1 506.5,1028.2 504.5,1028.3 502.5,1028.4 501.7,1028.4 500.5,1028.4 498.5,1028.4 496.5,1028.4 495.7,1028.4 494.5,1028.4 492.5,1028.3 490.5,1028.2 489.8,1028.1 488.5,1028.1 486.5,1028.1 484.5,1028.1 483.8,1028.1 482.5,1028.1 480.5,1028.0 478.5,1027.9 477.8,1027.8 476.6,1027.7 476.5,1027.7 475.4,1027.7 474.5,1027.2 474.2,1027.1 472.5,1026.2 471.8,1025.9 470.6,1025.6 470.5,1025.6 468.5,1025.2 467.7,1025.0 466.5,1024.8 465.9,1024.7 464.5,1024.7 463.5,1024.7 462.5,1024.7 460.5,1024.7 459.9,1024.7 458.5,1025.2 456.9,1025.8 456.5,1025.9 455.1,1026.5 454.5,1026.3 452.7,1025.9 452.5,1025.8 450.5,1025.6 449.1,1025.4 448.5,1025.3 447.9,1025.3 446.5,1025.7 446.0,1025.9 445.6,1026.0 444.5,1026.3 442.5,1026.9 442.0,1027.1 440.8,1026.7 440.5,1026.9 440.2,1027.0 438.5,1026.8 438.0,1026.7 436.5,1026.5 436.0,1026.4 434.5,1026.3 432.5,1026.0 431.3,1025.9 430.5,1025.7 428.5,1025.3 426.5,1024.9 424.7,1024.5 424.5,1024.5 422.5,1024.1 421.3,1023.9 420.5,1023.7 420.2,1023.6 418.5,1023.5 416.5,1023.3 414.5,1023.1 413.6,1023.0 412.5,1022.9 410.5,1022.7 409.1,1022.5 408.5,1022.6 406.5,1022.8 404.5,1023.0 403.6,1023.1 402.5,1023.2 400.5,1023.4 398.5,1023.6 398.0,1023.6 396.5,1023.8 394.5,1024.0 393.6,1024.1 392.5,1024.2 390.5,1024.4 389.2,1024.5 388.5,1024.6 386.9,1024.8 386.5,1024.7 384.7,1024.3 384.5,1024.3 382.5,1023.9 381.4,1023.6 380.5,1023.5 378.5,1023.1 378.1,1023.0 376.5,1022.7 375.8,1022.5 374.5,1022.7 373.6,1022.8 372.5,1022.9 370.5,1023.1 369.2,1023.2 368.5,1023.3 366.5,1023.5 364.8,1023.6 364.5,1023.6 362.5,1023.4 361.4,1023.3 360.5,1023.2 358.5,1023.0 358.1,1023.0 356.5,1022.8 354.5,1022.6 353.7,1022.5 352.5,1022.5 350.5,1022.5 350.3,1022.5 348.5,1022.5 347.0,1022.5 346.5,1022.5 344.5,1022.5 342.6,1022.5 342.5,1022.5 340.5,1022.5 338.5,1022.5 338.1,1022.5 336.5,1022.5 334.5,1022.5 333.7,1022.5 332.5,1022.5 331.5,1022.5 330.5,1022.5 329.3,1022.5 328.5,1022.5 326.5,1022.5 324.5,1022.5 323.7,1022.5 322.5,1022.5 320.5,1022.5 320.4,1022.5 318.5,1022.7 316.5,1022.9 314.5,1023.1 313.7,1023.2 312.5,1023.3 310.5,1023.5 309.3,1023.6 308.5,1023.8 306.5,1024.1 304.8,1024.4 304.5,1024.4 302.6,1024.8 302.5,1024.8 300.5,1024.8 300.4,1024.8 298.5,1024.8 297.1,1024.8 296.5,1024.8 296.0,1024.8 294.5,1021.8 293.8,1020.3 292.6,1018.1 292.5,1017.3 291.5,1011.4 290.5,1005.3 290.4,1004.8 289.3,1001.5 288.5,999.0 288.2,998.1 287.1,997.6 286.5,997.3 286.0,997.0 286.0,1007.0 284.6,1007.5 284.5,1007.6 282.5,1008.3 281.3,1008.8 280.5,1009.1 280.2,1009.2 278.5,1010.1 278.0,1010.3 276.5,1011.1 275.8,1011.4 274.6,1012.0 274.5,1012.1 272.5,1013.1 271.3,1013.7 270.5,1014.3 270.2,1014.5 268.5,1015.8 266.9,1017.0 266.5,1016.9 264.5,1016.2 263.5,1015.9 262.5,1015.2 260.5,1013.8 260.2,1013.7 258.5,1013.7 256.5,1013.7 255.8,1013.7 254.5,1013.0 252.5,1012.0 252.5,1012.0 251.3,1011.4 250.5,1012.8 249.1,1015.1 248.5,1016.2 248.0,1017.0 246.5,1014.5 245.8,1013.3 244.7,1011.4 244.5,1011.3 242.5,1010.3 242.5,1010.3 240.5,1009.3 240.3,1009.2 239.1,1010.7 238.5,1011.6 236.9,1013.7 236.5,1013.4 235.8,1012.9 234.5,1012.0 233.6,1011.4 232.5,1010.9 232.5,1010.9 230.5,1009.9 229.6,1009.4 229.2,1009.2 228.5,1010.8 226.9,1014.4 226.5,1015.4 225.8,1017.0 224.7,1015.9 224.5,1015.7 222.5,1013.7 222.5,1013.7 221.4,1013.9 220.5,1014.2 219.2,1014.5 218.5,1014.7 218.1,1014.8 217.0,1015.3 216.5,1015.5 214.5,1016.5 213.6,1017.0 212.5,1015.9 210.5,1013.9 210.3,1013.7 209.2,1012.5 208.5,1012.4 207.0,1012.0 206.5,1011.9 204.8,1011.4 204.5,1011.6 202.5,1013.1 201.4,1013.9 200.5,1014.6 200.3,1014.8 198.5,1013.4 198.1,1013.1 196.5,1011.9 195.9,1011.4 194.8,1011.4 194.5,1011.4 192.5,1011.4 191.4,1011.4 190.5,1011.0 189.2,1010.3 188.5,1010.0 187.0,1009.2 186.5,1004.7 184.8,989.3 184.5,988.5 183.7,986.3 182.5,983.2 181.5,980.4 180.5,977.8 179.2,974.5 178.5,972.5 178.1,971.5 176.5,982.9 175.9,987.0 174.5,996.9 173.7,1002.6 172.6,1004.2 172.5,1004.3 170.5,1007.3 169.3,1009.2 168.5,1008.7 166.5,1007.4 165.9,1007.0 164.5,1005.1 163.7,1004.0 162.6,1002.6 162.5,1002.5 160.5,1001.5 160.4,1001.5 158.5,1000.5 158.2,1000.3 157.0,1004.4 156.5,1006.4 154.8,1012.5 154.5,1012.1 153.7,1011.1 152.5,1009.4 151.5,1008.1 150.5,1008.9 150.4,1008.9 148.5,1010.4 147.1,1011.4 146.5,1012.0 144.5,1014.0 143.7,1014.8 142.6,1015.9 142.5,1015.8 140.5,1014.3 140.4,1014.2 138.5,1012.8 138.2,1012.5 137.1,1012.3 136.5,1012.1 134.5,1011.6 133.8,1011.4 132.5,1011.4 130.5,1011.4 130.4,1011.4 129.3,1011.4 128.5,1011.8 127.1,1012.5 126.5,1012.8 124.9,1013.7 124.5,1013.7 123.8,1013.7 122.5,1013.7 120.5,1013.7 120.4,1013.7 118.5,1014.1 116.5,1014.6 113.0,1014.6" fill="#1f77b4"/>
<path d="M115.4 920.5h0M114.7 1015.6h0M116.8 920.5h0M116.4 1014.2h0M118.3 927.0h0M117.9 1014.1h0M119.7 933.7h0M120.2 1013.3h0M121.4 938.2h0M121.2 1013.9h0M122.6 935.9h0M122.9 1013.9h0M124.9 927.0h0M124.6 1013.7h0M125.8 908.5h0M125.9 1013.5h0M128.2 905.6h0M127.5 1011.8h0M129.6 921.8h0M129.7 1010.9h0M131.2 932.4h0M131.4 1011.9h0M132.3 937.4h0M132.8 1010.8h0M134.2 940.6h0M134.5 1011.7h0M136.1 947.1h0M136.1 1012.4h0M137.4 955.0h0M137.7 1012.3h0M139.0 961.9h0M138.9 1013.9h0M140.3 965.9h0M140.4 1013.2h0M142.0 946.4h0M142.4 1014.2h0M143.8 925.7h0M143.9 1014.4h0M145.2 927.4h0M145.7 1013.2h0M146.7 930.3h0M147.2 1010.6h0M148.4 933.4h0M148.2 1009.7h0M150.0 934.7h0M150.5 1009.8h0M151.8 936.5h0M151.6 1007.5h0M153.7 939.9h0M153.6 1011.0h0M154.9 928.3h0M155.1 1012.7h0M157.0 913.5h0M156.8 1007.0h0M158.0 896.2h0M157.9 999.5h0M160.0 878.2h0M159.4 1001.6h0M161.1 878.1h0M161.3 1003.0h0M163.2 883.2h0M162.9 1004.0h0M164.6 901.0h0M164.8 1004.6h0M166.4 926.9h0M166.4 1006.2h0M167.6 925.6h0M167.7 1007.9h0M169.4 924.8h0M169.1 1008.0h0M170.9 925.9h0M170.7 1006.7h0M172.4 927.0h0M172.5 1004.0h0M174.2 920.4h0M173.8 999.8h0M175.5 916.2h0M175.9 988.7h0M177.8 896.9h0M177.8 975.3h0M179.0 874.9h0M179.1 974.5h0M180.8 865.9h0M180.4 977.6h0M182.2 849.9h0M181.8 983.4h0M183.5 828.3h0M183.6 986.1h0M185.1 834.1h0M185.2 995.5h0M187.0 841.4h0M187.1 1009.8h0M188.9 866.3h0M188.8 1008.7h0M190.2 910.0h0M189.8 1010.7h0M191.8 953.5h0M191.5 1012.2h0M193.3 961.0h0M193.7 1011.5h0M194.8 965.3h0M194.9 1010.0h0M196.7 959.8h0M196.4 1012.9h0M198.3 956.8h0M198.2 1014.2h0M199.8 940.6h0M199.9 1015.1h0M201.2 925.0h0M201.7 1014.4h0M203.2 920.6h0M203.1 1013.5h0M204.6 916.9h0M204.5 1010.9h0M205.9 911.6h0M206.5 1012.7h0M208.2 914.4h0M207.4 1011.8h0M209.6 921.9h0M209.4 1012.2h0M211.0 923.9h0M210.8 1013.6h0M212.6 921.1h0M212.8 1014.6h0M214.5 920.7h0M214.0 1017.3h0M215.6 920.4h0M215.9 1016.2h0M217.5 914.0h0M217.1 1014.3h0M219.4 882.0h0M218.9 1015.4h0M220.3 852.5h0M221.0 1013.0h0M221.9 846.5h0M222.0 1014.3h0M223.9 860.5h0M223.8 1015.2h0M225.4 879.4h0M225.6 1015.2h0M227.0 905.4h0M226.8 1013.7h0M228.6 864.8h0M228.5 1010.0h0M230.4 859.7h0M229.9 1009.7h0M231.4 914.5h0M232.1 1010.4h0M233.4 945.0h0M233.3 1011.5h0M235.3 958.0h0M235.0 1011.9h0M236.5 961.2h0M236.7 1012.8h0M238.5 953.0h0M238.3 1012.7h0M239.9 939.7h0M239.9 1008.4h0M241.4 919.8h0M241.7 1009.3h0M243.3 903.7h0M243.4 1011.6h0M244.7 890.1h0M244.9 1010.2h0M246.5 875.8h0M246.0 1013.3h0M247.9 867.8h0M248.0 1017.4h0M249.5 857.8h0M249.2 1015.0h0M251.0 855.5h0M251.4 1012.8h0M252.2 852.5h0M252.9 1012.2h0M254.4 863.3h0M254.3 1013.0h0M255.6 872.0h0M255.4 1013.8h0M257.6 874.0h0M257.6 1014.5h0M258.9 878.1h0M259.2 1013.3h0M260.3 883.7h0M260.5 1014.7h0M262.0 897.4h0M262.2 1016.0h0M263.7 912.4h0M263.7 1016.0h0M265.7 916.1h0M265.5 1017.1h0M267.0 921.2h0M266.7 1015.7h0M268.4 922.2h0M268.8 1015.4h0M270.1 921.6h0M269.9 1013.6h0M271.7 924.0h0M272.1 1013.4h0M273.5 926.9h0M273.2 1013.2h0M274.8 927.5h0M275.4 1012.5h0M276.9 925.8h0M276.5 1011.4h0M277.9 924.0h0M277.9 1010.4h0M279.6 915.7h0M280.1 1008.3h0M281.5 906.9h0M281.3 1007.5h0M282.8 892.3h0M283.1 1008.9h0M284.5 879.0h0M284.4 1006.8h0M286.3 888.6h0M286.5 997.5h0M288.1 861.5h0M287.8 996.7h0M289.8 870.1h0M289.6 1001.1h0M291.3 899.5h0M291.4 1007.6h0M292.7 933.0h0M292.5 1017.5h0M293.9 965.4h0M294.1 1019.9h0M296.1 981.6h0M296.2 1025.2h0M297.0 1016.0h0M297.3 1025.2h0M299.3 1019.2h0M298.9 1024.1h0M300.4 1018.9h0M300.5 1023.8h0M302.3 1018.3h0M302.1 1025.6h0M303.5 1020.2h0M303.6 1025.4h0M305.3 1018.0h0M305.3 1025.0h0M306.8 1017.2h0M306.9 1023.8h0M308.8 1016.6h0M308.3 1024.7h0M310.1 1017.5h0M309.9 1022.8h0M312.1 1016.0h0M312.0 1023.9h0M313.3 1015.9h0M313.3 1021.7h0M315.1 1015.2h0M315.3 1023.6h0M316.7 1015.3h0M317.0 1022.9h0M318.5 1016.3h0M318.1 1023.0h0M319.4 1014.5h0M320.2 1023.5h0M321.7 1012.9h0M321.7 1022.1h0M322.8 1011.8h0M322.6 1021.8h0M324.5 1012.1h0M324.3 1023.4h0M325.9 1014.7h0M326.3 1021.1h0M328.1 1014.6h0M327.8 1023.2h0M329.1 1016.7h0M329.0 1022.6h0M331.3 1015.1h0M331.0 1021.7h0M332.9 1015.5h0M332.6 1023.4h0M333.9 1012.9h0M334.0 1023.4h0M335.6 1010.4h0M335.9 1022.9h0M337.7 1009.9h0M337.4 1022.0h0M338.7 1008.6h0M339.3 1023.4h0M340.4 1006.9h0M340.4 1023.0h0M342.1 1005.5h0M342.4 1022.9h0M343.8 1007.1h0M343.6 1022.7h0M345.8 1007.7h0M345.6 1023.3h0M347.1 1008.3h0M347.0 1023.5h0M348.4 1002.8h0M348.7 1022.4h0M350.4 999.6h0M350.2 1022.1h0M352.0 995.1h0M352.1 1021.7h0M353.0 993.0h0M353.1 1023.3h0M355.0 996.6h0M355.4 1023.5h0M356.9 1002.6h0M356.4 1023.0h0M358.5 1004.8h0M358.0 1022.5h0M359.9 1005.6h0M359.7 1023.5h0M361.4 1004.0h0M361.1 1023.0h0M362.8 1009.1h0M362.8 1022.3h0M364.6 1013.5h0M364.6 1024.0h0M366.0 1016.4h0M366.4 1022.8h0M367.8 1016.8h0M367.7 1023.6h0M369.2 1016.5h0M369.4 1024.0h0M371.0 1015.9h0M370.8 1022.9h0M372.7 1015.9h0M372.4 1021.9h0M374.3 1017.2h0M374.3 1021.6h0M375.6 1017.2h0M375.6 1021.6h0M377.7 1017.6h0M377.3 1023.6h0M378.8 1016.2h0M378.9 1022.6h0M380.5 1012.8h0M380.2 1022.6h0M381.9 1013.2h0M382.3 1024.7h0M383.5 1016.4h0M384.1 1024.0h0M385.4 1019.9h0M385.7 1023.7h0M386.8 1020.4h0M387.3 1023.4h0M388.8 1022.0h0M388.7 1023.5h0M390.2 1022.3h0M390.0 1025.1h0M391.9 1018.5h0M391.9 1025.1h0M393.3 1016.6h0M393.3 1022.7h0M394.9 1017.2h0M394.8 1024.7h0M396.9 1018.2h0M397.0 1024.7h0M397.8 1019.1h0M398.1 1023.1h0M399.5 1016.7h0M399.8 1023.6h0M401.5 1015.6h0M401.6 1022.8h0M402.6 1012.2h0M402.7 1023.3h0M404.5 1011.8h0M404.7 1023.0h0M406.6 1013.6h0M406.2 1023.7h0M407.9 1013.0h0M407.5 1022.9h0M409.5 1014.1h0M409.8 1022.7h0M410.9 1015.0h0M411.1 1021.5h0M412.8 1015.3h0M413.0 1023.3h0M414.4 1016.6h0M414.2 1021.9h0M415.4 1016.8h0M416.1 1023.7h0M417.5 1013.5h0M417.6 1021.9h0M418.7 1014.6h0M419.1 1023.5h0M420.5 1012.4h0M420.3 1023.0h0M422.3 1013.0h0M422.5 1022.7h0M423.6 1017.6h0M423.4 1023.2h0M425.6 1018.6h0M425.3 1023.6h0M426.7 1021.3h0M426.7 1024.8h0M428.4 1020.2h0M428.5 1026.3h0M430.0 1021.6h0M429.8 1025.3h0M431.8 1022.3h0M432.1 1026.3h0M433.3 1021.7h0M433.3 1026.3h0M435.1 1024.3h0M435.0 1026.4h0M437.0 1022.9h0M436.7 1025.7h0M438.3 1022.5h0M438.1 1027.6h0M440.0 1021.9h0M439.9 1025.5h0M441.2 1022.1h0M441.4 1027.2h0M442.8 1020.6h0M443.2 1027.5h0M444.9 1021.4h0M444.2 1026.0h0M446.5 1018.4h0M446.2 1024.4h0M447.9 1017.5h0M448.0 1026.0h0M449.7 1015.2h0M449.5 1025.7h0M451.0 1013.0h0M451.4 1025.9h0M452.5 1010.9h0M452.9 1026.0h0M454.3 1002.6h0M453.9 1024.9h0M455.9 990.7h0M456.2 1026.4h0M457.3 981.8h0M457.6 1025.4h0M458.9 981.5h0M458.9 1024.2h0M460.7 981.5h0M460.5 1024.4h0M462.6 984.4h0M462.1 1023.9h0M463.9 989.0h0M463.9 1025.0h0M465.7 996.5h0M465.5 1024.3h0M466.6 1004.6h0M466.7 1025.1h0M468.5 1010.9h0M468.8 1025.0h0M470.5 1010.1h0M469.9 1026.1h0M471.7 1012.6h0M471.8 1024.7h0M473.0 1013.1h0M473.4 1027.6h0M474.6 1018.1h0M475.0 1028.0h0M477.0 1024.3h0M476.7 1026.6h0M478.0 1028.1h0M477.9 1027.5h0M480.1 1027.6h0M480.0 1027.6h0M481.2 1028.1h0M481.5 1027.8h0M483.3 1027.8h0M482.7 1026.2h0M484.8 1027.9h0M484.4 1027.1h0M486.0 1028.7h0M486.3 1026.7h0M487.5 1028.5h0M487.8 1028.0h0M489.1 1028.1h0M489.6 1028.4h0M491.3 1029.9h0M491.2 1027.4h0M492.4 1028.0h0M492.2 1027.2h0M494.4 1028.1h0M493.9 1028.4h0M496.1 1028.8h0M496.1 1028.7h0M497.5 1028.6h0M497.1 1027.8h0M498.7 1030.5h0M499.3 1026.9h0M501.0 1028.9h0M500.3 1028.6h0M501.9 1029.0h0M502.2 1026.8h0M503.6 1029.8h0M504.1 1028.6h0M505.3 1028.1h0M505.5 1028.5h0M506.8 1028.4h0M506.9 1028.6h0M508.3 1029.3h0M508.7 1028.4h0M510.4 1028.9h0M510.5 1027.4h0M512.1 1027.7h0M511.5 1028.6h0M513.6 1027.7h0M513.7 1027.8h0M515.4 1029.7h0M514.9 1027.5h0M516.8 1029.3h0M516.6 1028.4h0M517.8 1026.7h0M518.4 1027.4h0M520.0 1028.4h0M520.0 1028.5h0M521.5 1028.8h0M521.2 1027.8h0M523.1 1026.4h0M522.7 1026.3h0M524.9 1028.3h0M524.9 1028.1h0M526.0 1026.3h0M526.5 1027.6h0M527.5 1026.5h0M527.9 1026.4h0M529.2 1026.7h0M529.1 1028.2h0M530.9 1024.9h0M531.1 1028.0h0M532.5 1026.9h0M532.7 1026.4h0M533.9 1025.7h0M534.3 1026.3h0M535.9 1025.5h0M535.7 1028.1h0M537.2 1027.4h0M537.4 1028.3h0M538.7 1027.6h0M539.2 1026.8h0M540.7 1025.2h0M540.8 1027.4h0M542.1 1025.6h0M542.0 1027.8h0M543.7 1025.0h0M543.6 1028.6h0M545.3 1024.2h0M545.6 1027.6h0M547.0 1023.5h0M546.8 1028.2h0M549.0 1022.7h0M548.9 1026.4h0M549.9 1022.2h0M550.0 1028.6h0M551.4 1022.3h0M552.0 1028.0h0M553.2 1023.1h0M553.6 1028.7h0M554.9 1022.0h0M554.8 1028.5h0M556.4 1022.5h0M556.6 1028.4h0M558.0 1024.8h0M558.2 1028.0h0M560.0 1025.8h0M559.5 1026.2h0M561.2 1026.8h0M561.4 1027.6h0M562.9 1026.7h0M562.6 1028.6h0M564.9 1026.8h0M564.3 1027.9h0M566.2 1025.5h0M566.3 1027.8h0M567.6 1022.9h0M568.0 1026.8h0M569.3 1025.0h0M569.7 1026.3h0M571.3 1023.4h0M570.7 1028.5h0M572.3 1024.1h0M572.8 1027.7h0M574.0 1023.3h0M573.8 1026.9h0M576.1 1022.3h0M575.6 1027.6h0M577.6 1023.0h0M577.7 1026.9h0M579.1 1022.1h0M579.0 1026.8h0M580.4 1019.6h0M580.2 1028.3h0M582.1 1021.3h0M581.8 1026.5h0M583.6 1022.6h0M583.6 1028.2h0M585.5 1022.7h0M585.1 1027.9h0M586.9 1020.2h0M587.0 1026.3h0M588.9 1022.8h0M588.5 1028.6h0M590.0 1023.3h0M590.3 1028.1h0M592.0 1023.5h0M591.9 1028.3h0M593.6 1023.3h0M593.7 1028.0h0M595.1 1025.3h0M594.9 1028.6h0M596.7 1025.7h0M596.6 1027.0h0M598.5 1026.9h0M598.3 1027.5h0M599.4 1026.1h0M600.0 1028.4h0M601.6 1029.2h0M601.0 1026.7h0M602.8 1027.4h0M603.1 1028.8h0M604.9 1029.5h0M604.7 1028.8h0M606.3 1028.6h0M606.0 1028.2h0M608.1 1029.3h0M607.8 1027.3h0M609.2 1027.1h0M609.2 1028.6h0M611.1 1027.3h0M610.7 1027.4h0M612.2 1029.2h0M612.7 1026.5h0M614.0 1028.3h0M614.5 1027.4h0M615.5 1027.2h0M615.6 1027.1h0M617.4 1027.0h0M617.2 1028.6h0M618.7 1027.2h0M619.1 1027.0h0M620.4 1028.2h0M621.0 1027.1h0M621.8 1029.5h0M621.9 1028.4h0M623.9 1027.9h0M623.7 1027.7h0M625.5 1029.5h0M625.3 1026.4h0M626.7 1028.5h0M627.1 1027.9h0M628.7 1027.6h0M628.6 1028.7h0M630.2 1028.6h0M630.0 1028.7h0M631.9 1028.0h0M631.6 1028.1h0M633.2 1027.9h0M633.5 1028.7h0M634.9 1028.1h0M635.3 1028.8h0M636.3 1027.3h0M636.8 1028.4h0M638.4 1029.5h0M638.5 1028.6h0M639.5 1027.2h0M639.9 1028.8h0M641.5 1028.3h0M641.6 1026.5h0M642.7 1028.8h0M643.3 1026.7h0M644.3 1029.1h0M644.6 1027.3h0M646.0 1028.2h0M646.4 1027.1h0M647.6 1028.9h0M647.5 1027.3h0M649.0 1028.6h0M649.1 1028.8h0M651.4 1028.5h0M651.1 1028.0h0M652.9 1028.3h0M652.9 1026.5h0M653.9 1027.7h0M654.0 1026.7h0M656.1 1029.0h0M655.6 1028.7h0M657.7 1028.1h0M657.8 1026.9h0M659.1 1027.9h0M658.9 1026.8h0M660.4 1028.8h0M660.6 1026.9h0M662.3 1028.6h0M662.5 1028.4h0M663.7 1028.7h0M663.9 1027.3h0M665.7 1029.5h0M665.3 1027.0h0M667.3 1029.2h0M667.1 1028.8h0M668.5 1028.8h0M668.4 1028.7h0M670.5 1029.4h0M670.4 1026.4h0M672.1 1029.7h0M672.0 1028.7h0M673.6 1029.6h0M673.6 1028.5h0M674.9 1028.1h0M675.1 1027.3h0M676.7 1027.6h0M676.4 1028.8h0M678.5 1029.1h0M678.4 1028.5h0M679.8 1027.2h0M679.5 1028.3h0M681.4 1027.5h0M681.1 1026.9h0M682.6 1027.0h0M682.8 1028.6h0M685.0 1028.2h0M684.6 1028.6h0M686.2 1027.6h0M686.6 1026.5h0M687.7 1027.7h0M687.9 1027.9h0M689.7 1028.6h0M689.4 1028.8h0M690.7 1029.0h0M691.1 1028.7h0M692.6 1026.7h0M692.3 1028.7h0M694.4 1026.5h0M694.3 1027.6h0M695.7 1027.1h0M695.9 1026.4h0M697.1 1027.7h0M697.5 1028.5h0M699.2 1029.4h0M699.2 1028.8h0M700.7 1027.8h0M700.2 1028.6h0M702.2 1029.5h0M702.4 1027.7h0M703.7 1029.2h0M703.8 1028.4h0M705.2 1028.6h0M705.3 1027.0h0M707.1 1029.9h0M707.2 1028.0h0M708.2 1028.8h0M708.8 1026.9h0M710.5 1029.9h0M710.1 1028.2h0M712.1 1029.5h0M712.0 1028.5h0M713.2 1030.7h0M713.1 1028.8h0M714.8 1029.6h0M714.7 1026.5h0M716.5 1030.5h0M716.5 1026.6h0M718.3 1028.4h0M718.6 1028.4h0M719.6 1030.2h0M719.8 1028.0h0M721.2 1030.0h0M721.4 1027.8h0M723.0 1029.5h0M722.9 1028.1h0M725.0 1029.0h0M724.3 1027.9h0M726.4 1029.0h0M725.9 1027.4h0M727.8 1029.0h0M727.6 1026.9h0M729.7 1030.5h0M729.4 1028.8h0M731.1 1029.3h0M730.8 1026.8h0M732.2 1030.2h0M732.4 1026.9h0M734.5 1028.3h0M734.3 1026.5h0M735.7 1030.1h0M735.9 1028.5h0M737.2 1030.2h0M737.2 1028.3h0M739.3 1028.7h0M738.6 1028.8h0M740.8 1028.5h0M740.8 1027.8h0M742.5 1029.8h0M741.8 1027.7h0M743.7 1028.4h0M743.6 1028.7h0M745.8 1028.7h0M745.5 1026.5h0M746.9 1029.0h0M747.0 1028.8h0M748.6 1028.5h0M748.5 1027.0h0M750.5 1029.8h0M750.1 1026.7h0M752.1 1028.6h0M751.6 1028.0h0M753.7 1029.8h0M753.3 1026.4h0M754.8 1028.7h0M754.8 1028.4h0M756.7 1030.5h0M756.3 1028.8h0M758.6 1028.5h0M758.4 1028.3h0M759.6 1028.6h0M759.5 1026.6h0M761.4 1029.2h0M761.6 1028.4h0M762.8 1030.3h0M763.0 1028.4h0M764.7 1029.2h0M764.5 1027.1h0M766.2 1030.6h0M766.1 1028.8h0M767.5 1029.3h0M767.9 1026.8h0M769.2 1029.3h0M769.2 1028.7h0M771.1 1029.6h0M770.6 1027.4h0M772.8 1030.1h0M772.6 1027.4h0M774.6 1030.3h0M774.1 1027.7h0M776.0 1029.3h0M776.0 1027.5h0M777.5 1028.8h0M777.5 1028.6h0M779.0 1028.3h0M779.3 1027.3h0M780.9 1029.2h0M780.2 1028.6h0M782.1 1029.4h0M782.3 1028.2h0M784.1 1030.0h0M783.9 1028.4h0M785.5 1029.6h0M785.4 1027.7h0M786.6 1030.2h0M786.7 1027.1h0M788.7 1028.5h0M788.5 1028.1h0M789.8 1028.4h0M789.9 1028.5h0M791.6 1025.3h0M791.7 1028.3h0M793.7 1020.1h0M793.2 1027.6h0M795.0 1016.4h0M795.2 1028.3h0M796.8 1018.1h0M796.4 1028.3h0M798.4 1020.8h0M798.2 1027.9h0M799.4 1025.7h0M799.7 1027.8h0M801.7 1024.3h0M801.3 1028.5h0M802.7 1024.7h0M802.6 1028.4h0M804.7 1024.8h0M805.0 1026.3h0M806.6 1023.2h0M805.9 1028.8h0M807.9 1022.4h0M807.4 1027.7h0M809.4 1020.9h0M809.6 1028.2h0M810.7 1020.2h0M811.2 1028.1h0M812.7 1018.8h0M812.8 1026.4h0M814.5 1018.2h0M814.3 1027.6h0M816.0 1019.2h0M815.8 1027.4h0M817.3 1019.9h0M817.7 1027.2h0M818.7 1019.1h0M818.8 1026.7h0M820.2 1018.4h0M820.5 1028.2h0M821.9 1021.1h0M822.4 1028.3h0M823.7 1020.3h0M824.0 1028.7h0M825.1 1021.3h0M825.2 1028.7h0M826.7 1022.9h0M826.8 1028.8h0M828.8 1021.2h0M828.6 1027.2h0M829.8 1020.8h0M830.0 1027.3h0M832.2 1021.3h0M832.0 1028.5h0M833.4 1021.8h0M833.6 1028.2h0M834.6 1022.7h0M834.8 1027.0h0M836.6 1022.7h0M836.8 1027.7h0M838.1 1022.7h0M838.2 1027.6h0M840.0 1023.1h0M839.9 1026.5h0M841.1 1023.8h0M841.6 1028.0h0M843.0 1023.2h0M842.8 1028.1h0M844.4 1023.6h0M844.9 1026.6h0M845.9 1022.0h0M846.5 1028.8h0M847.5 1021.5h0M848.0 1028.8h0M849.7 1019.7h0M849.5 1028.3h0M851.1 1018.8h0M850.8 1028.7h0M852.3 1019.2h0M853.0 1027.8h0M854.5 1023.3h0M853.9 1028.5h0M855.7 1026.0h0M855.8 1028.8h0M857.1 1028.0h0M857.5 1026.8h0M858.8 1029.1h0M859.2 1027.3h0M860.3 944.3h0M860.6 1022.7h0M862.5 942.0h0M862.5 1020.5h0M863.5 943.8h0M863.8 1007.0h0M865.5 946.6h0M865.6 1007.5h0M866.7 949.3h0M866.9 1011.7h0M868.3 952.6h0M868.4 1015.0h0M869.8 957.6h0M870.1 1017.0h0M871.5 963.1h0M872.0 1017.9h0M873.8 947.7h0M873.4 1019.3h0M874.8 927.4h0M875.2 1018.7h0M876.9 930.9h0M876.3 1016.3h0M878.5 946.9h0M878.0 1015.8h0M880.1 955.8h0M879.9 1015.8h0M881.0 958.9h0M881.0 1018.9h0M883.0 960.1h0M883.3 1021.0h0M884.8 962.0h0M884.8 1019.7h0M886.3 963.6h0M886.4 1019.9h0M887.6 963.0h0M887.5 1017.7h0M889.7 960.6h0M889.7 1016.8h0M891.2 951.7h0M890.6 1014.5h0M892.7 942.4h0M892.7 1009.3h0M894.1 918.1h0M894.4 1007.3h0M895.7 903.6h0M895.7 1008.7h0M897.0 880.8h0M897.5 1011.8h0M899.0 877.3h0M899.0 1012.2h0M900.6 925.0h0M900.5 1012.8h0M902.4 949.3h0M902.4 1015.4h0M903.5 949.0h0M903.8 1015.2h0M905.2 950.2h0M905.4 1013.9h0M906.9 953.6h0M906.8 1015.4h0M908.9 950.4h0M908.4 1015.0h0M910.2 941.2h0M910.3 1016.4h0M911.9 941.6h0M911.5 1015.6h0M913.5 942.2h0M913.7 1015.0h0M914.7 948.7h0M915.0 1014.0h0M916.7 957.2h0M916.7 1013.4h0M918.3 946.2h0M918.4 1012.4h0M919.7 936.7h0M919.6 1013.7h0M921.4 934.7h0M921.4 1011.7h0M922.9 937.1h0M923.0 1013.0h0M924.4 938.7h0M924.4 1011.4h0M926.2 942.7h0M926.3 1011.8h0M927.6 948.3h0M928.2 1013.7h0M929.5 954.9h0M929.7 1016.3h0M931.3 962.4h0M930.9 1014.7h0M932.2 964.8h0M932.6 1016.3h0M934.0 967.2h0M933.8 1016.4h0M935.7 966.1h0M936.0 1014.5h0M937.6 966.9h0M937.6 1016.0h0M939.2 961.9h0M939.1 1016.9h0M940.6 959.1h0M940.8 1015.3h0M942.5 952.9h0M941.8 1015.5h0M944.1 948.8h0M943.7 1016.1h0M945.2 944.9h0M945.3 1016.3h0M947.1 943.5h0M947.2 1017.4h0M948.5 939.8h0M948.7 1017.8h0M950.4 943.4h0M950.1 1016.3h0M951.9 947.8h0M951.4 1017.5h0M953.7 950.6h0M953.7 1017.3h0M955.1 949.9h0M955.1 1017.5h0M956.8 952.8h0M956.4 1017.9h0M958.1 956.9h0M958.6 1017.5h0M959.8 960.3h0M959.8 1018.0h0M961.6 962.6h0M961.5 1015.8h0M963.3 963.1h0M963.4 1016.0h0M964.7 964.3h0M964.4 1019.3h0M966.5 967.1h0M966.1 1019.4h0M967.6 964.1h0M967.6 1021.2h0M969.7 967.2h0M969.7 1019.7h0M971.2 971.8h0M971.0 1018.0h0M972.8 975.5h0M972.2 1015.9h0M974.1 977.3h0M974.6 1017.5h0M976.1 979.9h0M976.0 1016.8h0M977.2 979.5h0M977.8 1017.2h0M979.0 972.2h0M979.3 1018.3h0M980.3 964.0h0M980.7 1018.2h0M981.8 957.8h0M982.0 1016.5h0M983.9 952.8h0M983.9 1016.9h0M985.0 955.0h0M985.4 1017.2h0M987.0 967.8h0M987.0 1019.1h0M988.4 979.8h0M988.8 1018.9h0M990.3 981.9h0M990.4 1019.8h0M991.7 984.5h0M992.0 1017.4h0M993.6 982.8h0M993.4 1019.2h0M994.7 981.4h0M994.9 1017.8h0M996.8 980.4h0M996.5 1020.6h0M997.8 979.5h0M998.2 1017.9h0M999.5 983.9h0M999.4 1019.4h0M1001.0 988.5h0M1001.8 1018.2h0M1002.8 981.8h0M1002.6 1021.1h0M1004.6 973.6h0M1004.6 1019.0h0M1006.1 970.1h0M1005.8 1020.1h0M1008.1 972.1h0M1008.2 1020.4h0M1009.8 975.8h0M1009.2 1020.5h0M1010.7 978.7h0M1011.3 1021.3h0M1012.8 979.8h0M1012.9 1021.7h0M1014.1 977.3h0M1014.5 1020.4h0M1015.6 975.3h0M1015.6 1020.5h0M1017.1 972.3h0M1017.6 1021.6h0M1019.4 971.9h0M1018.9 1022.2h0M1020.8 973.8h0M1020.4 1023.1h0M1022.0 977.4h0M1022.3 1022.3h0M1024.0 983.2h0M1024.1 1024.3h0M1025.7 990.6h0M1025.5 1022.4h0M1027.4 998.0h0M1027.4 1021.0h0M1028.5 999.8h0M1028.5 1021.9h0M1030.1 1000.7h0M1029.9 1022.5h0M1032.1 997.7h0M1031.5 1022.6h0M1033.7 996.7h0M1033.4 1022.9h0M1035.0 1001.2h0M1035.3 1022.4h0M1037.0 1006.8h0M1036.6 1022.7h0M1038.0 1009.8h0M1038.5 1022.9h0M1040.1 1009.5h0M1039.9 1022.8h0M1041.2 1008.3h0M1041.6 1021.2h0M1043.1 1005.9h0M1042.6 1021.2h0M1044.9 1001.4h0M1044.8 1023.2h0M1046.0 999.2h0M1046.0 1022.9h0M1047.9 999.4h0M1047.9 1020.8h0M1049.4 1003.1h0M1049.2 1020.1h0M1050.8 1009.9h0M1051.0 1021.6h0M1052.6 1011.9h0M1052.7 1022.4h0M1054.4 1011.3h0M1054.1 1022.2h0M1055.7 1013.0h0M1055.9 1023.1h0M1057.2 1014.1h0M1057.7 1022.2h0M1059.3 1012.7h0M1059.3 1024.8h0M1060.9 1012.7h0M1060.6 1023.6h0M1062.4 1014.0h0M1062.1 1024.7h0M1064.1 1014.8h0M1064.1 1024.6h0M1065.4 1014.2h0M1065.3 1023.8h0M1067.2 1013.2h0M1066.9 1024.6h0M1068.6 1009.8h0M1068.8 1024.4h0M1070.2 1004.4h0M1070.4 1021.8h0M1071.4 1005.0h0M1071.5 1023.3h0M1073.2 1005.9h0M1073.6 1023.5h0M1075.2 1006.8h0M1075.3 1023.5h0M1076.2 1008.9h0M1076.2 1023.3h0M1078.3 1013.4h0M1078.0 1024.8h0M1079.7 1014.6h0M1079.4 1025.0h0M1081.7 1015.6h0M1081.6 1024.9h0M1083.0 1016.9h0M1082.7 1024.2h0M1084.8 1016.3h0M1084.9 1024.5h0M1086.3 1015.6h0M1086.0 1025.0h0M1088.1 1009.5h0M1087.7 1026.2h0M1089.6 1002.4h0M1089.1 1026.7h0M1091.2 1004.7h0M1090.7 1025.7h0M1092.3 1004.9h0M1092.3 1023.8h0M1093.9 1011.7h0M1094.0 1023.7h0M1096.0 1013.3h0M1095.6 1024.6h0M1097.2 1013.8h0M1097.4 1023.2h0M1098.9 1014.9h0M1099.3 1025.0h0M1100.9 1015.9h0M1101.0 1023.6h0M1102.0 1014.6h0M1102.5 1026.0h0M1104.0 1016.3h0M1103.6 1026.0h0M1105.7 1018.2h0M1105.2 1026.1h0M1106.8 1020.6h0M1107.0 1025.5h0M1108.6 1021.4h0M1108.3 1026.5h0M1110.0 1022.2h0M1110.3 1026.2h0M1111.7 1021.5h0M1111.7 1025.9h0M1113.7 1018.9h0M1113.4 1025.0h0M1114.9 1017.1h0M1115.2 1025.2h0M1116.9 1017.2h0M1116.9 1025.5h0M1118.1 1013.6h0M1117.9 1024.7h0M1120.2 1010.9h0M1120.2 1025.5h0M1121.2 1009.4h0M1121.1 1025.0h0M1123.2 1010.0h0M1123.2 1026.1h0M1124.8 1012.7h0M1124.7 1025.5h0M1126.0 1016.3h0M1126.2 1027.3h0M1128.1 1020.1h0M1127.5 1027.2h0M1129.4 1021.9h0M1129.5 1025.5h0M1130.7 1020.1h0M1130.7 1025.6h0M1132.7 1019.4h0M1132.6 1024.6h0M1134.3 1016.0h0M1134.5 1026.5h0M1136.0 1015.6h0M1135.6 1026.4h0M1137.3 1014.8h0M1137.7 1025.7h0M1139.1 1018.7h0M1138.9 1025.5h0M1140.7 1018.7h0M1140.4 1025.1h0M1141.8 1019.3h0M1142.2 1023.7h0M1143.8 1018.5h0M1143.8 1025.5h0M1145.4 1012.8h0M1145.6 1025.5h0M1147.0 1011.7h0M1147.1 1024.9h0M1149.0 1011.4h0M1148.5 1023.4h0M1150.0 1014.1h0M1150.3 1023.5h0M1151.9 1014.5h0M1151.9 1025.3h0M1153.3 1016.7h0M1153.5 1023.8h0M1155.1 1017.5h0M1154.7 1026.1h0M1156.5 1017.2h0M1156.6 1025.6h0M1158.0 1016.9h0M1158.4 1024.7h0M1159.4 1018.6h0M1159.5 1025.4h0M1161.2 1018.1h0M1161.3 1024.2h0M1162.7 1019.8h0M1163.2 1025.8h0M1164.5 1020.9h0M1164.3 1026.2h0M1166.5 1019.5h0M1166.2 1024.2h0M1167.7 1019.4h0M1167.6 1024.7h0M1169.6 1018.2h0M1169.8 1025.8h0M1170.6 1018.1h0M1171.3 1025.6h0M1172.6 1017.1h0M1172.9 1025.6h0M1174.4 1016.4h0M1174.4 1026.7h0M1175.9 1018.2h0M1175.6 1026.7h0M1177.7 1016.3h0M1177.2 1026.1h0M1179.2 1017.2h0M1179.1 1024.5h0M1180.9 1018.1h0M1180.2 1026.9h0M1182.3 1019.7h0M1182.5 1025.3h0M1183.6 1019.5h0M1183.8 1025.5h0M1185.7 1022.2h0M1185.2 1027.3h0M1186.8 1021.6h0M1187.3 1026.7h0M1188.6 1022.3h0M1189.0 1026.5h0M1190.1 1023.4h0M1190.0 1027.0h0M1192.2 1022.1h0M1191.5 1026.6h0M1193.1 1022.0h0M1193.4 1025.8h0M1195.2 1023.1h0M1195.1 1026.7h0M1197.0 1023.1h0M1196.4 1026.1h0M1198.4 1021.7h0M1198.0 1025.0h0M1200.1 1022.2h0M1199.5 1026.2h0M1201.2 1021.5h0M1201.3 1024.3h0M1203.0 1013.0h0M1202.9 1026.7h0M1204.6 1007.5h0M1204.7 1026.7h0M1206.5 1010.1h0M1206.3 1024.9h0M1207.7 1013.8h0M1207.9 1024.9h0M1209.7 1018.0h0M1209.7 1025.4h0M1211.3 1015.2h0M1211.0 1025.9h0M1212.5 1014.2h0M1212.5 1025.7h0M1214.1 1014.5h0M1214.6 1026.6h0M1216.0 1015.1h0M1216.2 1025.1h0M1217.6 1016.1h0M1217.7 1025.5h0M1219.0 1015.4h0M1219.1 1024.4h0M1220.4 1013.2h0M1220.6 1025.5h0M1222.2 1014.6h0M1222.5 1026.1h0M1223.5 1015.8h0M1223.8 1025.9h0M1225.4 1015.4h0M1225.2 1026.6h0M1226.6 1014.7h0M1227.0 1026.5h0M1228.8 1013.7h0M1228.6 1025.8h0M1230.2 1012.9h0M1230.2 1025.0h0M1232.1 1010.6h0M1231.9 1026.5h0M1233.4 1012.1h0M1233.0 1026.2h0M1234.7 1011.7h0M1235.0 1025.8h0M1236.5 1012.2h0M1236.4 1026.0h0M1238.0 1016.1h0M1237.8 1026.7h0M1239.7 1015.0h0M1239.8 1026.7h0M1241.2 1015.1h0M1241.4 1025.3h0M1242.9 1010.9h0M1243.0 1026.8h0M1244.3 1007.8h0M1244.5 1026.0h0M1245.9 1004.2h0M1246.6 1026.4h0M1247.6 1002.6h0M1247.8 1026.7h0M1249.2 1003.0h0M1249.3 1024.3h0M1250.7 1003.0h0M1251.0 1026.4h0M1252.5 1007.0h0M1252.6 1025.2h0M1253.9 1008.4h0M1253.9 1024.6h0M1256.0 1009.0h0M1255.8 1024.2h0M1257.5 1010.0h0M1257.4 1024.7h0M1259.0 1008.6h0M1258.7 1025.2h0M1260.6 1009.5h0M1260.6 1025.7h0M1262.1 1007.5h0M1262.1 1023.8h0M1263.4 1004.5h0M1264.0 1025.8h0M1265.5 1005.6h0M1265.6 1023.9h0M1267.3 1009.3h0M1267.1 1025.9h0M1268.7 1007.8h0M1268.8 1024.1h0M1270.3 1009.8h0M1270.0 1024.6h0M1271.5 1006.1h0M1272.0 1026.3h0M1273.6 1006.3h0M1273.7 1026.1h0M1274.6 1010.6h0M1275.1 1025.5h0M1276.2 1008.2h0M1276.8 1025.7h0M1277.9 1007.3h0M1277.8 1025.7h0M1279.7 1005.6h0M1279.7 1025.8h0M1281.7 1005.2h0M1281.1 1026.2h0M1282.9 1006.0h0M1283.3 1024.0h0M1284.7 1004.3h0M1284.8 1025.1h0M1286.3 1004.7h0M1286.5 1024.8h0M1288.0 1000.0h0M1287.6 1022.9h0M1289.1 994.9h0M1289.8 1024.4h0M1290.8 991.2h0M1290.7 1024.7h0M1293.0 992.5h0M1292.6 1023.6h0M1294.3 995.1h0M1294.1 1022.4h0M1296.1 997.4h0M1296.1 1024.6h0M1297.4 998.8h0M1297.1 1024.5h0M1299.2 996.6h0M1299.0 1023.4h0M1300.7 994.0h0M1300.7 1023.6h0M1301.8 993.3h0M1302.0 1023.2h0M1304.1 994.3h0M1304.0 1023.3h0M1305.3 992.8h0M1305.7 1023.8h0M1307.4 992.7h0M1306.9 1023.2h0M1308.8 995.5h0M1308.6 1024.2h0M1310.3 996.1h0M1310.0 1024.0h0M1311.6 997.4h0M1312.0 1025.9h0M1313.2 999.9h0M1313.6 1024.2h0M1315.1 998.3h0M1315.1 1025.5h0M1316.6 994.8h0M1316.6 1023.9h0M1318.5 995.6h0M1318.1 1024.8h0M1319.8 994.5h0M1320.1 1025.4h0M1321.1 995.0h0M1321.3 1024.9h0M1323.1 990.1h0M1322.8 1024.1h0M1324.6 986.8h0M1324.5 1023.2h0M1326.6 990.9h0M1326.4 1023.1h0M1328.0 994.0h0M1328.0 1022.9h0M1329.6 998.4h0M1329.0 1021.9h0M1331.2 999.8h0M1331.2 1023.1h0M1332.9 1001.8h0M1332.3 1022.6h0M1333.8 999.1h0M1334.6 1022.3h0M1335.8 998.3h0M1336.0 1022.7h0M1337.2 995.2h0M1337.6 1020.7h0M1339.2 991.5h0M1339.2 1022.1h0M1340.7 987.7h0M1340.6 1021.5h0M1342.2 988.9h0M1342.3 1021.3h0M1343.9 991.8h0M1344.2 1021.2h0M1345.5 994.6h0M1345.6 1020.8h0M1346.8 999.4h0M1347.1 1021.1h0M1348.9 1000.6h0M1348.4 1022.0h0M1350.0 1000.9h0M1350.6 1021.3h0M1351.9 1001.7h0M1352.2 1023.0h0M1353.7 1002.2h0M1353.1 1021.7h0M1355.0 1000.6h0M1354.8 1021.9h0M1356.6 1001.5h0M1356.9 1021.2h0M1358.0 998.6h0M1357.9 1021.4h0M1359.4 997.2h0M1360.1 1020.4h0M1361.4 996.2h0M1361.2 1020.8h0M1362.9 992.4h0M1363.2 1021.6h0M1364.3 986.5h0M1364.8 1021.8h0M1366.5 979.9h0M1366.3 1020.4h0M1367.9 977.9h0M1368.0 1021.1h0M1369.8 978.2h0M1369.8 1019.9h0M1370.8 984.1h0M1371.2 1021.8h0M1372.2 985.6h0M1373.0 1022.6h0M1373.9 980.4h0M1374.4 1022.1h0M1375.5 981.7h0M1375.5 1021.5h0M1377.4 982.4h0M1377.1 1022.7h0M1379.2 985.0h0M1378.8 1020.0h0M1380.8 988.5h0M1380.7 1021.3h0M1382.4 994.9h0M1382.1 1021.3h0M1383.9 989.0h0M1383.8 1020.8h0M1385.2 977.9h0M1385.3 1020.5h0M1386.6 977.7h0M1387.1 1020.6h0M1388.5 980.3h0M1388.6 1022.6h0M1390.0 983.1h0M1389.8 1021.0h0M1392.1 988.6h0M1392.2 1022.9h0M1393.3 994.5h0M1393.7 1022.4h0M1395.3 991.6h0M1395.1 1023.3h0M1396.6 989.5h0M1396.6 1021.3h0M1398.0 988.3h0M1398.0 1022.3h0M1399.6 987.4h0M1399.6 1021.8h0M1401.1 987.3h0M1401.2 1019.8h0M1403.0 982.1h0M1403.2 1019.6h0M1404.7 972.1h0M1404.9 1020.9h0M1406.5 969.0h0M1405.9 1020.3h0M1407.5 965.1h0M1407.7 1018.6h0M1409.1 961.5h0M1409.6 1019.9h0M1411.2 953.7h0M1411.1 1019.0h0M1412.4 946.7h0M1412.8 1016.9h0M1413.9 949.8h0M1414.0 1018.3h0M1415.8 952.3h0M1416.2 1017.3h0M1417.4 940.7h0M1417.6 1015.8h0M1419.1 936.2h0M1418.8 1016.3h0M1420.2 938.9h0M1420.9 1014.8h0M1422.0 936.5h0M1422.2 1012.7h0M1424.1 930.5h0M1424.2 1012.7h0M1425.7 926.4h0M1425.0 1011.6h0M1427.2 922.5h0M1427.2 1009.1h0M1428.5 919.7h0M1428.5 1011.7h0M1429.9 917.4h0M1430.5 1011.0h0M1431.6 920.4h0M1431.5 1007.4h0M1433.1 925.5h0M1433.8 1010.0h0M1435.1 933.2h0M1435.3 1011.4h0M1436.9 943.7h0M1436.8 1012.4h0M1438.4 949.4h0M1437.8 1012.1h0M1440.0 951.4h0M1440.0 1013.2h0M1441.4 956.6h0M1441.8 1014.1h0M1442.6 960.9h0M1442.6 1014.3h0M1444.5 950.5h0M1444.9 1014.7h0M1445.9 943.5h0M1446.1 1013.8h0M1448.1 943.6h0M1448.2 1017.1h0M1449.3 929.9h0M1449.1 1013.7h0M1451.2 913.1h0M1450.9 1007.9h0M1452.5 918.0h0M1452.3 1010.5h0M1453.8 922.4h0M1454.1 1011.1h0M1455.8 936.0h0M1456.2 1012.8h0M1457.5 939.4h0M1457.5 1012.5h0M1459.2 934.7h0M1459.1 1011.8h0M1460.8 936.1h0M1460.4 1010.1h0M1462.3 935.7h0M1462.5 1010.8h0M1463.5 934.9h0M1464.1 1010.2h0M116.0 913.1h0M116.0 919.8h0M116.0 926.4h0M127.1 895.4h0M127.1 900.9h0M127.1 906.5h0M127.1 913.1h0M127.1 919.8h0M162.6 802.2h0M162.6 808.8h0M162.6 819.9h0M162.6 826.6h0M162.6 835.5h0M162.6 846.6h0M164.4 790.0h0M186.6 802.2h0M186.6 812.2h0M186.6 819.9h0M186.6 828.8h0M229.6 780.0h0M229.6 786.7h0M229.6 792.2h0M229.6 801.1h0M229.6 813.3h0M229.6 819.9h0M271.3 873.2h0M271.3 879.8h0M271.3 888.7h0M271.3 899.8h0M271.3 913.1h0M221.4 836.6h0M251.8 849.9h0M164.1 702.3h0M164.1 713.1h0M164.1 722.3h0M164.1 737.2h0M164.1 756.4h0M164.1 776.5h0M164.1 790.5h0M163.3 802.5h0M163.3 812.6h0M163.3 820.6h0M229.5 596.8h0M229.5 618.9h0M229.5 631.3h0M229.5 648.2h0M229.5 655.0h0M229.5 713.5h0M229.5 722.3h0M229.5 730.4h0M229.5 738.4h0M229.5 759.2h0M229.5 768.5h0M229.5 776.5h0M229.5 784.5h0M229.5 792.5h0M229.5 800.5h0M229.5 812.6h0M229.5 820.6h0M186.2 801.7h0M186.2 811.8h0M186.2 820.6h0M186.2 828.6h0M289.3 806.6h0M289.3 808.8h0M289.3 817.7h0M289.3 831.0h0M289.3 851.0h0M294.4 910.9h0M294.4 914.2h0M294.4 923.1h0M294.4 934.2h0M294.4 946.4h0M294.4 957.5h0M861.1 912.5h0M865.4 894.6h0M865.4 898.0h0M865.4 908.3h0M861.9 923.6h0M865.4 925.3h0M877.3 875.8h0M877.3 882.7h0M877.3 891.2h0M877.3 899.7h0M877.3 908.3h0M877.3 918.5h0M898.6 872.4h0M898.6 877.5h0M898.6 884.4h0M898.6 891.2h0M885.8 1025.2h0M163.3 792.0V905.0M161.0 850.0V935.0M164.8 830.0V935.0M186.2 802.0V880.0M181.0 862.0V935.0M184.0 858.0V935.0M188.0 866.0V935.0M221.3 838.0V925.0M219.0 852.0V925.0M223.8 846.0V925.0M229.5 759.0V890.0M227.5 800.0V900.0M289.3 852.0V985.0M291.5 870.0V990.0M294.4 909.0V990.0M252.3 849.0V930.0M250.0 860.0V930.0M254.5 858.0V930.0M271.2 873.0V885.0M127.2 897.0V960.0M878.2 876.0h0M877.9 878.9h0M878.5 882.6h0M878.0 885.7h0M878.2 888.6h0M877.8 892.3h0M878.0 896.0h0M878.3 899.4h0M877.6 902.8h0M877.5 906.6h0M877.5 909.4h0M878.0 912.8h0M877.6 916.6h0M877.4 919.3h0M878.4 922.3h0M878.0 925.3h0M877.7 928.2h0M877.4 931.7h0M878.5 935.0h0M899.0 872.0V900.0M898.0 880.0V930.0" stroke="#1f77b4" stroke-width="5.5" stroke-linecap="round" fill="none"/>
<polyline points="113.0,977.0 116.5,977.0 118.2,990.8 118.5,989.4 120.4,979.7 120.5,979.6 122.5,975.6 122.7,975.3 124.5,976.2 124.9,976.4 126.5,965.8 127.1,961.9 128.5,969.0 129.3,973.0 130.5,980.2 131.5,986.3 132.5,985.4 133.8,984.1 134.5,989.4 136.0,999.7 136.5,999.7 138.2,999.7 138.5,999.8 140.4,1000.8 140.5,1000.3 142.5,989.3 142.6,988.6 144.5,973.6 144.8,970.8 146.5,977.4 147.1,979.7 148.5,973.9 149.3,970.8 150.5,980.6 151.5,988.6 152.5,983.6 153.7,977.5 154.5,979.0 155.9,981.9 156.5,973.5 158.2,948.6 158.5,951.0 160.4,964.2 160.5,961.5 162.5,919.5 162.6,917.6 164.5,982.4 164.8,993.0 166.5,996.4 167.0,997.4 168.5,997.4 169.3,997.4 170.5,979.9 171.5,966.4 172.5,973.6 173.7,981.9 174.5,973.8 175.9,959.7 176.5,957.3 178.1,950.8 178.5,944.1 180.3,910.9 180.5,911.4 182.5,917.4 182.6,917.6 184.5,904.0 184.8,902.0 186.5,924.4 187.0,930.9 188.1,988.6 188.5,987.4 190.3,981.9 190.5,982.8 192.5,992.8 192.5,993.0 194.5,996.9 194.8,997.4 196.5,1000.9 197.0,1001.9 198.5,983.7 199.2,975.3 200.5,964.9 201.4,957.5 202.5,968.3 203.6,979.7 204.5,972.0 205.9,959.7 206.5,968.0 208.1,988.6 208.5,985.6 210.3,973.0 210.5,972.6 212.5,968.6 212.5,968.6 214.5,968.6 214.7,968.6 216.5,986.2 217.0,990.8 218.5,961.4 219.2,948.6 220.5,927.4 221.4,913.1 222.5,918.7 223.6,924.2 224.5,944.7 225.8,975.3 226.5,981.0 227.4,988.6 228.5,906.1 229.2,857.7 230.5,966.8 230.9,1001.9 232.5,1000.6 233.6,999.7 234.5,995.4 236.5,986.1 236.9,984.1 238.5,982.0 240.3,979.7 240.5,977.7 242.5,961.7 243.6,953.1 244.5,954.9 245.8,957.5 246.5,948.6 248.5,923.3 249.1,915.3 250.5,919.9 252.5,926.4 252.5,926.8 254.5,940.8 254.7,942.0 256.5,967.5 256.9,973.0 258.5,963.4 259.1,959.7 260.5,966.7 261.3,970.8 262.5,963.8 263.5,957.5 264.5,973.7 265.8,995.2 266.5,992.3 268.0,986.3 268.5,981.7 270.2,966.4 270.5,969.9 272.5,993.9 273.5,1006.3 274.5,988.9 275.8,966.4 276.5,967.4 278.5,970.0 279.1,970.8 280.5,958.0 281.3,950.8 282.5,946.8 284.5,940.2 284.6,939.8 284.9,935.3 286.5,927.2 287.1,924.2 288.5,933.0 288.9,935.3 290.4,1001.9 290.5,1001.3 292.5,985.3 292.6,984.1 294.2,1004.1 294.5,1008.7 295.5,1024.1 296.5,1023.7 298.2,1023.0 298.5,1023.0 300.5,1023.0 302.5,1023.0 304.5,1023.0 304.8,1023.0 306.5,1022.7 308.5,1022.3 310.5,1022.0 311.5,1021.8 312.5,1021.8 314.5,1021.8 316.5,1021.8 318.2,1021.8 318.5,1021.7 320.5,1020.7 322.5,1019.7 322.6,1019.6 324.5,1020.1 326.5,1020.6 327.0,1020.7 328.5,1020.2 330.5,1019.6 332.5,1018.9 333.7,1018.5 334.5,1017.9 336.5,1016.4 338.1,1015.2 338.5,1014.6 340.3,1011.9 340.5,1012.2 342.5,1016.2 342.6,1016.3 344.5,1016.8 346.5,1017.3 347.0,1017.4 348.5,1016.3 350.5,1014.8 351.4,1014.1 352.5,1013.4 354.5,1012.0 354.8,1011.9 356.5,1014.2 358.1,1016.3 358.5,1016.6 360.5,1017.9 361.4,1018.5 362.5,1019.2 364.5,1020.6 364.8,1020.7 366.5,1020.3 368.5,1019.8 369.2,1019.6 370.5,1020.0 372.5,1020.5 373.6,1020.7 374.5,1020.6 376.5,1020.3 378.5,1019.9 380.3,1019.6 380.5,1019.8 382.5,1021.3 384.5,1022.8 384.7,1023.0 386.5,1023.8 388.5,1024.8 389.2,1025.2 390.5,1023.5 392.5,1021.0 393.6,1019.6 394.5,1019.8 396.5,1020.1 398.5,1020.4 400.3,1020.7 400.5,1020.7 402.5,1020.2 404.5,1019.7 404.7,1019.6 406.5,1019.9 408.5,1020.3 410.5,1020.6 411.3,1020.7 412.5,1020.7 414.5,1020.7 416.5,1020.7 418.5,1020.7 420.2,1020.7 420.5,1020.9 422.5,1021.9 424.5,1022.9 426.5,1023.9 426.9,1024.1 428.5,1024.3 430.5,1024.7 432.5,1025.0 433.5,1025.2 434.5,1025.0 436.0,1024.8 436.5,1024.7 438.5,1024.3 439.6,1024.2 440.2,1024.1 440.5,1023.9 442.5,1024.6 443.2,1024.2 444.5,1023.2 445.6,1022.4 446.0,1022.7 446.5,1023.2 447.9,1024.2 448.5,1023.0 450.3,1018.9 450.5,1018.9 452.5,1019.4 452.7,1019.5 454.5,1020.3 455.1,1020.7 456.5,1012.3 456.9,1009.9 458.1,999.7 458.5,1003.1 459.3,1009.9 460.5,1014.1 460.5,1014.1 462.5,1008.6 462.9,1007.5 464.5,1014.0 464.7,1014.7 466.5,1018.3 466.5,1018.2 468.3,1017.1 468.5,1017.3 470.5,1019.3 470.6,1019.5 472.4,1018.9 472.5,1019.1 474.2,1026.6 474.5,1026.8 475.4,1027.2 476.5,1027.3 478.5,1027.4 480.5,1027.4 482.5,1027.5 483.8,1027.6 484.5,1027.6 486.5,1027.6 488.5,1027.7 490.5,1027.7 492.5,1027.8 494.5,1027.8 495.7,1027.8 496.5,1027.8 498.5,1027.8 500.5,1027.8 502.5,1027.8 504.5,1027.8 506.5,1027.8 507.7,1027.8 508.5,1027.8 510.5,1027.7 512.5,1027.6 514.5,1027.5 516.5,1027.4 518.5,1027.3 519.6,1027.2 520.5,1027.1 522.5,1026.9 524.5,1026.7 526.5,1026.5 528.5,1026.3 530.5,1026.1 531.6,1026.0 532.5,1026.1 534.5,1026.3 536.5,1026.5 537.5,1026.6 538.5,1026.5 540.5,1026.3 542.5,1026.1 543.5,1026.0 544.5,1025.9 546.5,1025.7 548.5,1025.5 549.5,1025.4 550.5,1024.9 552.5,1023.7 553.7,1023.0 554.5,1023.5 556.5,1024.7 556.7,1024.8 558.5,1025.5 560.5,1026.3 561.4,1026.6 562.5,1026.8 564.5,1027.1 565.0,1027.2 566.5,1025.7 568.0,1024.2 568.5,1024.5 570.5,1025.7 571.0,1026.0 572.5,1025.5 574.5,1024.7 575.8,1024.2 576.5,1025.2 577.6,1026.6 578.5,1025.3 580.5,1022.5 580.5,1022.4 582.5,1025.9 582.9,1026.6 584.5,1024.1 585.9,1021.8 586.5,1022.5 588.5,1024.9 588.9,1025.4 590.5,1025.2 592.5,1024.8 592.5,1024.8 594.5,1024.8 596.0,1024.8 596.1,1024.8 596.5,1025.4 598.3,1027.6 598.5,1027.8 598.5,1027.8 600.5,1027.8 601.8,1027.9 602.5,1027.9 604.5,1027.9 606.0,1027.9 606.5,1027.9 608.5,1027.9 610.5,1027.9 612.5,1027.9 614.5,1027.9 616.5,1027.9 618.5,1027.9 620.5,1027.9 622.5,1027.9 624.5,1027.9 626.5,1027.9 628.5,1027.9 630.5,1027.9 632.5,1027.9 634.5,1027.9 636.5,1027.9 638.5,1027.9 640.5,1027.9 642.2,1027.9 642.5,1027.9 644.5,1027.9 646.5,1027.9 648.5,1027.9 650.5,1027.9 652.5,1027.9 654.5,1027.9 656.5,1027.9 658.5,1027.9 660.5,1027.9 662.5,1027.9 664.5,1027.9 666.5,1027.9 668.5,1027.9 670.5,1027.9 672.5,1027.9 674.5,1027.9 676.5,1027.9 676.8,1027.9 678.5,1027.7 680.5,1027.5 682.5,1027.3 684.5,1027.0 684.9,1027.0 686.5,1027.4 688.4,1027.9 688.5,1027.9 690.5,1027.5 692.5,1027.2 694.5,1026.9 695.3,1026.7 696.5,1027.0 698.5,1027.5 699.9,1027.9 700.5,1027.9 702.5,1027.9 704.5,1027.9 706.5,1027.9 708.5,1027.9 710.5,1027.9 712.5,1027.9 714.5,1027.9 716.5,1028.0 718.5,1028.0 720.5,1028.0 722.5,1028.0 724.5,1028.0 726.5,1028.0 728.5,1028.0 730.5,1028.0 732.5,1028.0 734.5,1028.0 736.5,1028.0 738.5,1028.0 740.5,1028.0 742.5,1028.0 744.5,1028.1 746.5,1028.1 748.5,1028.1 750.5,1028.1 752.5,1028.1 754.5,1028.1 756.0,1028.1 756.5,1028.1 758.5,1028.1 760.5,1028.1 762.5,1028.1 764.5,1028.1 766.0,1028.1 766.5,1028.1 768.5,1028.1 770.5,1028.1 772.5,1028.1 774.5,1028.1 776.5,1028.1 778.5,1028.1 780.5,1028.1 782.5,1028.1 784.5,1028.1 786.5,1028.1 788.5,1028.1 790.5,1028.1 792.5,1028.1 793.0,1028.1 794.5,1025.4 795.3,1024.1 796.5,1025.0 797.6,1025.8 798.5,1025.9 800.5,1026.2 802.2,1026.4 802.5,1026.4 804.5,1026.1 806.5,1025.9 806.8,1025.8 808.5,1025.2 810.5,1024.4 811.4,1024.1 812.5,1023.7 814.5,1022.9 816.0,1022.4 816.5,1022.7 818.4,1024.1 818.5,1024.0 820.5,1022.5 820.7,1022.4 822.5,1024.2 823.0,1024.7 824.5,1024.9 826.5,1025.1 827.6,1025.2 828.5,1024.3 829.9,1022.9 830.5,1023.4 832.2,1024.7 832.5,1024.4 834.5,1022.9 834.5,1022.9 836.5,1025.4 836.8,1025.8 838.5,1026.0 840.5,1026.3 841.5,1026.4 842.5,1025.9 844.5,1024.9 844.9,1024.7 846.5,1023.9 847.2,1023.5 848.5,1023.8 849.5,1024.1 850.5,1025.3 851.8,1027.0 852.5,1027.1 854.2,1027.6 854.5,1027.5 856.5,1027.0 856.5,1027.0 858.5,1026.0 858.8,1025.8 859.4,1030.0 859.7,1026.8 860.2,1019.2 860.5,1009.8 861.1,988.5 861.9,968.0 862.5,973.5 863.7,985.1 864.5,976.6 865.4,968.0 866.5,977.1 867.1,981.6 868.5,987.4 868.8,988.5 870.5,995.3 870.5,995.3 872.5,995.3 873.9,995.3 874.5,985.5 876.5,954.3 876.5,955.0 878.2,976.5 878.5,980.6 880.5,1004.6 880.7,1007.2 882.5,982.3 883.3,971.4 884.5,994.2 885.8,1019.2 886.5,1007.9 887.5,990.2 888.5,995.0 889.2,998.7 890.5,992.0 891.8,985.1 892.5,978.1 894.4,959.5 894.5,956.6 896.5,912.6 896.9,903.1 898.5,955.0 898.6,959.5 900.3,1010.6 900.5,1007.2 902.0,973.1 902.5,976.3 903.8,985.1 904.5,976.8 905.5,966.3 906.5,980.8 907.2,990.2 908.5,996.4 909.7,1002.1 910.5,994.4 912.3,976.5 912.5,978.1 914.5,992.7 914.8,995.3 916.5,998.6 917.4,1000.4 918.5,990.6 919.1,985.1 920.5,968.4 921.7,954.3 922.5,970.9 923.4,988.5 924.5,985.5 925.9,981.6 926.5,976.6 927.6,966.3 928.5,973.7 930.2,988.5 930.5,989.3 932.5,994.6 932.8,995.3 934.5,988.5 934.5,988.6 936.5,996.6 937.0,998.7 938.5,995.8 939.6,993.6 940.5,988.7 942.2,979.9 942.5,980.6 944.5,984.6 944.7,985.1 946.4,981.6 946.5,981.7 948.5,984.4 949.0,985.1 950.5,994.2 951.5,1000.4 952.5,995.3 954.1,986.8 954.5,986.5 956.5,985.2 956.7,985.1 958.5,983.8 959.2,983.3 960.5,989.3 961.8,995.3 962.5,997.7 964.3,1003.8 964.5,1002.8 966.5,990.8 966.9,988.5 968.5,1000.2 969.5,1007.2 970.5,995.7 971.2,988.5 972.5,994.7 973.7,1000.4 974.5,998.3 976.3,993.6 976.5,992.5 978.0,985.1 978.5,990.2 980.5,1010.2 980.5,1010.6 982.5,992.4 983.1,986.8 984.5,985.8 985.7,985.1 986.5,989.5 988.2,998.7 988.5,999.4 990.5,1004.8 990.8,1005.5 992.5,1004.8 994.5,1004.0 995.1,1003.8 996.5,998.0 996.8,997.0 998.5,1005.1 999.3,1008.9 1000.5,1006.6 1001.9,1003.8 1002.5,1003.0 1004.4,1000.4 1004.5,1000.3 1006.5,997.7 1007.0,997.0 1008.5,991.0 1008.7,990.2 1010.5,1004.5 1011.3,1010.6 1012.5,1006.5 1012.7,1005.8 1013.8,1002.1 1014.1,1001.8 1014.5,1001.2 1016.4,1001.0 1016.5,1000.8 1016.8,1000.2 1018.5,1002.7 1019.6,1004.2 1020.0,1004.0 1020.5,1003.8 1022.3,1002.9 1022.5,1003.9 1024.3,1012.4 1024.5,1011.9 1026.4,1005.6 1026.5,1006.2 1028.4,1016.5 1028.5,1016.5 1030.5,1016.5 1030.5,1016.5 1032.5,1009.8 1032.5,1009.7 1034.5,1015.0 1034.6,1015.2 1036.5,1016.1 1037.3,1016.5 1038.5,1017.1 1040.0,1017.9 1040.5,1017.9 1042.5,1017.9 1042.8,1017.9 1044.5,1012.1 1044.8,1011.1 1046.5,1005.5 1046.9,1004.2 1048.5,1011.9 1048.9,1013.8 1050.5,1017.0 1051.0,1017.9 1052.5,1020.0 1053.0,1020.6 1054.5,1017.7 1055.7,1015.2 1056.5,1016.2 1057.8,1017.9 1058.5,1018.3 1060.5,1019.3 1060.5,1019.3 1062.5,1020.3 1063.2,1020.6 1064.5,1018.1 1065.3,1016.5 1066.5,1017.7 1067.3,1018.6 1068.5,1017.1 1070.1,1015.2 1070.5,1014.6 1072.1,1012.4 1072.5,1012.8 1074.5,1014.8 1074.9,1015.2 1076.5,1016.5 1078.3,1017.9 1078.5,1018.1 1080.5,1020.1 1081.0,1020.6 1082.5,1020.6 1084.4,1020.6 1084.5,1020.7 1086.5,1022.0 1086.5,1021.9 1088.5,1019.3 1088.5,1019.3 1090.5,1012.6 1090.6,1012.4 1092.5,1021.5 1092.6,1022.0 1094.5,1021.1 1095.3,1020.6 1096.5,1021.1 1098.5,1021.9 1098.7,1022.0 1100.5,1022.0 1102.5,1022.0 1104.2,1022.0 1104.5,1022.1 1106.5,1022.8 1108.3,1023.4 1108.5,1023.5 1110.5,1024.5 1111.0,1024.7 1112.5,1021.8 1113.8,1019.3 1114.5,1019.5 1116.5,1020.2 1117.9,1020.6 1118.5,1019.9 1120.5,1017.5 1121.3,1016.5 1122.5,1018.0 1124.5,1020.4 1124.7,1020.6 1126.5,1022.9 1127.4,1024.0 1128.5,1024.3 1130.2,1024.7 1130.5,1024.7 1132.5,1024.7 1133.6,1024.7 1134.5,1021.6 1135.6,1017.9 1136.5,1020.3 1137.7,1023.4 1138.5,1023.4 1140.5,1023.4 1141.1,1023.4 1142.5,1021.9 1143.8,1020.6 1144.5,1019.6 1146.5,1016.6 1146.5,1016.5 1148.5,1019.5 1149.3,1020.6 1150.5,1021.0 1152.5,1021.7 1153.4,1022.0 1154.5,1022.2 1156.5,1022.5 1157.5,1022.7 1158.5,1023.0 1160.5,1023.7 1161.6,1024.0 1162.5,1024.3 1164.3,1024.7 1164.5,1024.6 1166.5,1023.3 1168.4,1022.0 1168.5,1022.0 1170.0,1022.0 1170.5,1022.0 1172.5,1022.0 1172.7,1022.0 1173.8,1022.0 1174.5,1022.1 1175.5,1021.3 1176.5,1021.1 1177.9,1020.7 1178.2,1020.6 1178.5,1020.9 1180.0,1022.0 1180.5,1022.4 1180.9,1022.7 1182.5,1023.9 1183.7,1024.7 1184.5,1024.7 1186.5,1024.7 1187.7,1024.7 1188.5,1024.6 1190.5,1024.3 1191.8,1024.0 1192.5,1024.1 1194.5,1024.4 1196.5,1024.6 1197.3,1024.7 1198.5,1024.7 1200.0,1024.7 1200.5,1024.5 1202.5,1023.5 1202.8,1023.4 1204.5,1017.6 1204.8,1016.5 1206.5,1021.0 1206.9,1022.0 1208.5,1022.0 1209.6,1022.0 1210.5,1020.8 1211.6,1019.3 1212.5,1020.1 1213.7,1021.3 1214.5,1021.1 1216.4,1020.6 1216.5,1020.6 1218.5,1019.1 1219.2,1018.6 1220.5,1019.7 1222.5,1021.3 1222.6,1021.3 1224.5,1021.7 1226.0,1022.0 1226.5,1021.5 1228.5,1019.5 1228.7,1019.3 1230.5,1021.5 1231.4,1022.7 1232.5,1022.4 1234.2,1022.0 1234.5,1021.6 1236.2,1019.3 1236.5,1019.7 1238.3,1022.7 1238.5,1022.7 1240.5,1022.7 1242.5,1022.7 1243.7,1022.7 1244.5,1020.9 1246.5,1016.5 1246.5,1016.5 1248.5,1014.5 1248.5,1014.5 1250.5,1019.1 1250.6,1019.3 1252.5,1016.7 1252.6,1016.5 1254.5,1019.1 1254.7,1019.3 1256.5,1022.3 1256.7,1022.7 1258.5,1018.2 1259.4,1015.9 1260.5,1019.1 1261.5,1022.0 1262.5,1018.9 1264.2,1013.8 1264.5,1014.5 1266.5,1019.5 1266.9,1020.6 1268.5,1021.4 1269.7,1022.0 1270.5,1019.7 1272.4,1014.5 1272.5,1014.7 1274.5,1017.9 1274.5,1018.0 1276.5,1021.0 1277.2,1022.0 1278.5,1018.4 1279.9,1014.5 1280.5,1016.6 1282.0,1022.0 1282.5,1020.2 1284.5,1013.7 1284.7,1013.1 1286.5,1013.6 1287.4,1013.8 1288.5,1013.4 1289.5,1013.1 1290.5,1009.3 1291.5,1005.6 1292.5,1008.2 1293.6,1011.1 1294.5,1012.0 1294.9,1012.4 1296.5,1015.6 1297.0,1016.5 1298.5,1014.3 1299.7,1012.4 1300.5,1009.3 1302.4,1001.5 1302.5,1001.9 1304.5,1013.1 1304.5,1013.1 1306.5,1005.8 1306.5,1005.6 1307.9,1009.7 1308.5,1010.0 1310.5,1011.0 1310.6,1011.1 1312.5,1011.1 1312.7,1011.1 1314.5,1017.1 1314.7,1017.9 1316.5,1010.1 1318.1,1002.9 1318.5,1005.3 1320.0,1015.3 1320.2,1016.5 1320.5,1014.9 1322.2,1005.6 1322.5,1006.1 1322.7,1006.6 1324.5,1010.1 1325.0,1011.1 1325.5,1011.1 1326.5,1011.1 1328.2,1011.1 1328.4,1011.1 1328.5,1011.4 1330.5,1016.8 1330.9,1017.8 1331.1,1017.5 1332.5,1014.7 1333.6,1012.4 1333.8,1012.3 1334.5,1012.2 1336.4,1011.7 1336.5,1011.4 1336.6,1011.2 1338.5,1006.4 1338.6,1006.1 1339.1,1004.9 1340.0,1009.7 1340.5,1012.4 1340.5,1012.3 1342.5,1002.9 1342.5,1002.8 1344.5,1016.0 1344.6,1016.5 1346.5,1012.6 1347.3,1011.0 1348.5,1012.8 1350.0,1015.1 1350.5,1014.4 1352.5,1011.4 1352.8,1011.0 1354.5,1014.1 1355.5,1015.8 1356.5,1015.5 1358.2,1015.1 1358.5,1014.4 1360.5,1009.4 1360.9,1008.3 1362.5,1009.8 1363.7,1011.0 1364.5,1009.1 1366.5,1004.4 1367.8,1001.5 1368.5,1002.6 1370.5,1005.6 1370.5,1005.6 1372.5,1007.6 1373.2,1008.3 1374.5,1004.5 1376.0,1000.1 1376.5,1002.3 1378.5,1010.3 1378.7,1011.0 1380.5,1011.6 1382.5,1012.3 1382.8,1012.4 1384.5,1003.5 1386.2,994.6 1386.5,997.1 1388.2,1011.0 1388.5,1010.2 1390.3,1004.2 1390.5,1005.0 1392.3,1012.4 1392.5,1012.1 1394.5,1009.1 1395.1,1008.3 1396.5,1009.7 1397.8,1011.0 1398.5,1010.7 1400.5,1009.7 1400.5,1009.7 1402.5,1006.7 1403.3,1005.6 1404.5,1003.1 1406.0,1000.1 1406.5,1000.6 1408.5,1002.6 1408.7,1002.8 1410.5,995.7 1410.8,994.6 1412.5,983.0 1412.8,981.0 1414.5,993.7 1415.5,1001.5 1416.5,996.2 1418.3,986.5 1418.5,987.5 1420.5,996.5 1421.0,998.7 1422.5,985.2 1423.7,974.2 1424.5,978.4 1426.5,989.2 1426.5,988.7 1428.5,965.3 1428.5,965.3 1430.5,972.6 1430.6,972.8 1432.5,968.9 1432.6,968.7 1434.5,988.7 1435.3,997.4 1436.5,993.5 1437.4,990.6 1438.5,991.7 1440.1,993.3 1440.5,994.6 1442.2,1000.1 1442.5,998.2 1444.2,989.2 1444.5,988.3 1446.5,982.3 1446.9,981.0 1448.5,996.7 1449.0,1001.5 1450.5,976.3 1451.7,956.4 1452.5,962.8 1454.4,978.3 1454.5,978.7 1456.5,991.7 1457.2,996.0 1458.5,985.3 1459.9,974.2 1460.5,973.9 1462.5,972.9 1466.0,972.9" fill="none" stroke="#ff7f0e" stroke-width="2.08" stroke-linejoin="round" stroke-linecap="square"/></g>
<rect x="116.5" y="575.5" width="1346.0" height="479.0" fill="none" stroke="#000" stroke-width="1.11"/>
<path d="M116.5 1055.05v4.31M284.5 1055.05v4.31M452.5 1055.05v4.31M621.5 1055.05v4.31M789.5 1055.05v4.31M957.5 1055.05v4.31M1125.5 1055.05v4.31M1294.5 1055.05v4.31M115.95 649.5h-4.31M115.95 744.5h-4.31M115.95 839.5h-4.31M115.95 934.5h-4.31M115.95 1029.5h-4.31" stroke="#000" stroke-width="1.11" stroke-linecap="square" fill="none"/>
<text x="67.00" y="657.30" textLength="37.88" lengthAdjust="spacing" style="font-family:'DejaVu Sans',sans-serif;font-weight:bold;font-size:22px">0.4</text>
<text x="67.00" y="752.30" textLength="37.88" lengthAdjust="spacing" style="font-family:'DejaVu Sans',sans-serif;font-weight:bold;font-size:22px">0.3</text>
<text x="67.00" y="847.30" textLength="37.88" lengthAdjust="spacing" style="font-family:'DejaVu Sans',sans-serif;font-weight:bold;font-size:22px">0.2</text>
<text x="67.00" y="942.30" textLength="37.88" lengthAdjust="spacing" style="font-family:'DejaVu Sans',sans-serif;font-weight:bold;font-size:22px">0.1</text>
<text x="67.00" y="1037.30" textLength="37.88" lengthAdjust="spacing" style="font-family:'DejaVu Sans',sans-serif;font-weight:bold;font-size:22px">0.0</text>
<rect x="1047.6" y="585.1" width="405.8" height="80" rx="2.8" fill="#fff" fill-opacity="0.8" stroke="#cccccc" stroke-width="1.11"/>
<circle cx="1073.4" cy="600.2" r="2.78" fill="#1f77b4"/>
<path d="M1053 638.7H1092" stroke="#ff7f0e" stroke-width="2.08"/>
<text x="115.75" y="566.50" textLength="41.97" lengthAdjust="spacing" style="font-family:'DejaVu Sans',sans-serif;font-weight:bold;font-size:26.4px">(b)</text>
<text transform="translate(56.14,814.25) rotate(-90)" text-anchor="middle" textLength="211.40" lengthAdjust="spacing" style="font-family:'DejaVu Sans',sans-serif;font-weight:bold;font-size:22px">Peak Voltage [V]</text>
<text x="1106.00" y="605.00" textLength="100.00" lengthAdjust="spacing" style="font-family:'DejaVu Sans',sans-serif;font-weight:bold;font-size:18.06px">Raw Data</text>
<text x="1106.00" y="632.00" textLength="270.61" lengthAdjust="spacing" style="font-family:'DejaVu Sans',sans-serif;font-weight:bold;font-size:18.06px">Butterworth Filtered Data</text>
<text x="1105.00" y="653.20" textLength="339.91" lengthAdjust="spacing" style="font-family:'DejaVu Sans',sans-serif;font-weight:bold;font-size:18.06px">(N=6, Tc=3.3333 min, Type: low)</text>
<text x="634.00" y="29.86" textLength="301.23" lengthAdjust="spacing" style="font-family:'DejaVu Sans',sans-serif;font-weight:bold;font-size:26.4px">10.0 MHz N0000052</text>
<text x="763.50" y="1157.50" textLength="49.73" lengthAdjust="spacing" style="font-family:'DejaVu Sans',sans-serif;font-weight:bold;font-size:22px">UTC</text>
<text transform="translate(113.50,1077.40) rotate(-30)" text-anchor="end" textLength="111.12" lengthAdjust="spacing" style="font-family:'DejaVu Sans',sans-serif;font-weight:bold;font-size:22px">10-17 00</text>
<text transform="translate(281.75,1077.40) rotate(-30)" text-anchor="end" textLength="111.12" lengthAdjust="spacing" style="font-family:'DejaVu Sans',sans-serif;font-weight:bold;font-size:22px">10-17 03</text>
<text transform="translate(450.00,1078.40) rotate(-30)" text-anchor="end" textLength="109.97" lengthAdjust="spacing" style="font-family:'DejaVu Sans',sans-serif;font-weight:bold;font-size:22px">10-17 06</text>
<text transform="translate(619.25,1077.40) rotate(-30)" text-anchor="end" textLength="111.12" lengthAdjust="spacing" style="font-family:'DejaVu Sans',sans-serif;font-weight:bold;font-size:22px">10-17 09</text>
<text transform="translate(785.50,1078.40) rotate(-30)" text-anchor="end" textLength="108.81" lengthAdjust="spacing" style="font-family:'DejaVu Sans',sans-serif;font-weight:bold;font-size:22px">10-17 12</text>
<text transform="translate(954.75,1078.40) rotate(-30)" text-anchor="end" textLength="111.12" lengthAdjust="spacing" style="font-family:'DejaVu Sans',sans-serif;font-weight:bold;font-size:22px">10-17 15</text>
<text transform="translate(1123.00,1077.90) rotate(-30)" text-anchor="end" textLength="111.12" lengthAdjust="spacing" style="font-family:'DejaVu Sans',sans-serif;font-weight:bold;font-size:22px">10-17 18</text>
<text transform="translate(1290.25,1078.40) rotate(-30)" text-anchor="end" textLength="108.81" lengthAdjust="spacing" style="font-family:'DejaVu Sans',sans-serif;font-weight:bold;font-size:22px">10-17 21</text>
</svg>
</body></html>
